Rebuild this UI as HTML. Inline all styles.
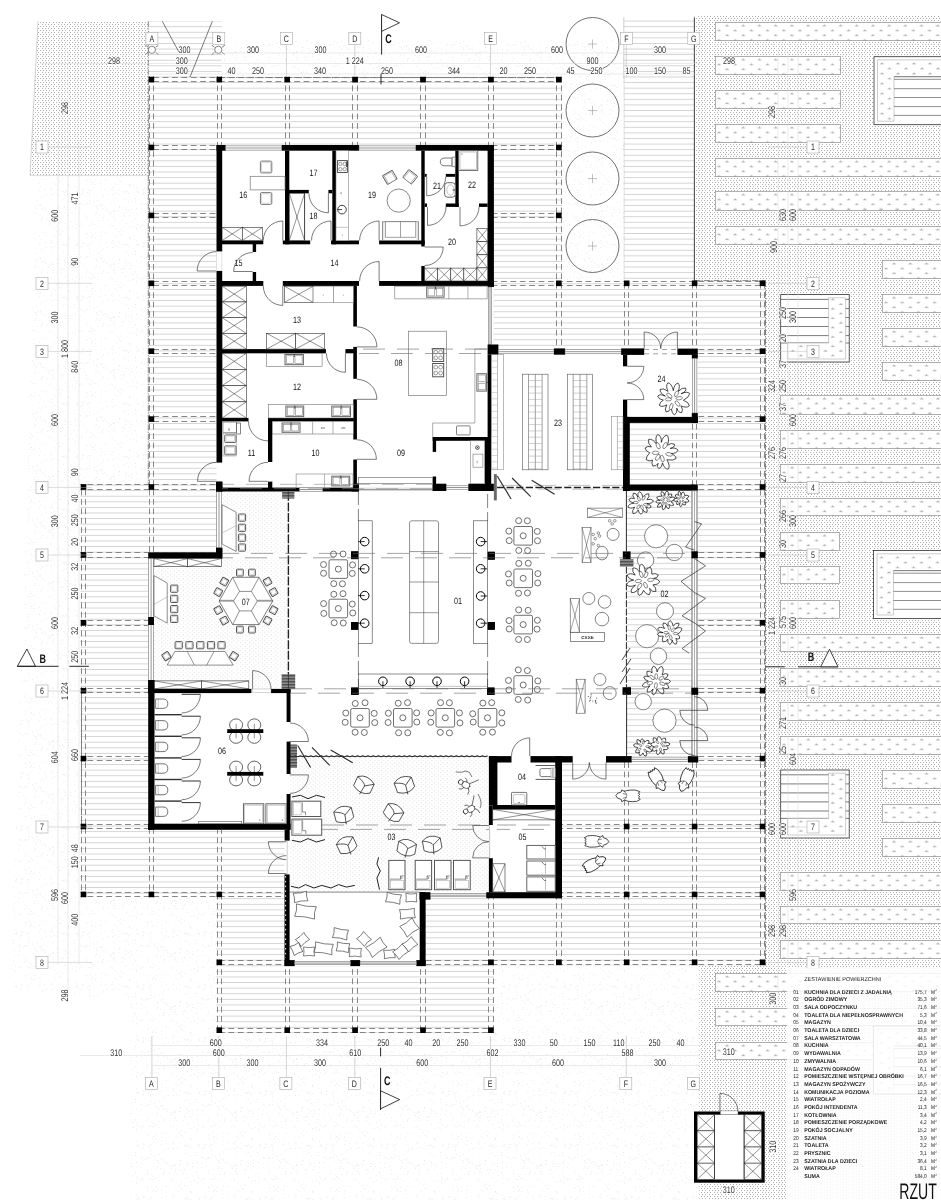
<!DOCTYPE html>
<html lang="pl"><head><meta charset="utf-8"><title>RZUT</title>
<style>
html,body{margin:0;padding:0;background:#fff;}
svg{display:block;font-family:"Liberation Sans",sans-serif;text-rendering:geometricPrecision;filter:grayscale(1);}
</style></head><body>
<svg width="941" height="1200" viewBox="0 0 941 1200">
<defs>
<pattern id="deck" x="0" y="82.1" width="20" height="5.59" patternUnits="userSpaceOnUse">
  <rect x="0" y="0" width="20" height="0.72" fill="#c6c6c6"/>
</pattern>
<pattern id="dense" x="0" y="0" width="16" height="4" patternUnits="userSpaceOnUse">
  <g fill="#adadad"><rect x="0" y="0" width="1" height="1"/><rect x="3" y="0" width="1" height="1"/><rect x="6" y="0" width="1" height="1"/><rect x="10" y="0" width="1" height="1"/><rect x="13" y="0" width="1" height="1"/><rect x="1" y="2" width="1" height="1"/><rect x="5" y="2" width="1" height="1"/><rect x="8" y="2" width="1" height="1"/><rect x="11" y="2" width="1" height="1"/><rect x="14" y="2" width="1" height="1"/></g>
</pattern>
<pattern id="sparse" x="0" y="0" width="61" height="53" patternUnits="userSpaceOnUse"><g fill="#d2d2d2"><circle cx="14.5" cy="28.8" r="0.4"/><circle cx="55.9" cy="25.1" r="0.45"/><circle cx="4.0" cy="0.7" r="0.4"/><circle cx="15.8" cy="12.4" r="0.45"/><circle cx="28.7" cy="44.3" r="0.4"/><circle cx="24.2" cy="45.6" r="0.35"/><circle cx="38.7" cy="46.0" r="0.45"/><circle cx="23.8" cy="0.8" r="0.35"/><circle cx="9.7" cy="50.7" r="0.35"/><circle cx="18.4" cy="1.6" r="0.4"/><circle cx="28.8" cy="38.1" r="0.4"/><circle cx="43.6" cy="48.8" r="0.4"/><circle cx="44.4" cy="30.6" r="0.35"/><circle cx="53.6" cy="5.2" r="0.35"/><circle cx="30.2" cy="13.7" r="0.45"/><circle cx="26.6" cy="33.2" r="0.4"/><circle cx="25.7" cy="44.2" r="0.45"/><circle cx="21.4" cy="31.0" r="0.45"/><circle cx="14.2" cy="17.8" r="0.35"/><circle cx="52.2" cy="52.5" r="0.45"/><circle cx="42.4" cy="37.0" r="0.4"/><circle cx="58.8" cy="47.9" r="0.45"/><circle cx="6.3" cy="34.7" r="0.45"/><circle cx="50.7" cy="30.4" r="0.4"/><circle cx="7.6" cy="25.5" r="0.45"/><circle cx="60.4" cy="4.7" r="0.35"/><circle cx="25.0" cy="8.0" r="0.4"/><circle cx="26.1" cy="22.0" r="0.35"/><circle cx="2.7" cy="32.6" r="0.35"/><circle cx="23.0" cy="31.1" r="0.45"/><circle cx="53.7" cy="52.0" r="0.45"/><circle cx="14.4" cy="1.9" r="0.35"/><circle cx="4.7" cy="31.8" r="0.35"/><circle cx="57.9" cy="51.5" r="0.4"/><circle cx="37.2" cy="8.3" r="0.35"/><circle cx="59.8" cy="18.0" r="0.4"/><circle cx="58.5" cy="47.5" r="0.4"/><circle cx="23.0" cy="46.1" r="0.4"/><circle cx="39.3" cy="31.6" r="0.45"/><circle cx="6.3" cy="51.6" r="0.45"/><circle cx="16.5" cy="33.6" r="0.45"/><circle cx="14.5" cy="16.0" r="0.4"/><circle cx="31.8" cy="29.1" r="0.35"/><circle cx="48.1" cy="52.3" r="0.4"/><circle cx="1.2" cy="32.6" r="0.45"/><circle cx="8.1" cy="33.6" r="0.4"/><circle cx="28.4" cy="36.0" r="0.4"/><circle cx="37.1" cy="14.8" r="0.4"/><circle cx="1.4" cy="3.2" r="0.45"/><circle cx="1.3" cy="19.6" r="0.45"/><circle cx="27.8" cy="31.4" r="0.4"/><circle cx="10.8" cy="9.8" r="0.4"/><circle cx="51.5" cy="14.0" r="0.4"/><circle cx="6.4" cy="43.1" r="0.45"/><circle cx="41.7" cy="7.0" r="0.45"/><circle cx="13.6" cy="42.6" r="0.35"/><circle cx="20.0" cy="35.9" r="0.45"/><circle cx="42.6" cy="5.4" r="0.4"/><circle cx="57.9" cy="35.8" r="0.35"/><circle cx="26.7" cy="45.3" r="0.35"/><circle cx="4.9" cy="39.3" r="0.35"/><circle cx="54.0" cy="23.9" r="0.35"/><circle cx="48.0" cy="1.8" r="0.35"/><circle cx="19.2" cy="44.3" r="0.45"/><circle cx="11.2" cy="14.8" r="0.45"/><circle cx="5.2" cy="32.8" r="0.45"/><circle cx="7.9" cy="15.5" r="0.4"/><circle cx="28.3" cy="33.6" r="0.4"/><circle cx="25.6" cy="21.7" r="0.4"/><circle cx="9.5" cy="0.2" r="0.45"/><circle cx="60.2" cy="23.0" r="0.45"/><circle cx="13.5" cy="39.5" r="0.45"/><circle cx="45.6" cy="51.1" r="0.45"/><circle cx="20.8" cy="12.1" r="0.35"/><circle cx="52.3" cy="51.5" r="0.35"/><circle cx="49.4" cy="2.4" r="0.45"/><circle cx="31.3" cy="10.5" r="0.4"/><circle cx="35.2" cy="0.7" r="0.45"/><circle cx="7.4" cy="26.7" r="0.35"/><circle cx="40.4" cy="27.8" r="0.4"/><circle cx="3.2" cy="48.4" r="0.35"/><circle cx="20.8" cy="13.4" r="0.45"/><circle cx="29.1" cy="41.5" r="0.4"/><circle cx="13.5" cy="6.5" r="0.35"/><circle cx="10.4" cy="42.0" r="0.35"/><circle cx="50.2" cy="0.4" r="0.45"/><circle cx="34.8" cy="21.2" r="0.4"/><circle cx="15.1" cy="32.8" r="0.45"/><circle cx="25.8" cy="25.1" r="0.35"/><circle cx="52.3" cy="41.1" r="0.35"/><circle cx="7.6" cy="3.6" r="0.35"/><circle cx="52.1" cy="4.6" r="0.45"/><circle cx="29.9" cy="8.3" r="0.35"/><circle cx="21.4" cy="34.3" r="0.45"/><circle cx="18.6" cy="14.0" r="0.4"/><circle cx="26.2" cy="6.8" r="0.35"/><circle cx="43.7" cy="20.2" r="0.35"/><circle cx="34.6" cy="2.3" r="0.4"/><circle cx="36.9" cy="41.5" r="0.4"/><circle cx="38.8" cy="2.3" r="0.4"/><circle cx="3.2" cy="33.3" r="0.45"/><circle cx="19.2" cy="50.4" r="0.4"/><circle cx="28.1" cy="13.0" r="0.45"/><circle cx="16.5" cy="31.3" r="0.4"/><circle cx="13.7" cy="6.9" r="0.35"/><circle cx="57.1" cy="19.8" r="0.45"/><circle cx="48.2" cy="13.9" r="0.4"/><circle cx="42.1" cy="49.8" r="0.45"/><circle cx="40.4" cy="47.0" r="0.4"/><circle cx="40.7" cy="38.9" r="0.45"/><circle cx="32.5" cy="43.0" r="0.45"/><circle cx="0.3" cy="7.6" r="0.4"/><circle cx="2.7" cy="4.9" r="0.35"/><circle cx="40.2" cy="19.9" r="0.35"/><circle cx="20.8" cy="45.2" r="0.35"/><circle cx="51.5" cy="35.7" r="0.45"/><circle cx="58.1" cy="30.7" r="0.35"/><circle cx="2.2" cy="40.7" r="0.45"/><circle cx="32.3" cy="12.6" r="0.45"/><circle cx="45.7" cy="49.5" r="0.35"/><circle cx="33.6" cy="46.1" r="0.35"/><circle cx="50.5" cy="12.8" r="0.35"/><circle cx="39.4" cy="24.1" r="0.45"/><circle cx="46.0" cy="20.9" r="0.4"/><circle cx="36.6" cy="49.8" r="0.45"/><circle cx="25.5" cy="4.4" r="0.45"/><circle cx="14.4" cy="49.3" r="0.45"/><circle cx="59.0" cy="22.0" r="0.45"/><circle cx="46.1" cy="35.7" r="0.45"/><circle cx="41.8" cy="8.3" r="0.4"/><circle cx="54.7" cy="7.9" r="0.35"/><circle cx="30.4" cy="25.6" r="0.45"/><circle cx="31.6" cy="23.5" r="0.45"/><circle cx="52.3" cy="7.2" r="0.35"/><circle cx="8.9" cy="27.3" r="0.35"/><circle cx="51.9" cy="28.5" r="0.4"/><circle cx="41.0" cy="45.3" r="0.45"/><circle cx="52.1" cy="31.0" r="0.4"/><circle cx="54.3" cy="16.3" r="0.4"/><circle cx="29.2" cy="20.3" r="0.35"/><circle cx="34.8" cy="12.7" r="0.4"/><circle cx="47.2" cy="7.6" r="0.45"/><circle cx="29.3" cy="31.7" r="0.4"/><circle cx="35.4" cy="47.8" r="0.45"/><circle cx="34.0" cy="25.5" r="0.45"/><circle cx="4.4" cy="50.2" r="0.45"/><circle cx="53.8" cy="2.4" r="0.35"/><circle cx="54.4" cy="34.4" r="0.45"/><circle cx="4.2" cy="11.5" r="0.4"/><circle cx="14.8" cy="10.1" r="0.4"/></g></pattern>
<pattern id="floor" x="0" y="0" width="4.4" height="4.0" patternUnits="userSpaceOnUse">
  <circle cx="0.8" cy="0.8" r="0.4" fill="#a9a9a9"/>
  <circle cx="3.0" cy="2.8" r="0.4" fill="#a9a9a9"/>
</pattern>
<pattern id="hatch" x="0" y="0" width="1.5" height="1.5" patternUnits="userSpaceOnUse">
  <rect x="0" y="0" width="1.5" height="1.5" fill="#9a9a9a"/>
  <rect x="0" y="0" width="1.5" height="0.7" fill="#3c3c3c"/>
</pattern>
<g id="pl" fill="none" stroke="#9a9a9a" stroke-width="0.5">
  <path d="M-2,0.3 H2 M0,-1.4 V0.3 M-1,-0.7 L0,0.3 L1,-0.7"/>
</g>
</defs>
<rect x="0" y="0" width="941" height="1200" fill="#fff"/>

<polygon points="36,176 150,176 150,484 80,484 80,898 216,898 216,1034 494,1034 494,967 699,967 699,1200 130,1200 130,1000 10,990 20,700 30,400" fill="url(#sparse)" stroke="none" stroke-width="0.6" />
<rect x="562" y="80" width="62" height="201" fill="url(#sparse)" stroke="none" stroke-width="0.6" />
<rect x="222" y="40" width="402" height="37" fill="url(#sparse)" stroke="none" stroke-width="0.6" />
<polygon points="38,21 148.3,21 148.3,175.6 30,175.6" fill="url(#dense)" stroke="none" stroke-width="0.6" />
<line x1="38" y1="21" x2="30" y2="175.6" stroke="#aaa" stroke-width="0.5" />
<line x1="30" y1="175.6" x2="148.3" y2="175.6" stroke="#aaa" stroke-width="0.4" />
<polygon points="694.5,16 941,16 941,1200 699.3,1200 699.3,965.5 765.5,965.5 765.5,280.5 694.5,280.5" fill="url(#dense)" stroke="none" stroke-width="0.6" />
<rect x="715.5" y="22.5" width="235" height="18" fill="#fff" stroke="#909090" stroke-width="0.7" />
<clipPath id="c715_22"><rect x="715.5" y="22.2" width="235" height="18.6"/></clipPath><g clip-path="url(#c715_22)">
<use href="#pl" x="719" y="21"/>
<use href="#pl" x="735.2" y="21"/>
<use href="#pl" x="751.4" y="21"/>
<use href="#pl" x="767.6" y="21"/>
<use href="#pl" x="783.8" y="21"/>
<use href="#pl" x="800" y="21"/>
<use href="#pl" x="816.2" y="21"/>
<use href="#pl" x="832.4" y="21"/>
<use href="#pl" x="848.6" y="21"/>
<use href="#pl" x="864.8" y="21"/>
<use href="#pl" x="881" y="21"/>
<use href="#pl" x="897.2" y="21"/>
<use href="#pl" x="913.4" y="21"/>
<use href="#pl" x="929.6" y="21"/>
<use href="#pl" x="945.8" y="21"/>
<use href="#pl" x="727.1" y="25.8"/>
<use href="#pl" x="743.3" y="25.8"/>
<use href="#pl" x="759.5" y="25.8"/>
<use href="#pl" x="775.7" y="25.8"/>
<use href="#pl" x="791.9" y="25.8"/>
<use href="#pl" x="808.1" y="25.8"/>
<use href="#pl" x="824.3" y="25.8"/>
<use href="#pl" x="840.5" y="25.8"/>
<use href="#pl" x="856.7" y="25.8"/>
<use href="#pl" x="872.9" y="25.8"/>
<use href="#pl" x="889.1" y="25.8"/>
<use href="#pl" x="905.3" y="25.8"/>
<use href="#pl" x="921.5" y="25.8"/>
<use href="#pl" x="937.7" y="25.8"/>
<use href="#pl" x="719" y="30.6"/>
<use href="#pl" x="735.2" y="30.6"/>
<use href="#pl" x="751.4" y="30.6"/>
<use href="#pl" x="767.6" y="30.6"/>
<use href="#pl" x="783.8" y="30.6"/>
<use href="#pl" x="800" y="30.6"/>
<use href="#pl" x="816.2" y="30.6"/>
<use href="#pl" x="832.4" y="30.6"/>
<use href="#pl" x="848.6" y="30.6"/>
<use href="#pl" x="864.8" y="30.6"/>
<use href="#pl" x="881" y="30.6"/>
<use href="#pl" x="897.2" y="30.6"/>
<use href="#pl" x="913.4" y="30.6"/>
<use href="#pl" x="929.6" y="30.6"/>
<use href="#pl" x="945.8" y="30.6"/>
<use href="#pl" x="727.1" y="35.4"/>
<use href="#pl" x="743.3" y="35.4"/>
<use href="#pl" x="759.5" y="35.4"/>
<use href="#pl" x="775.7" y="35.4"/>
<use href="#pl" x="791.9" y="35.4"/>
<use href="#pl" x="808.1" y="35.4"/>
<use href="#pl" x="824.3" y="35.4"/>
<use href="#pl" x="840.5" y="35.4"/>
<use href="#pl" x="856.7" y="35.4"/>
<use href="#pl" x="872.9" y="35.4"/>
<use href="#pl" x="889.1" y="35.4"/>
<use href="#pl" x="905.3" y="35.4"/>
<use href="#pl" x="921.5" y="35.4"/>
<use href="#pl" x="937.7" y="35.4"/>
<use href="#pl" x="719" y="40.2"/>
<use href="#pl" x="735.2" y="40.2"/>
<use href="#pl" x="751.4" y="40.2"/>
<use href="#pl" x="767.6" y="40.2"/>
<use href="#pl" x="783.8" y="40.2"/>
<use href="#pl" x="800" y="40.2"/>
<use href="#pl" x="816.2" y="40.2"/>
<use href="#pl" x="832.4" y="40.2"/>
<use href="#pl" x="848.6" y="40.2"/>
<use href="#pl" x="864.8" y="40.2"/>
<use href="#pl" x="881" y="40.2"/>
<use href="#pl" x="897.2" y="40.2"/>
<use href="#pl" x="913.4" y="40.2"/>
<use href="#pl" x="929.6" y="40.2"/>
<use href="#pl" x="945.8" y="40.2"/>
</g>
<rect x="715.5" y="56.5" width="125" height="18" fill="#fff" stroke="#909090" stroke-width="0.7" />
<clipPath id="c715_56"><rect x="715.5" y="56.2" width="125" height="18.6"/></clipPath><g clip-path="url(#c715_56)">
<use href="#pl" x="719" y="55"/>
<use href="#pl" x="735.2" y="55"/>
<use href="#pl" x="751.4" y="55"/>
<use href="#pl" x="767.6" y="55"/>
<use href="#pl" x="783.8" y="55"/>
<use href="#pl" x="800" y="55"/>
<use href="#pl" x="816.2" y="55"/>
<use href="#pl" x="832.4" y="55"/>
<use href="#pl" x="727.1" y="59.8"/>
<use href="#pl" x="743.3" y="59.8"/>
<use href="#pl" x="759.5" y="59.8"/>
<use href="#pl" x="775.7" y="59.8"/>
<use href="#pl" x="791.9" y="59.8"/>
<use href="#pl" x="808.1" y="59.8"/>
<use href="#pl" x="824.3" y="59.8"/>
<use href="#pl" x="840.5" y="59.8"/>
<use href="#pl" x="719" y="64.6"/>
<use href="#pl" x="735.2" y="64.6"/>
<use href="#pl" x="751.4" y="64.6"/>
<use href="#pl" x="767.6" y="64.6"/>
<use href="#pl" x="783.8" y="64.6"/>
<use href="#pl" x="800" y="64.6"/>
<use href="#pl" x="816.2" y="64.6"/>
<use href="#pl" x="832.4" y="64.6"/>
<use href="#pl" x="727.1" y="69.4"/>
<use href="#pl" x="743.3" y="69.4"/>
<use href="#pl" x="759.5" y="69.4"/>
<use href="#pl" x="775.7" y="69.4"/>
<use href="#pl" x="791.9" y="69.4"/>
<use href="#pl" x="808.1" y="69.4"/>
<use href="#pl" x="824.3" y="69.4"/>
<use href="#pl" x="840.5" y="69.4"/>
<use href="#pl" x="719" y="74.2"/>
<use href="#pl" x="735.2" y="74.2"/>
<use href="#pl" x="751.4" y="74.2"/>
<use href="#pl" x="767.6" y="74.2"/>
<use href="#pl" x="783.8" y="74.2"/>
<use href="#pl" x="800" y="74.2"/>
<use href="#pl" x="816.2" y="74.2"/>
<use href="#pl" x="832.4" y="74.2"/>
</g>
<rect x="715.5" y="90.5" width="125" height="18" fill="#fff" stroke="#909090" stroke-width="0.7" />
<clipPath id="c715_90"><rect x="715.5" y="90.2" width="125" height="18.6"/></clipPath><g clip-path="url(#c715_90)">
<use href="#pl" x="719" y="89"/>
<use href="#pl" x="735.2" y="89"/>
<use href="#pl" x="751.4" y="89"/>
<use href="#pl" x="767.6" y="89"/>
<use href="#pl" x="783.8" y="89"/>
<use href="#pl" x="800" y="89"/>
<use href="#pl" x="816.2" y="89"/>
<use href="#pl" x="832.4" y="89"/>
<use href="#pl" x="727.1" y="93.8"/>
<use href="#pl" x="743.3" y="93.8"/>
<use href="#pl" x="759.5" y="93.8"/>
<use href="#pl" x="775.7" y="93.8"/>
<use href="#pl" x="791.9" y="93.8"/>
<use href="#pl" x="808.1" y="93.8"/>
<use href="#pl" x="824.3" y="93.8"/>
<use href="#pl" x="840.5" y="93.8"/>
<use href="#pl" x="719" y="98.6"/>
<use href="#pl" x="735.2" y="98.6"/>
<use href="#pl" x="751.4" y="98.6"/>
<use href="#pl" x="767.6" y="98.6"/>
<use href="#pl" x="783.8" y="98.6"/>
<use href="#pl" x="800" y="98.6"/>
<use href="#pl" x="816.2" y="98.6"/>
<use href="#pl" x="832.4" y="98.6"/>
<use href="#pl" x="727.1" y="103.4"/>
<use href="#pl" x="743.3" y="103.4"/>
<use href="#pl" x="759.5" y="103.4"/>
<use href="#pl" x="775.7" y="103.4"/>
<use href="#pl" x="791.9" y="103.4"/>
<use href="#pl" x="808.1" y="103.4"/>
<use href="#pl" x="824.3" y="103.4"/>
<use href="#pl" x="840.5" y="103.4"/>
<use href="#pl" x="719" y="108.2"/>
<use href="#pl" x="735.2" y="108.2"/>
<use href="#pl" x="751.4" y="108.2"/>
<use href="#pl" x="767.6" y="108.2"/>
<use href="#pl" x="783.8" y="108.2"/>
<use href="#pl" x="800" y="108.2"/>
<use href="#pl" x="816.2" y="108.2"/>
<use href="#pl" x="832.4" y="108.2"/>
</g>
<rect x="715.5" y="124.5" width="125" height="18" fill="#fff" stroke="#909090" stroke-width="0.7" />
<clipPath id="c715_124"><rect x="715.5" y="124.2" width="125" height="18.6"/></clipPath><g clip-path="url(#c715_124)">
<use href="#pl" x="719" y="123"/>
<use href="#pl" x="735.2" y="123"/>
<use href="#pl" x="751.4" y="123"/>
<use href="#pl" x="767.6" y="123"/>
<use href="#pl" x="783.8" y="123"/>
<use href="#pl" x="800" y="123"/>
<use href="#pl" x="816.2" y="123"/>
<use href="#pl" x="832.4" y="123"/>
<use href="#pl" x="727.1" y="127.8"/>
<use href="#pl" x="743.3" y="127.8"/>
<use href="#pl" x="759.5" y="127.8"/>
<use href="#pl" x="775.7" y="127.8"/>
<use href="#pl" x="791.9" y="127.8"/>
<use href="#pl" x="808.1" y="127.8"/>
<use href="#pl" x="824.3" y="127.8"/>
<use href="#pl" x="840.5" y="127.8"/>
<use href="#pl" x="719" y="132.6"/>
<use href="#pl" x="735.2" y="132.6"/>
<use href="#pl" x="751.4" y="132.6"/>
<use href="#pl" x="767.6" y="132.6"/>
<use href="#pl" x="783.8" y="132.6"/>
<use href="#pl" x="800" y="132.6"/>
<use href="#pl" x="816.2" y="132.6"/>
<use href="#pl" x="832.4" y="132.6"/>
<use href="#pl" x="727.1" y="137.4"/>
<use href="#pl" x="743.3" y="137.4"/>
<use href="#pl" x="759.5" y="137.4"/>
<use href="#pl" x="775.7" y="137.4"/>
<use href="#pl" x="791.9" y="137.4"/>
<use href="#pl" x="808.1" y="137.4"/>
<use href="#pl" x="824.3" y="137.4"/>
<use href="#pl" x="840.5" y="137.4"/>
<use href="#pl" x="719" y="142.2"/>
<use href="#pl" x="735.2" y="142.2"/>
<use href="#pl" x="751.4" y="142.2"/>
<use href="#pl" x="767.6" y="142.2"/>
<use href="#pl" x="783.8" y="142.2"/>
<use href="#pl" x="800" y="142.2"/>
<use href="#pl" x="816.2" y="142.2"/>
<use href="#pl" x="832.4" y="142.2"/>
</g>
<rect x="715.5" y="158.5" width="235" height="18" fill="#fff" stroke="#909090" stroke-width="0.7" />
<clipPath id="c715_158"><rect x="715.5" y="158.2" width="235" height="18.6"/></clipPath><g clip-path="url(#c715_158)">
<use href="#pl" x="719" y="157"/>
<use href="#pl" x="735.2" y="157"/>
<use href="#pl" x="751.4" y="157"/>
<use href="#pl" x="767.6" y="157"/>
<use href="#pl" x="783.8" y="157"/>
<use href="#pl" x="800" y="157"/>
<use href="#pl" x="816.2" y="157"/>
<use href="#pl" x="832.4" y="157"/>
<use href="#pl" x="848.6" y="157"/>
<use href="#pl" x="864.8" y="157"/>
<use href="#pl" x="881" y="157"/>
<use href="#pl" x="897.2" y="157"/>
<use href="#pl" x="913.4" y="157"/>
<use href="#pl" x="929.6" y="157"/>
<use href="#pl" x="945.8" y="157"/>
<use href="#pl" x="727.1" y="161.8"/>
<use href="#pl" x="743.3" y="161.8"/>
<use href="#pl" x="759.5" y="161.8"/>
<use href="#pl" x="775.7" y="161.8"/>
<use href="#pl" x="791.9" y="161.8"/>
<use href="#pl" x="808.1" y="161.8"/>
<use href="#pl" x="824.3" y="161.8"/>
<use href="#pl" x="840.5" y="161.8"/>
<use href="#pl" x="856.7" y="161.8"/>
<use href="#pl" x="872.9" y="161.8"/>
<use href="#pl" x="889.1" y="161.8"/>
<use href="#pl" x="905.3" y="161.8"/>
<use href="#pl" x="921.5" y="161.8"/>
<use href="#pl" x="937.7" y="161.8"/>
<use href="#pl" x="719" y="166.6"/>
<use href="#pl" x="735.2" y="166.6"/>
<use href="#pl" x="751.4" y="166.6"/>
<use href="#pl" x="767.6" y="166.6"/>
<use href="#pl" x="783.8" y="166.6"/>
<use href="#pl" x="800" y="166.6"/>
<use href="#pl" x="816.2" y="166.6"/>
<use href="#pl" x="832.4" y="166.6"/>
<use href="#pl" x="848.6" y="166.6"/>
<use href="#pl" x="864.8" y="166.6"/>
<use href="#pl" x="881" y="166.6"/>
<use href="#pl" x="897.2" y="166.6"/>
<use href="#pl" x="913.4" y="166.6"/>
<use href="#pl" x="929.6" y="166.6"/>
<use href="#pl" x="945.8" y="166.6"/>
<use href="#pl" x="727.1" y="171.4"/>
<use href="#pl" x="743.3" y="171.4"/>
<use href="#pl" x="759.5" y="171.4"/>
<use href="#pl" x="775.7" y="171.4"/>
<use href="#pl" x="791.9" y="171.4"/>
<use href="#pl" x="808.1" y="171.4"/>
<use href="#pl" x="824.3" y="171.4"/>
<use href="#pl" x="840.5" y="171.4"/>
<use href="#pl" x="856.7" y="171.4"/>
<use href="#pl" x="872.9" y="171.4"/>
<use href="#pl" x="889.1" y="171.4"/>
<use href="#pl" x="905.3" y="171.4"/>
<use href="#pl" x="921.5" y="171.4"/>
<use href="#pl" x="937.7" y="171.4"/>
<use href="#pl" x="719" y="176.2"/>
<use href="#pl" x="735.2" y="176.2"/>
<use href="#pl" x="751.4" y="176.2"/>
<use href="#pl" x="767.6" y="176.2"/>
<use href="#pl" x="783.8" y="176.2"/>
<use href="#pl" x="800" y="176.2"/>
<use href="#pl" x="816.2" y="176.2"/>
<use href="#pl" x="832.4" y="176.2"/>
<use href="#pl" x="848.6" y="176.2"/>
<use href="#pl" x="864.8" y="176.2"/>
<use href="#pl" x="881" y="176.2"/>
<use href="#pl" x="897.2" y="176.2"/>
<use href="#pl" x="913.4" y="176.2"/>
<use href="#pl" x="929.6" y="176.2"/>
<use href="#pl" x="945.8" y="176.2"/>
</g>
<rect x="715.5" y="191.5" width="235" height="19" fill="#fff" stroke="#909090" stroke-width="0.7" />
<clipPath id="c715_191"><rect x="715.5" y="191.2" width="235" height="19.6"/></clipPath><g clip-path="url(#c715_191)">
<use href="#pl" x="719" y="190"/>
<use href="#pl" x="735.2" y="190"/>
<use href="#pl" x="751.4" y="190"/>
<use href="#pl" x="767.6" y="190"/>
<use href="#pl" x="783.8" y="190"/>
<use href="#pl" x="800" y="190"/>
<use href="#pl" x="816.2" y="190"/>
<use href="#pl" x="832.4" y="190"/>
<use href="#pl" x="848.6" y="190"/>
<use href="#pl" x="864.8" y="190"/>
<use href="#pl" x="881" y="190"/>
<use href="#pl" x="897.2" y="190"/>
<use href="#pl" x="913.4" y="190"/>
<use href="#pl" x="929.6" y="190"/>
<use href="#pl" x="945.8" y="190"/>
<use href="#pl" x="727.1" y="194.8"/>
<use href="#pl" x="743.3" y="194.8"/>
<use href="#pl" x="759.5" y="194.8"/>
<use href="#pl" x="775.7" y="194.8"/>
<use href="#pl" x="791.9" y="194.8"/>
<use href="#pl" x="808.1" y="194.8"/>
<use href="#pl" x="824.3" y="194.8"/>
<use href="#pl" x="840.5" y="194.8"/>
<use href="#pl" x="856.7" y="194.8"/>
<use href="#pl" x="872.9" y="194.8"/>
<use href="#pl" x="889.1" y="194.8"/>
<use href="#pl" x="905.3" y="194.8"/>
<use href="#pl" x="921.5" y="194.8"/>
<use href="#pl" x="937.7" y="194.8"/>
<use href="#pl" x="719" y="199.6"/>
<use href="#pl" x="735.2" y="199.6"/>
<use href="#pl" x="751.4" y="199.6"/>
<use href="#pl" x="767.6" y="199.6"/>
<use href="#pl" x="783.8" y="199.6"/>
<use href="#pl" x="800" y="199.6"/>
<use href="#pl" x="816.2" y="199.6"/>
<use href="#pl" x="832.4" y="199.6"/>
<use href="#pl" x="848.6" y="199.6"/>
<use href="#pl" x="864.8" y="199.6"/>
<use href="#pl" x="881" y="199.6"/>
<use href="#pl" x="897.2" y="199.6"/>
<use href="#pl" x="913.4" y="199.6"/>
<use href="#pl" x="929.6" y="199.6"/>
<use href="#pl" x="945.8" y="199.6"/>
<use href="#pl" x="727.1" y="204.4"/>
<use href="#pl" x="743.3" y="204.4"/>
<use href="#pl" x="759.5" y="204.4"/>
<use href="#pl" x="775.7" y="204.4"/>
<use href="#pl" x="791.9" y="204.4"/>
<use href="#pl" x="808.1" y="204.4"/>
<use href="#pl" x="824.3" y="204.4"/>
<use href="#pl" x="840.5" y="204.4"/>
<use href="#pl" x="856.7" y="204.4"/>
<use href="#pl" x="872.9" y="204.4"/>
<use href="#pl" x="889.1" y="204.4"/>
<use href="#pl" x="905.3" y="204.4"/>
<use href="#pl" x="921.5" y="204.4"/>
<use href="#pl" x="937.7" y="204.4"/>
<use href="#pl" x="719" y="209.2"/>
<use href="#pl" x="735.2" y="209.2"/>
<use href="#pl" x="751.4" y="209.2"/>
<use href="#pl" x="767.6" y="209.2"/>
<use href="#pl" x="783.8" y="209.2"/>
<use href="#pl" x="800" y="209.2"/>
<use href="#pl" x="816.2" y="209.2"/>
<use href="#pl" x="832.4" y="209.2"/>
<use href="#pl" x="848.6" y="209.2"/>
<use href="#pl" x="864.8" y="209.2"/>
<use href="#pl" x="881" y="209.2"/>
<use href="#pl" x="897.2" y="209.2"/>
<use href="#pl" x="913.4" y="209.2"/>
<use href="#pl" x="929.6" y="209.2"/>
<use href="#pl" x="945.8" y="209.2"/>
</g>
<rect x="715.5" y="226.5" width="235" height="18" fill="#fff" stroke="#909090" stroke-width="0.7" />
<clipPath id="c715_226"><rect x="715.5" y="226.2" width="235" height="18.6"/></clipPath><g clip-path="url(#c715_226)">
<use href="#pl" x="719" y="225"/>
<use href="#pl" x="735.2" y="225"/>
<use href="#pl" x="751.4" y="225"/>
<use href="#pl" x="767.6" y="225"/>
<use href="#pl" x="783.8" y="225"/>
<use href="#pl" x="800" y="225"/>
<use href="#pl" x="816.2" y="225"/>
<use href="#pl" x="832.4" y="225"/>
<use href="#pl" x="848.6" y="225"/>
<use href="#pl" x="864.8" y="225"/>
<use href="#pl" x="881" y="225"/>
<use href="#pl" x="897.2" y="225"/>
<use href="#pl" x="913.4" y="225"/>
<use href="#pl" x="929.6" y="225"/>
<use href="#pl" x="945.8" y="225"/>
<use href="#pl" x="727.1" y="229.8"/>
<use href="#pl" x="743.3" y="229.8"/>
<use href="#pl" x="759.5" y="229.8"/>
<use href="#pl" x="775.7" y="229.8"/>
<use href="#pl" x="791.9" y="229.8"/>
<use href="#pl" x="808.1" y="229.8"/>
<use href="#pl" x="824.3" y="229.8"/>
<use href="#pl" x="840.5" y="229.8"/>
<use href="#pl" x="856.7" y="229.8"/>
<use href="#pl" x="872.9" y="229.8"/>
<use href="#pl" x="889.1" y="229.8"/>
<use href="#pl" x="905.3" y="229.8"/>
<use href="#pl" x="921.5" y="229.8"/>
<use href="#pl" x="937.7" y="229.8"/>
<use href="#pl" x="719" y="234.6"/>
<use href="#pl" x="735.2" y="234.6"/>
<use href="#pl" x="751.4" y="234.6"/>
<use href="#pl" x="767.6" y="234.6"/>
<use href="#pl" x="783.8" y="234.6"/>
<use href="#pl" x="800" y="234.6"/>
<use href="#pl" x="816.2" y="234.6"/>
<use href="#pl" x="832.4" y="234.6"/>
<use href="#pl" x="848.6" y="234.6"/>
<use href="#pl" x="864.8" y="234.6"/>
<use href="#pl" x="881" y="234.6"/>
<use href="#pl" x="897.2" y="234.6"/>
<use href="#pl" x="913.4" y="234.6"/>
<use href="#pl" x="929.6" y="234.6"/>
<use href="#pl" x="945.8" y="234.6"/>
<use href="#pl" x="727.1" y="239.4"/>
<use href="#pl" x="743.3" y="239.4"/>
<use href="#pl" x="759.5" y="239.4"/>
<use href="#pl" x="775.7" y="239.4"/>
<use href="#pl" x="791.9" y="239.4"/>
<use href="#pl" x="808.1" y="239.4"/>
<use href="#pl" x="824.3" y="239.4"/>
<use href="#pl" x="840.5" y="239.4"/>
<use href="#pl" x="856.7" y="239.4"/>
<use href="#pl" x="872.9" y="239.4"/>
<use href="#pl" x="889.1" y="239.4"/>
<use href="#pl" x="905.3" y="239.4"/>
<use href="#pl" x="921.5" y="239.4"/>
<use href="#pl" x="937.7" y="239.4"/>
<use href="#pl" x="719" y="244.2"/>
<use href="#pl" x="735.2" y="244.2"/>
<use href="#pl" x="751.4" y="244.2"/>
<use href="#pl" x="767.6" y="244.2"/>
<use href="#pl" x="783.8" y="244.2"/>
<use href="#pl" x="800" y="244.2"/>
<use href="#pl" x="816.2" y="244.2"/>
<use href="#pl" x="832.4" y="244.2"/>
<use href="#pl" x="848.6" y="244.2"/>
<use href="#pl" x="864.8" y="244.2"/>
<use href="#pl" x="881" y="244.2"/>
<use href="#pl" x="897.2" y="244.2"/>
<use href="#pl" x="913.4" y="244.2"/>
<use href="#pl" x="929.6" y="244.2"/>
<use href="#pl" x="945.8" y="244.2"/>
</g>
<rect x="882.5" y="260.5" width="68" height="18" fill="#fff" stroke="#909090" stroke-width="0.7" />
<clipPath id="c882_260"><rect x="882.5" y="260.2" width="68" height="18.6"/></clipPath><g clip-path="url(#c882_260)">
<use href="#pl" x="886" y="259"/>
<use href="#pl" x="902.2" y="259"/>
<use href="#pl" x="918.4" y="259"/>
<use href="#pl" x="934.6" y="259"/>
<use href="#pl" x="950.8" y="259"/>
<use href="#pl" x="894.1" y="263.8"/>
<use href="#pl" x="910.3" y="263.8"/>
<use href="#pl" x="926.5" y="263.8"/>
<use href="#pl" x="942.7" y="263.8"/>
<use href="#pl" x="886" y="268.6"/>
<use href="#pl" x="902.2" y="268.6"/>
<use href="#pl" x="918.4" y="268.6"/>
<use href="#pl" x="934.6" y="268.6"/>
<use href="#pl" x="950.8" y="268.6"/>
<use href="#pl" x="894.1" y="273.4"/>
<use href="#pl" x="910.3" y="273.4"/>
<use href="#pl" x="926.5" y="273.4"/>
<use href="#pl" x="942.7" y="273.4"/>
<use href="#pl" x="886" y="278.2"/>
<use href="#pl" x="902.2" y="278.2"/>
<use href="#pl" x="918.4" y="278.2"/>
<use href="#pl" x="934.6" y="278.2"/>
<use href="#pl" x="950.8" y="278.2"/>
</g>
<rect x="882.5" y="294.5" width="68" height="18" fill="#fff" stroke="#909090" stroke-width="0.7" />
<clipPath id="c882_294"><rect x="882.5" y="294.2" width="68" height="18.6"/></clipPath><g clip-path="url(#c882_294)">
<use href="#pl" x="886" y="293"/>
<use href="#pl" x="902.2" y="293"/>
<use href="#pl" x="918.4" y="293"/>
<use href="#pl" x="934.6" y="293"/>
<use href="#pl" x="950.8" y="293"/>
<use href="#pl" x="894.1" y="297.8"/>
<use href="#pl" x="910.3" y="297.8"/>
<use href="#pl" x="926.5" y="297.8"/>
<use href="#pl" x="942.7" y="297.8"/>
<use href="#pl" x="886" y="302.6"/>
<use href="#pl" x="902.2" y="302.6"/>
<use href="#pl" x="918.4" y="302.6"/>
<use href="#pl" x="934.6" y="302.6"/>
<use href="#pl" x="950.8" y="302.6"/>
<use href="#pl" x="894.1" y="307.4"/>
<use href="#pl" x="910.3" y="307.4"/>
<use href="#pl" x="926.5" y="307.4"/>
<use href="#pl" x="942.7" y="307.4"/>
<use href="#pl" x="886" y="312.2"/>
<use href="#pl" x="902.2" y="312.2"/>
<use href="#pl" x="918.4" y="312.2"/>
<use href="#pl" x="934.6" y="312.2"/>
<use href="#pl" x="950.8" y="312.2"/>
</g>
<rect x="882.5" y="328.5" width="68" height="18" fill="#fff" stroke="#909090" stroke-width="0.7" />
<clipPath id="c882_328"><rect x="882.5" y="328.2" width="68" height="18.6"/></clipPath><g clip-path="url(#c882_328)">
<use href="#pl" x="886" y="327"/>
<use href="#pl" x="902.2" y="327"/>
<use href="#pl" x="918.4" y="327"/>
<use href="#pl" x="934.6" y="327"/>
<use href="#pl" x="950.8" y="327"/>
<use href="#pl" x="894.1" y="331.8"/>
<use href="#pl" x="910.3" y="331.8"/>
<use href="#pl" x="926.5" y="331.8"/>
<use href="#pl" x="942.7" y="331.8"/>
<use href="#pl" x="886" y="336.6"/>
<use href="#pl" x="902.2" y="336.6"/>
<use href="#pl" x="918.4" y="336.6"/>
<use href="#pl" x="934.6" y="336.6"/>
<use href="#pl" x="950.8" y="336.6"/>
<use href="#pl" x="894.1" y="341.4"/>
<use href="#pl" x="910.3" y="341.4"/>
<use href="#pl" x="926.5" y="341.4"/>
<use href="#pl" x="942.7" y="341.4"/>
<use href="#pl" x="886" y="346.2"/>
<use href="#pl" x="902.2" y="346.2"/>
<use href="#pl" x="918.4" y="346.2"/>
<use href="#pl" x="934.6" y="346.2"/>
<use href="#pl" x="950.8" y="346.2"/>
</g>
<rect x="882.5" y="362.5" width="68" height="18" fill="#fff" stroke="#909090" stroke-width="0.7" />
<clipPath id="c882_362"><rect x="882.5" y="362.2" width="68" height="18.6"/></clipPath><g clip-path="url(#c882_362)">
<use href="#pl" x="886" y="361"/>
<use href="#pl" x="902.2" y="361"/>
<use href="#pl" x="918.4" y="361"/>
<use href="#pl" x="934.6" y="361"/>
<use href="#pl" x="950.8" y="361"/>
<use href="#pl" x="894.1" y="365.8"/>
<use href="#pl" x="910.3" y="365.8"/>
<use href="#pl" x="926.5" y="365.8"/>
<use href="#pl" x="942.7" y="365.8"/>
<use href="#pl" x="886" y="370.6"/>
<use href="#pl" x="902.2" y="370.6"/>
<use href="#pl" x="918.4" y="370.6"/>
<use href="#pl" x="934.6" y="370.6"/>
<use href="#pl" x="950.8" y="370.6"/>
<use href="#pl" x="894.1" y="375.4"/>
<use href="#pl" x="910.3" y="375.4"/>
<use href="#pl" x="926.5" y="375.4"/>
<use href="#pl" x="942.7" y="375.4"/>
<use href="#pl" x="886" y="380.2"/>
<use href="#pl" x="902.2" y="380.2"/>
<use href="#pl" x="918.4" y="380.2"/>
<use href="#pl" x="934.6" y="380.2"/>
<use href="#pl" x="950.8" y="380.2"/>
</g>
<rect x="780.5" y="395.5" width="170" height="19" fill="#fff" stroke="#909090" stroke-width="0.7" />
<clipPath id="c780_395"><rect x="780.5" y="395.2" width="170" height="19.6"/></clipPath><g clip-path="url(#c780_395)">
<use href="#pl" x="784" y="394"/>
<use href="#pl" x="800.2" y="394"/>
<use href="#pl" x="816.4" y="394"/>
<use href="#pl" x="832.6" y="394"/>
<use href="#pl" x="848.8" y="394"/>
<use href="#pl" x="865" y="394"/>
<use href="#pl" x="881.2" y="394"/>
<use href="#pl" x="897.4" y="394"/>
<use href="#pl" x="913.6" y="394"/>
<use href="#pl" x="929.8" y="394"/>
<use href="#pl" x="946" y="394"/>
<use href="#pl" x="792.1" y="398.8"/>
<use href="#pl" x="808.3" y="398.8"/>
<use href="#pl" x="824.5" y="398.8"/>
<use href="#pl" x="840.7" y="398.8"/>
<use href="#pl" x="856.9" y="398.8"/>
<use href="#pl" x="873.1" y="398.8"/>
<use href="#pl" x="889.3" y="398.8"/>
<use href="#pl" x="905.5" y="398.8"/>
<use href="#pl" x="921.7" y="398.8"/>
<use href="#pl" x="937.9" y="398.8"/>
<use href="#pl" x="784" y="403.6"/>
<use href="#pl" x="800.2" y="403.6"/>
<use href="#pl" x="816.4" y="403.6"/>
<use href="#pl" x="832.6" y="403.6"/>
<use href="#pl" x="848.8" y="403.6"/>
<use href="#pl" x="865" y="403.6"/>
<use href="#pl" x="881.2" y="403.6"/>
<use href="#pl" x="897.4" y="403.6"/>
<use href="#pl" x="913.6" y="403.6"/>
<use href="#pl" x="929.8" y="403.6"/>
<use href="#pl" x="946" y="403.6"/>
<use href="#pl" x="792.1" y="408.4"/>
<use href="#pl" x="808.3" y="408.4"/>
<use href="#pl" x="824.5" y="408.4"/>
<use href="#pl" x="840.7" y="408.4"/>
<use href="#pl" x="856.9" y="408.4"/>
<use href="#pl" x="873.1" y="408.4"/>
<use href="#pl" x="889.3" y="408.4"/>
<use href="#pl" x="905.5" y="408.4"/>
<use href="#pl" x="921.7" y="408.4"/>
<use href="#pl" x="937.9" y="408.4"/>
<use href="#pl" x="784" y="413.2"/>
<use href="#pl" x="800.2" y="413.2"/>
<use href="#pl" x="816.4" y="413.2"/>
<use href="#pl" x="832.6" y="413.2"/>
<use href="#pl" x="848.8" y="413.2"/>
<use href="#pl" x="865" y="413.2"/>
<use href="#pl" x="881.2" y="413.2"/>
<use href="#pl" x="897.4" y="413.2"/>
<use href="#pl" x="913.6" y="413.2"/>
<use href="#pl" x="929.8" y="413.2"/>
<use href="#pl" x="946" y="413.2"/>
</g>
<rect x="780.5" y="430.5" width="170" height="18" fill="#fff" stroke="#909090" stroke-width="0.7" />
<clipPath id="c780_430"><rect x="780.5" y="430.2" width="170" height="18.6"/></clipPath><g clip-path="url(#c780_430)">
<use href="#pl" x="784" y="429"/>
<use href="#pl" x="800.2" y="429"/>
<use href="#pl" x="816.4" y="429"/>
<use href="#pl" x="832.6" y="429"/>
<use href="#pl" x="848.8" y="429"/>
<use href="#pl" x="865" y="429"/>
<use href="#pl" x="881.2" y="429"/>
<use href="#pl" x="897.4" y="429"/>
<use href="#pl" x="913.6" y="429"/>
<use href="#pl" x="929.8" y="429"/>
<use href="#pl" x="946" y="429"/>
<use href="#pl" x="792.1" y="433.8"/>
<use href="#pl" x="808.3" y="433.8"/>
<use href="#pl" x="824.5" y="433.8"/>
<use href="#pl" x="840.7" y="433.8"/>
<use href="#pl" x="856.9" y="433.8"/>
<use href="#pl" x="873.1" y="433.8"/>
<use href="#pl" x="889.3" y="433.8"/>
<use href="#pl" x="905.5" y="433.8"/>
<use href="#pl" x="921.7" y="433.8"/>
<use href="#pl" x="937.9" y="433.8"/>
<use href="#pl" x="784" y="438.6"/>
<use href="#pl" x="800.2" y="438.6"/>
<use href="#pl" x="816.4" y="438.6"/>
<use href="#pl" x="832.6" y="438.6"/>
<use href="#pl" x="848.8" y="438.6"/>
<use href="#pl" x="865" y="438.6"/>
<use href="#pl" x="881.2" y="438.6"/>
<use href="#pl" x="897.4" y="438.6"/>
<use href="#pl" x="913.6" y="438.6"/>
<use href="#pl" x="929.8" y="438.6"/>
<use href="#pl" x="946" y="438.6"/>
<use href="#pl" x="792.1" y="443.4"/>
<use href="#pl" x="808.3" y="443.4"/>
<use href="#pl" x="824.5" y="443.4"/>
<use href="#pl" x="840.7" y="443.4"/>
<use href="#pl" x="856.9" y="443.4"/>
<use href="#pl" x="873.1" y="443.4"/>
<use href="#pl" x="889.3" y="443.4"/>
<use href="#pl" x="905.5" y="443.4"/>
<use href="#pl" x="921.7" y="443.4"/>
<use href="#pl" x="937.9" y="443.4"/>
<use href="#pl" x="784" y="448.2"/>
<use href="#pl" x="800.2" y="448.2"/>
<use href="#pl" x="816.4" y="448.2"/>
<use href="#pl" x="832.6" y="448.2"/>
<use href="#pl" x="848.8" y="448.2"/>
<use href="#pl" x="865" y="448.2"/>
<use href="#pl" x="881.2" y="448.2"/>
<use href="#pl" x="897.4" y="448.2"/>
<use href="#pl" x="913.6" y="448.2"/>
<use href="#pl" x="929.8" y="448.2"/>
<use href="#pl" x="946" y="448.2"/>
</g>
<rect x="780.5" y="464.5" width="170" height="18" fill="#fff" stroke="#909090" stroke-width="0.7" />
<clipPath id="c780_464"><rect x="780.5" y="464.2" width="170" height="18.6"/></clipPath><g clip-path="url(#c780_464)">
<use href="#pl" x="784" y="463"/>
<use href="#pl" x="800.2" y="463"/>
<use href="#pl" x="816.4" y="463"/>
<use href="#pl" x="832.6" y="463"/>
<use href="#pl" x="848.8" y="463"/>
<use href="#pl" x="865" y="463"/>
<use href="#pl" x="881.2" y="463"/>
<use href="#pl" x="897.4" y="463"/>
<use href="#pl" x="913.6" y="463"/>
<use href="#pl" x="929.8" y="463"/>
<use href="#pl" x="946" y="463"/>
<use href="#pl" x="792.1" y="467.8"/>
<use href="#pl" x="808.3" y="467.8"/>
<use href="#pl" x="824.5" y="467.8"/>
<use href="#pl" x="840.7" y="467.8"/>
<use href="#pl" x="856.9" y="467.8"/>
<use href="#pl" x="873.1" y="467.8"/>
<use href="#pl" x="889.3" y="467.8"/>
<use href="#pl" x="905.5" y="467.8"/>
<use href="#pl" x="921.7" y="467.8"/>
<use href="#pl" x="937.9" y="467.8"/>
<use href="#pl" x="784" y="472.6"/>
<use href="#pl" x="800.2" y="472.6"/>
<use href="#pl" x="816.4" y="472.6"/>
<use href="#pl" x="832.6" y="472.6"/>
<use href="#pl" x="848.8" y="472.6"/>
<use href="#pl" x="865" y="472.6"/>
<use href="#pl" x="881.2" y="472.6"/>
<use href="#pl" x="897.4" y="472.6"/>
<use href="#pl" x="913.6" y="472.6"/>
<use href="#pl" x="929.8" y="472.6"/>
<use href="#pl" x="946" y="472.6"/>
<use href="#pl" x="792.1" y="477.4"/>
<use href="#pl" x="808.3" y="477.4"/>
<use href="#pl" x="824.5" y="477.4"/>
<use href="#pl" x="840.7" y="477.4"/>
<use href="#pl" x="856.9" y="477.4"/>
<use href="#pl" x="873.1" y="477.4"/>
<use href="#pl" x="889.3" y="477.4"/>
<use href="#pl" x="905.5" y="477.4"/>
<use href="#pl" x="921.7" y="477.4"/>
<use href="#pl" x="937.9" y="477.4"/>
<use href="#pl" x="784" y="482.2"/>
<use href="#pl" x="800.2" y="482.2"/>
<use href="#pl" x="816.4" y="482.2"/>
<use href="#pl" x="832.6" y="482.2"/>
<use href="#pl" x="848.8" y="482.2"/>
<use href="#pl" x="865" y="482.2"/>
<use href="#pl" x="881.2" y="482.2"/>
<use href="#pl" x="897.4" y="482.2"/>
<use href="#pl" x="913.6" y="482.2"/>
<use href="#pl" x="929.8" y="482.2"/>
<use href="#pl" x="946" y="482.2"/>
</g>
<rect x="780.5" y="498.5" width="170" height="17" fill="#fff" stroke="#909090" stroke-width="0.7" />
<clipPath id="c780_498"><rect x="780.5" y="498.2" width="170" height="17.6"/></clipPath><g clip-path="url(#c780_498)">
<use href="#pl" x="784" y="497"/>
<use href="#pl" x="800.2" y="497"/>
<use href="#pl" x="816.4" y="497"/>
<use href="#pl" x="832.6" y="497"/>
<use href="#pl" x="848.8" y="497"/>
<use href="#pl" x="865" y="497"/>
<use href="#pl" x="881.2" y="497"/>
<use href="#pl" x="897.4" y="497"/>
<use href="#pl" x="913.6" y="497"/>
<use href="#pl" x="929.8" y="497"/>
<use href="#pl" x="946" y="497"/>
<use href="#pl" x="792.1" y="501.8"/>
<use href="#pl" x="808.3" y="501.8"/>
<use href="#pl" x="824.5" y="501.8"/>
<use href="#pl" x="840.7" y="501.8"/>
<use href="#pl" x="856.9" y="501.8"/>
<use href="#pl" x="873.1" y="501.8"/>
<use href="#pl" x="889.3" y="501.8"/>
<use href="#pl" x="905.5" y="501.8"/>
<use href="#pl" x="921.7" y="501.8"/>
<use href="#pl" x="937.9" y="501.8"/>
<use href="#pl" x="784" y="506.6"/>
<use href="#pl" x="800.2" y="506.6"/>
<use href="#pl" x="816.4" y="506.6"/>
<use href="#pl" x="832.6" y="506.6"/>
<use href="#pl" x="848.8" y="506.6"/>
<use href="#pl" x="865" y="506.6"/>
<use href="#pl" x="881.2" y="506.6"/>
<use href="#pl" x="897.4" y="506.6"/>
<use href="#pl" x="913.6" y="506.6"/>
<use href="#pl" x="929.8" y="506.6"/>
<use href="#pl" x="946" y="506.6"/>
<use href="#pl" x="792.1" y="511.4"/>
<use href="#pl" x="808.3" y="511.4"/>
<use href="#pl" x="824.5" y="511.4"/>
<use href="#pl" x="840.7" y="511.4"/>
<use href="#pl" x="856.9" y="511.4"/>
<use href="#pl" x="873.1" y="511.4"/>
<use href="#pl" x="889.3" y="511.4"/>
<use href="#pl" x="905.5" y="511.4"/>
<use href="#pl" x="921.7" y="511.4"/>
<use href="#pl" x="937.9" y="511.4"/>
<use href="#pl" x="784" y="516.2"/>
<use href="#pl" x="800.2" y="516.2"/>
<use href="#pl" x="816.4" y="516.2"/>
<use href="#pl" x="832.6" y="516.2"/>
<use href="#pl" x="848.8" y="516.2"/>
<use href="#pl" x="865" y="516.2"/>
<use href="#pl" x="881.2" y="516.2"/>
<use href="#pl" x="897.4" y="516.2"/>
<use href="#pl" x="913.6" y="516.2"/>
<use href="#pl" x="929.8" y="516.2"/>
<use href="#pl" x="946" y="516.2"/>
</g>
<rect x="780.5" y="532.5" width="59" height="18" fill="#fff" stroke="#909090" stroke-width="0.7" />
<clipPath id="c780_532"><rect x="780.5" y="532.2" width="59" height="18.6"/></clipPath><g clip-path="url(#c780_532)">
<use href="#pl" x="784" y="531"/>
<use href="#pl" x="800.2" y="531"/>
<use href="#pl" x="816.4" y="531"/>
<use href="#pl" x="832.6" y="531"/>
<use href="#pl" x="792.1" y="535.8"/>
<use href="#pl" x="808.3" y="535.8"/>
<use href="#pl" x="824.5" y="535.8"/>
<use href="#pl" x="840.7" y="535.8"/>
<use href="#pl" x="784" y="540.6"/>
<use href="#pl" x="800.2" y="540.6"/>
<use href="#pl" x="816.4" y="540.6"/>
<use href="#pl" x="832.6" y="540.6"/>
<use href="#pl" x="792.1" y="545.4"/>
<use href="#pl" x="808.3" y="545.4"/>
<use href="#pl" x="824.5" y="545.4"/>
<use href="#pl" x="840.7" y="545.4"/>
<use href="#pl" x="784" y="550.2"/>
<use href="#pl" x="800.2" y="550.2"/>
<use href="#pl" x="816.4" y="550.2"/>
<use href="#pl" x="832.6" y="550.2"/>
</g>
<rect x="780.5" y="566.5" width="59" height="17" fill="#fff" stroke="#909090" stroke-width="0.7" />
<clipPath id="c780_566"><rect x="780.5" y="566.2" width="59" height="17.6"/></clipPath><g clip-path="url(#c780_566)">
<use href="#pl" x="784" y="565"/>
<use href="#pl" x="800.2" y="565"/>
<use href="#pl" x="816.4" y="565"/>
<use href="#pl" x="832.6" y="565"/>
<use href="#pl" x="792.1" y="569.8"/>
<use href="#pl" x="808.3" y="569.8"/>
<use href="#pl" x="824.5" y="569.8"/>
<use href="#pl" x="840.7" y="569.8"/>
<use href="#pl" x="784" y="574.6"/>
<use href="#pl" x="800.2" y="574.6"/>
<use href="#pl" x="816.4" y="574.6"/>
<use href="#pl" x="832.6" y="574.6"/>
<use href="#pl" x="792.1" y="579.4"/>
<use href="#pl" x="808.3" y="579.4"/>
<use href="#pl" x="824.5" y="579.4"/>
<use href="#pl" x="840.7" y="579.4"/>
<use href="#pl" x="784" y="584.2"/>
<use href="#pl" x="800.2" y="584.2"/>
<use href="#pl" x="816.4" y="584.2"/>
<use href="#pl" x="832.6" y="584.2"/>
</g>
<rect x="780.5" y="600.5" width="59" height="18" fill="#fff" stroke="#909090" stroke-width="0.7" />
<clipPath id="c780_600"><rect x="780.5" y="600.2" width="59" height="18.6"/></clipPath><g clip-path="url(#c780_600)">
<use href="#pl" x="784" y="599"/>
<use href="#pl" x="800.2" y="599"/>
<use href="#pl" x="816.4" y="599"/>
<use href="#pl" x="832.6" y="599"/>
<use href="#pl" x="792.1" y="603.8"/>
<use href="#pl" x="808.3" y="603.8"/>
<use href="#pl" x="824.5" y="603.8"/>
<use href="#pl" x="840.7" y="603.8"/>
<use href="#pl" x="784" y="608.6"/>
<use href="#pl" x="800.2" y="608.6"/>
<use href="#pl" x="816.4" y="608.6"/>
<use href="#pl" x="832.6" y="608.6"/>
<use href="#pl" x="792.1" y="613.4"/>
<use href="#pl" x="808.3" y="613.4"/>
<use href="#pl" x="824.5" y="613.4"/>
<use href="#pl" x="840.7" y="613.4"/>
<use href="#pl" x="784" y="618.2"/>
<use href="#pl" x="800.2" y="618.2"/>
<use href="#pl" x="816.4" y="618.2"/>
<use href="#pl" x="832.6" y="618.2"/>
</g>
<rect x="780.5" y="634.5" width="170" height="17" fill="#fff" stroke="#909090" stroke-width="0.7" />
<clipPath id="c780_634"><rect x="780.5" y="634.2" width="170" height="17.6"/></clipPath><g clip-path="url(#c780_634)">
<use href="#pl" x="784" y="633"/>
<use href="#pl" x="800.2" y="633"/>
<use href="#pl" x="816.4" y="633"/>
<use href="#pl" x="832.6" y="633"/>
<use href="#pl" x="848.8" y="633"/>
<use href="#pl" x="865" y="633"/>
<use href="#pl" x="881.2" y="633"/>
<use href="#pl" x="897.4" y="633"/>
<use href="#pl" x="913.6" y="633"/>
<use href="#pl" x="929.8" y="633"/>
<use href="#pl" x="946" y="633"/>
<use href="#pl" x="792.1" y="637.8"/>
<use href="#pl" x="808.3" y="637.8"/>
<use href="#pl" x="824.5" y="637.8"/>
<use href="#pl" x="840.7" y="637.8"/>
<use href="#pl" x="856.9" y="637.8"/>
<use href="#pl" x="873.1" y="637.8"/>
<use href="#pl" x="889.3" y="637.8"/>
<use href="#pl" x="905.5" y="637.8"/>
<use href="#pl" x="921.7" y="637.8"/>
<use href="#pl" x="937.9" y="637.8"/>
<use href="#pl" x="784" y="642.6"/>
<use href="#pl" x="800.2" y="642.6"/>
<use href="#pl" x="816.4" y="642.6"/>
<use href="#pl" x="832.6" y="642.6"/>
<use href="#pl" x="848.8" y="642.6"/>
<use href="#pl" x="865" y="642.6"/>
<use href="#pl" x="881.2" y="642.6"/>
<use href="#pl" x="897.4" y="642.6"/>
<use href="#pl" x="913.6" y="642.6"/>
<use href="#pl" x="929.8" y="642.6"/>
<use href="#pl" x="946" y="642.6"/>
<use href="#pl" x="792.1" y="647.4"/>
<use href="#pl" x="808.3" y="647.4"/>
<use href="#pl" x="824.5" y="647.4"/>
<use href="#pl" x="840.7" y="647.4"/>
<use href="#pl" x="856.9" y="647.4"/>
<use href="#pl" x="873.1" y="647.4"/>
<use href="#pl" x="889.3" y="647.4"/>
<use href="#pl" x="905.5" y="647.4"/>
<use href="#pl" x="921.7" y="647.4"/>
<use href="#pl" x="937.9" y="647.4"/>
<use href="#pl" x="784" y="652.2"/>
<use href="#pl" x="800.2" y="652.2"/>
<use href="#pl" x="816.4" y="652.2"/>
<use href="#pl" x="832.6" y="652.2"/>
<use href="#pl" x="848.8" y="652.2"/>
<use href="#pl" x="865" y="652.2"/>
<use href="#pl" x="881.2" y="652.2"/>
<use href="#pl" x="897.4" y="652.2"/>
<use href="#pl" x="913.6" y="652.2"/>
<use href="#pl" x="929.8" y="652.2"/>
<use href="#pl" x="946" y="652.2"/>
</g>
<rect x="780.5" y="668.5" width="170" height="18" fill="#fff" stroke="#909090" stroke-width="0.7" />
<clipPath id="c780_668"><rect x="780.5" y="668.2" width="170" height="18.6"/></clipPath><g clip-path="url(#c780_668)">
<use href="#pl" x="784" y="667"/>
<use href="#pl" x="800.2" y="667"/>
<use href="#pl" x="816.4" y="667"/>
<use href="#pl" x="832.6" y="667"/>
<use href="#pl" x="848.8" y="667"/>
<use href="#pl" x="865" y="667"/>
<use href="#pl" x="881.2" y="667"/>
<use href="#pl" x="897.4" y="667"/>
<use href="#pl" x="913.6" y="667"/>
<use href="#pl" x="929.8" y="667"/>
<use href="#pl" x="946" y="667"/>
<use href="#pl" x="792.1" y="671.8"/>
<use href="#pl" x="808.3" y="671.8"/>
<use href="#pl" x="824.5" y="671.8"/>
<use href="#pl" x="840.7" y="671.8"/>
<use href="#pl" x="856.9" y="671.8"/>
<use href="#pl" x="873.1" y="671.8"/>
<use href="#pl" x="889.3" y="671.8"/>
<use href="#pl" x="905.5" y="671.8"/>
<use href="#pl" x="921.7" y="671.8"/>
<use href="#pl" x="937.9" y="671.8"/>
<use href="#pl" x="784" y="676.6"/>
<use href="#pl" x="800.2" y="676.6"/>
<use href="#pl" x="816.4" y="676.6"/>
<use href="#pl" x="832.6" y="676.6"/>
<use href="#pl" x="848.8" y="676.6"/>
<use href="#pl" x="865" y="676.6"/>
<use href="#pl" x="881.2" y="676.6"/>
<use href="#pl" x="897.4" y="676.6"/>
<use href="#pl" x="913.6" y="676.6"/>
<use href="#pl" x="929.8" y="676.6"/>
<use href="#pl" x="946" y="676.6"/>
<use href="#pl" x="792.1" y="681.4"/>
<use href="#pl" x="808.3" y="681.4"/>
<use href="#pl" x="824.5" y="681.4"/>
<use href="#pl" x="840.7" y="681.4"/>
<use href="#pl" x="856.9" y="681.4"/>
<use href="#pl" x="873.1" y="681.4"/>
<use href="#pl" x="889.3" y="681.4"/>
<use href="#pl" x="905.5" y="681.4"/>
<use href="#pl" x="921.7" y="681.4"/>
<use href="#pl" x="937.9" y="681.4"/>
<use href="#pl" x="784" y="686.2"/>
<use href="#pl" x="800.2" y="686.2"/>
<use href="#pl" x="816.4" y="686.2"/>
<use href="#pl" x="832.6" y="686.2"/>
<use href="#pl" x="848.8" y="686.2"/>
<use href="#pl" x="865" y="686.2"/>
<use href="#pl" x="881.2" y="686.2"/>
<use href="#pl" x="897.4" y="686.2"/>
<use href="#pl" x="913.6" y="686.2"/>
<use href="#pl" x="929.8" y="686.2"/>
<use href="#pl" x="946" y="686.2"/>
</g>
<rect x="780.5" y="702.5" width="170" height="18" fill="#fff" stroke="#909090" stroke-width="0.7" />
<clipPath id="c780_702"><rect x="780.5" y="702.2" width="170" height="18.6"/></clipPath><g clip-path="url(#c780_702)">
<use href="#pl" x="784" y="701"/>
<use href="#pl" x="800.2" y="701"/>
<use href="#pl" x="816.4" y="701"/>
<use href="#pl" x="832.6" y="701"/>
<use href="#pl" x="848.8" y="701"/>
<use href="#pl" x="865" y="701"/>
<use href="#pl" x="881.2" y="701"/>
<use href="#pl" x="897.4" y="701"/>
<use href="#pl" x="913.6" y="701"/>
<use href="#pl" x="929.8" y="701"/>
<use href="#pl" x="946" y="701"/>
<use href="#pl" x="792.1" y="705.8"/>
<use href="#pl" x="808.3" y="705.8"/>
<use href="#pl" x="824.5" y="705.8"/>
<use href="#pl" x="840.7" y="705.8"/>
<use href="#pl" x="856.9" y="705.8"/>
<use href="#pl" x="873.1" y="705.8"/>
<use href="#pl" x="889.3" y="705.8"/>
<use href="#pl" x="905.5" y="705.8"/>
<use href="#pl" x="921.7" y="705.8"/>
<use href="#pl" x="937.9" y="705.8"/>
<use href="#pl" x="784" y="710.6"/>
<use href="#pl" x="800.2" y="710.6"/>
<use href="#pl" x="816.4" y="710.6"/>
<use href="#pl" x="832.6" y="710.6"/>
<use href="#pl" x="848.8" y="710.6"/>
<use href="#pl" x="865" y="710.6"/>
<use href="#pl" x="881.2" y="710.6"/>
<use href="#pl" x="897.4" y="710.6"/>
<use href="#pl" x="913.6" y="710.6"/>
<use href="#pl" x="929.8" y="710.6"/>
<use href="#pl" x="946" y="710.6"/>
<use href="#pl" x="792.1" y="715.4"/>
<use href="#pl" x="808.3" y="715.4"/>
<use href="#pl" x="824.5" y="715.4"/>
<use href="#pl" x="840.7" y="715.4"/>
<use href="#pl" x="856.9" y="715.4"/>
<use href="#pl" x="873.1" y="715.4"/>
<use href="#pl" x="889.3" y="715.4"/>
<use href="#pl" x="905.5" y="715.4"/>
<use href="#pl" x="921.7" y="715.4"/>
<use href="#pl" x="937.9" y="715.4"/>
<use href="#pl" x="784" y="720.2"/>
<use href="#pl" x="800.2" y="720.2"/>
<use href="#pl" x="816.4" y="720.2"/>
<use href="#pl" x="832.6" y="720.2"/>
<use href="#pl" x="848.8" y="720.2"/>
<use href="#pl" x="865" y="720.2"/>
<use href="#pl" x="881.2" y="720.2"/>
<use href="#pl" x="897.4" y="720.2"/>
<use href="#pl" x="913.6" y="720.2"/>
<use href="#pl" x="929.8" y="720.2"/>
<use href="#pl" x="946" y="720.2"/>
</g>
<rect x="780.5" y="736.5" width="170" height="18" fill="#fff" stroke="#909090" stroke-width="0.7" />
<clipPath id="c780_736"><rect x="780.5" y="736.2" width="170" height="18.6"/></clipPath><g clip-path="url(#c780_736)">
<use href="#pl" x="784" y="735"/>
<use href="#pl" x="800.2" y="735"/>
<use href="#pl" x="816.4" y="735"/>
<use href="#pl" x="832.6" y="735"/>
<use href="#pl" x="848.8" y="735"/>
<use href="#pl" x="865" y="735"/>
<use href="#pl" x="881.2" y="735"/>
<use href="#pl" x="897.4" y="735"/>
<use href="#pl" x="913.6" y="735"/>
<use href="#pl" x="929.8" y="735"/>
<use href="#pl" x="946" y="735"/>
<use href="#pl" x="792.1" y="739.8"/>
<use href="#pl" x="808.3" y="739.8"/>
<use href="#pl" x="824.5" y="739.8"/>
<use href="#pl" x="840.7" y="739.8"/>
<use href="#pl" x="856.9" y="739.8"/>
<use href="#pl" x="873.1" y="739.8"/>
<use href="#pl" x="889.3" y="739.8"/>
<use href="#pl" x="905.5" y="739.8"/>
<use href="#pl" x="921.7" y="739.8"/>
<use href="#pl" x="937.9" y="739.8"/>
<use href="#pl" x="784" y="744.6"/>
<use href="#pl" x="800.2" y="744.6"/>
<use href="#pl" x="816.4" y="744.6"/>
<use href="#pl" x="832.6" y="744.6"/>
<use href="#pl" x="848.8" y="744.6"/>
<use href="#pl" x="865" y="744.6"/>
<use href="#pl" x="881.2" y="744.6"/>
<use href="#pl" x="897.4" y="744.6"/>
<use href="#pl" x="913.6" y="744.6"/>
<use href="#pl" x="929.8" y="744.6"/>
<use href="#pl" x="946" y="744.6"/>
<use href="#pl" x="792.1" y="749.4"/>
<use href="#pl" x="808.3" y="749.4"/>
<use href="#pl" x="824.5" y="749.4"/>
<use href="#pl" x="840.7" y="749.4"/>
<use href="#pl" x="856.9" y="749.4"/>
<use href="#pl" x="873.1" y="749.4"/>
<use href="#pl" x="889.3" y="749.4"/>
<use href="#pl" x="905.5" y="749.4"/>
<use href="#pl" x="921.7" y="749.4"/>
<use href="#pl" x="937.9" y="749.4"/>
<use href="#pl" x="784" y="754.2"/>
<use href="#pl" x="800.2" y="754.2"/>
<use href="#pl" x="816.4" y="754.2"/>
<use href="#pl" x="832.6" y="754.2"/>
<use href="#pl" x="848.8" y="754.2"/>
<use href="#pl" x="865" y="754.2"/>
<use href="#pl" x="881.2" y="754.2"/>
<use href="#pl" x="897.4" y="754.2"/>
<use href="#pl" x="913.6" y="754.2"/>
<use href="#pl" x="929.8" y="754.2"/>
<use href="#pl" x="946" y="754.2"/>
</g>
<rect x="882.5" y="770.5" width="68" height="18" fill="#fff" stroke="#909090" stroke-width="0.7" />
<clipPath id="c882_770"><rect x="882.5" y="770.2" width="68" height="18.6"/></clipPath><g clip-path="url(#c882_770)">
<use href="#pl" x="886" y="769"/>
<use href="#pl" x="902.2" y="769"/>
<use href="#pl" x="918.4" y="769"/>
<use href="#pl" x="934.6" y="769"/>
<use href="#pl" x="950.8" y="769"/>
<use href="#pl" x="894.1" y="773.8"/>
<use href="#pl" x="910.3" y="773.8"/>
<use href="#pl" x="926.5" y="773.8"/>
<use href="#pl" x="942.7" y="773.8"/>
<use href="#pl" x="886" y="778.6"/>
<use href="#pl" x="902.2" y="778.6"/>
<use href="#pl" x="918.4" y="778.6"/>
<use href="#pl" x="934.6" y="778.6"/>
<use href="#pl" x="950.8" y="778.6"/>
<use href="#pl" x="894.1" y="783.4"/>
<use href="#pl" x="910.3" y="783.4"/>
<use href="#pl" x="926.5" y="783.4"/>
<use href="#pl" x="942.7" y="783.4"/>
<use href="#pl" x="886" y="788.2"/>
<use href="#pl" x="902.2" y="788.2"/>
<use href="#pl" x="918.4" y="788.2"/>
<use href="#pl" x="934.6" y="788.2"/>
<use href="#pl" x="950.8" y="788.2"/>
</g>
<rect x="882.5" y="804.5" width="68" height="18" fill="#fff" stroke="#909090" stroke-width="0.7" />
<clipPath id="c882_804"><rect x="882.5" y="804.2" width="68" height="18.6"/></clipPath><g clip-path="url(#c882_804)">
<use href="#pl" x="886" y="803"/>
<use href="#pl" x="902.2" y="803"/>
<use href="#pl" x="918.4" y="803"/>
<use href="#pl" x="934.6" y="803"/>
<use href="#pl" x="950.8" y="803"/>
<use href="#pl" x="894.1" y="807.8"/>
<use href="#pl" x="910.3" y="807.8"/>
<use href="#pl" x="926.5" y="807.8"/>
<use href="#pl" x="942.7" y="807.8"/>
<use href="#pl" x="886" y="812.6"/>
<use href="#pl" x="902.2" y="812.6"/>
<use href="#pl" x="918.4" y="812.6"/>
<use href="#pl" x="934.6" y="812.6"/>
<use href="#pl" x="950.8" y="812.6"/>
<use href="#pl" x="894.1" y="817.4"/>
<use href="#pl" x="910.3" y="817.4"/>
<use href="#pl" x="926.5" y="817.4"/>
<use href="#pl" x="942.7" y="817.4"/>
<use href="#pl" x="886" y="822.2"/>
<use href="#pl" x="902.2" y="822.2"/>
<use href="#pl" x="918.4" y="822.2"/>
<use href="#pl" x="934.6" y="822.2"/>
<use href="#pl" x="950.8" y="822.2"/>
</g>
<rect x="882.5" y="838.5" width="68" height="18" fill="#fff" stroke="#909090" stroke-width="0.7" />
<clipPath id="c882_838"><rect x="882.5" y="838.2" width="68" height="18.6"/></clipPath><g clip-path="url(#c882_838)">
<use href="#pl" x="886" y="837"/>
<use href="#pl" x="902.2" y="837"/>
<use href="#pl" x="918.4" y="837"/>
<use href="#pl" x="934.6" y="837"/>
<use href="#pl" x="950.8" y="837"/>
<use href="#pl" x="894.1" y="841.8"/>
<use href="#pl" x="910.3" y="841.8"/>
<use href="#pl" x="926.5" y="841.8"/>
<use href="#pl" x="942.7" y="841.8"/>
<use href="#pl" x="886" y="846.6"/>
<use href="#pl" x="902.2" y="846.6"/>
<use href="#pl" x="918.4" y="846.6"/>
<use href="#pl" x="934.6" y="846.6"/>
<use href="#pl" x="950.8" y="846.6"/>
<use href="#pl" x="894.1" y="851.4"/>
<use href="#pl" x="910.3" y="851.4"/>
<use href="#pl" x="926.5" y="851.4"/>
<use href="#pl" x="942.7" y="851.4"/>
<use href="#pl" x="886" y="856.2"/>
<use href="#pl" x="902.2" y="856.2"/>
<use href="#pl" x="918.4" y="856.2"/>
<use href="#pl" x="934.6" y="856.2"/>
<use href="#pl" x="950.8" y="856.2"/>
</g>
<rect x="780.5" y="872.5" width="170" height="18" fill="#fff" stroke="#909090" stroke-width="0.7" />
<clipPath id="c780_872"><rect x="780.5" y="872.2" width="170" height="18.6"/></clipPath><g clip-path="url(#c780_872)">
<use href="#pl" x="784" y="871"/>
<use href="#pl" x="800.2" y="871"/>
<use href="#pl" x="816.4" y="871"/>
<use href="#pl" x="832.6" y="871"/>
<use href="#pl" x="848.8" y="871"/>
<use href="#pl" x="865" y="871"/>
<use href="#pl" x="881.2" y="871"/>
<use href="#pl" x="897.4" y="871"/>
<use href="#pl" x="913.6" y="871"/>
<use href="#pl" x="929.8" y="871"/>
<use href="#pl" x="946" y="871"/>
<use href="#pl" x="792.1" y="875.8"/>
<use href="#pl" x="808.3" y="875.8"/>
<use href="#pl" x="824.5" y="875.8"/>
<use href="#pl" x="840.7" y="875.8"/>
<use href="#pl" x="856.9" y="875.8"/>
<use href="#pl" x="873.1" y="875.8"/>
<use href="#pl" x="889.3" y="875.8"/>
<use href="#pl" x="905.5" y="875.8"/>
<use href="#pl" x="921.7" y="875.8"/>
<use href="#pl" x="937.9" y="875.8"/>
<use href="#pl" x="784" y="880.6"/>
<use href="#pl" x="800.2" y="880.6"/>
<use href="#pl" x="816.4" y="880.6"/>
<use href="#pl" x="832.6" y="880.6"/>
<use href="#pl" x="848.8" y="880.6"/>
<use href="#pl" x="865" y="880.6"/>
<use href="#pl" x="881.2" y="880.6"/>
<use href="#pl" x="897.4" y="880.6"/>
<use href="#pl" x="913.6" y="880.6"/>
<use href="#pl" x="929.8" y="880.6"/>
<use href="#pl" x="946" y="880.6"/>
<use href="#pl" x="792.1" y="885.4"/>
<use href="#pl" x="808.3" y="885.4"/>
<use href="#pl" x="824.5" y="885.4"/>
<use href="#pl" x="840.7" y="885.4"/>
<use href="#pl" x="856.9" y="885.4"/>
<use href="#pl" x="873.1" y="885.4"/>
<use href="#pl" x="889.3" y="885.4"/>
<use href="#pl" x="905.5" y="885.4"/>
<use href="#pl" x="921.7" y="885.4"/>
<use href="#pl" x="937.9" y="885.4"/>
<use href="#pl" x="784" y="890.2"/>
<use href="#pl" x="800.2" y="890.2"/>
<use href="#pl" x="816.4" y="890.2"/>
<use href="#pl" x="832.6" y="890.2"/>
<use href="#pl" x="848.8" y="890.2"/>
<use href="#pl" x="865" y="890.2"/>
<use href="#pl" x="881.2" y="890.2"/>
<use href="#pl" x="897.4" y="890.2"/>
<use href="#pl" x="913.6" y="890.2"/>
<use href="#pl" x="929.8" y="890.2"/>
<use href="#pl" x="946" y="890.2"/>
</g>
<rect x="780.5" y="906.5" width="170" height="17" fill="#fff" stroke="#909090" stroke-width="0.7" />
<clipPath id="c780_906"><rect x="780.5" y="906.2" width="170" height="17.6"/></clipPath><g clip-path="url(#c780_906)">
<use href="#pl" x="784" y="905"/>
<use href="#pl" x="800.2" y="905"/>
<use href="#pl" x="816.4" y="905"/>
<use href="#pl" x="832.6" y="905"/>
<use href="#pl" x="848.8" y="905"/>
<use href="#pl" x="865" y="905"/>
<use href="#pl" x="881.2" y="905"/>
<use href="#pl" x="897.4" y="905"/>
<use href="#pl" x="913.6" y="905"/>
<use href="#pl" x="929.8" y="905"/>
<use href="#pl" x="946" y="905"/>
<use href="#pl" x="792.1" y="909.8"/>
<use href="#pl" x="808.3" y="909.8"/>
<use href="#pl" x="824.5" y="909.8"/>
<use href="#pl" x="840.7" y="909.8"/>
<use href="#pl" x="856.9" y="909.8"/>
<use href="#pl" x="873.1" y="909.8"/>
<use href="#pl" x="889.3" y="909.8"/>
<use href="#pl" x="905.5" y="909.8"/>
<use href="#pl" x="921.7" y="909.8"/>
<use href="#pl" x="937.9" y="909.8"/>
<use href="#pl" x="784" y="914.6"/>
<use href="#pl" x="800.2" y="914.6"/>
<use href="#pl" x="816.4" y="914.6"/>
<use href="#pl" x="832.6" y="914.6"/>
<use href="#pl" x="848.8" y="914.6"/>
<use href="#pl" x="865" y="914.6"/>
<use href="#pl" x="881.2" y="914.6"/>
<use href="#pl" x="897.4" y="914.6"/>
<use href="#pl" x="913.6" y="914.6"/>
<use href="#pl" x="929.8" y="914.6"/>
<use href="#pl" x="946" y="914.6"/>
<use href="#pl" x="792.1" y="919.4"/>
<use href="#pl" x="808.3" y="919.4"/>
<use href="#pl" x="824.5" y="919.4"/>
<use href="#pl" x="840.7" y="919.4"/>
<use href="#pl" x="856.9" y="919.4"/>
<use href="#pl" x="873.1" y="919.4"/>
<use href="#pl" x="889.3" y="919.4"/>
<use href="#pl" x="905.5" y="919.4"/>
<use href="#pl" x="921.7" y="919.4"/>
<use href="#pl" x="937.9" y="919.4"/>
<use href="#pl" x="784" y="924.2"/>
<use href="#pl" x="800.2" y="924.2"/>
<use href="#pl" x="816.4" y="924.2"/>
<use href="#pl" x="832.6" y="924.2"/>
<use href="#pl" x="848.8" y="924.2"/>
<use href="#pl" x="865" y="924.2"/>
<use href="#pl" x="881.2" y="924.2"/>
<use href="#pl" x="897.4" y="924.2"/>
<use href="#pl" x="913.6" y="924.2"/>
<use href="#pl" x="929.8" y="924.2"/>
<use href="#pl" x="946" y="924.2"/>
</g>
<rect x="780.5" y="940.5" width="170" height="18" fill="#fff" stroke="#909090" stroke-width="0.7" />
<clipPath id="c780_940"><rect x="780.5" y="940.2" width="170" height="18.6"/></clipPath><g clip-path="url(#c780_940)">
<use href="#pl" x="784" y="939"/>
<use href="#pl" x="800.2" y="939"/>
<use href="#pl" x="816.4" y="939"/>
<use href="#pl" x="832.6" y="939"/>
<use href="#pl" x="848.8" y="939"/>
<use href="#pl" x="865" y="939"/>
<use href="#pl" x="881.2" y="939"/>
<use href="#pl" x="897.4" y="939"/>
<use href="#pl" x="913.6" y="939"/>
<use href="#pl" x="929.8" y="939"/>
<use href="#pl" x="946" y="939"/>
<use href="#pl" x="792.1" y="943.8"/>
<use href="#pl" x="808.3" y="943.8"/>
<use href="#pl" x="824.5" y="943.8"/>
<use href="#pl" x="840.7" y="943.8"/>
<use href="#pl" x="856.9" y="943.8"/>
<use href="#pl" x="873.1" y="943.8"/>
<use href="#pl" x="889.3" y="943.8"/>
<use href="#pl" x="905.5" y="943.8"/>
<use href="#pl" x="921.7" y="943.8"/>
<use href="#pl" x="937.9" y="943.8"/>
<use href="#pl" x="784" y="948.6"/>
<use href="#pl" x="800.2" y="948.6"/>
<use href="#pl" x="816.4" y="948.6"/>
<use href="#pl" x="832.6" y="948.6"/>
<use href="#pl" x="848.8" y="948.6"/>
<use href="#pl" x="865" y="948.6"/>
<use href="#pl" x="881.2" y="948.6"/>
<use href="#pl" x="897.4" y="948.6"/>
<use href="#pl" x="913.6" y="948.6"/>
<use href="#pl" x="929.8" y="948.6"/>
<use href="#pl" x="946" y="948.6"/>
<use href="#pl" x="792.1" y="953.4"/>
<use href="#pl" x="808.3" y="953.4"/>
<use href="#pl" x="824.5" y="953.4"/>
<use href="#pl" x="840.7" y="953.4"/>
<use href="#pl" x="856.9" y="953.4"/>
<use href="#pl" x="873.1" y="953.4"/>
<use href="#pl" x="889.3" y="953.4"/>
<use href="#pl" x="905.5" y="953.4"/>
<use href="#pl" x="921.7" y="953.4"/>
<use href="#pl" x="937.9" y="953.4"/>
<use href="#pl" x="784" y="958.2"/>
<use href="#pl" x="800.2" y="958.2"/>
<use href="#pl" x="816.4" y="958.2"/>
<use href="#pl" x="832.6" y="958.2"/>
<use href="#pl" x="848.8" y="958.2"/>
<use href="#pl" x="865" y="958.2"/>
<use href="#pl" x="881.2" y="958.2"/>
<use href="#pl" x="897.4" y="958.2"/>
<use href="#pl" x="913.6" y="958.2"/>
<use href="#pl" x="929.8" y="958.2"/>
<use href="#pl" x="946" y="958.2"/>
</g>
<rect x="715.5" y="973.5" width="235" height="18" fill="#fff" stroke="#909090" stroke-width="0.7" />
<clipPath id="c715_973"><rect x="715.5" y="973.2" width="235" height="18.6"/></clipPath><g clip-path="url(#c715_973)">
<use href="#pl" x="719" y="972"/>
<use href="#pl" x="735.2" y="972"/>
<use href="#pl" x="751.4" y="972"/>
<use href="#pl" x="767.6" y="972"/>
<use href="#pl" x="783.8" y="972"/>
<use href="#pl" x="800" y="972"/>
<use href="#pl" x="816.2" y="972"/>
<use href="#pl" x="832.4" y="972"/>
<use href="#pl" x="848.6" y="972"/>
<use href="#pl" x="864.8" y="972"/>
<use href="#pl" x="881" y="972"/>
<use href="#pl" x="897.2" y="972"/>
<use href="#pl" x="913.4" y="972"/>
<use href="#pl" x="929.6" y="972"/>
<use href="#pl" x="945.8" y="972"/>
<use href="#pl" x="727.1" y="976.8"/>
<use href="#pl" x="743.3" y="976.8"/>
<use href="#pl" x="759.5" y="976.8"/>
<use href="#pl" x="775.7" y="976.8"/>
<use href="#pl" x="791.9" y="976.8"/>
<use href="#pl" x="808.1" y="976.8"/>
<use href="#pl" x="824.3" y="976.8"/>
<use href="#pl" x="840.5" y="976.8"/>
<use href="#pl" x="856.7" y="976.8"/>
<use href="#pl" x="872.9" y="976.8"/>
<use href="#pl" x="889.1" y="976.8"/>
<use href="#pl" x="905.3" y="976.8"/>
<use href="#pl" x="921.5" y="976.8"/>
<use href="#pl" x="937.7" y="976.8"/>
<use href="#pl" x="719" y="981.6"/>
<use href="#pl" x="735.2" y="981.6"/>
<use href="#pl" x="751.4" y="981.6"/>
<use href="#pl" x="767.6" y="981.6"/>
<use href="#pl" x="783.8" y="981.6"/>
<use href="#pl" x="800" y="981.6"/>
<use href="#pl" x="816.2" y="981.6"/>
<use href="#pl" x="832.4" y="981.6"/>
<use href="#pl" x="848.6" y="981.6"/>
<use href="#pl" x="864.8" y="981.6"/>
<use href="#pl" x="881" y="981.6"/>
<use href="#pl" x="897.2" y="981.6"/>
<use href="#pl" x="913.4" y="981.6"/>
<use href="#pl" x="929.6" y="981.6"/>
<use href="#pl" x="945.8" y="981.6"/>
<use href="#pl" x="727.1" y="986.4"/>
<use href="#pl" x="743.3" y="986.4"/>
<use href="#pl" x="759.5" y="986.4"/>
<use href="#pl" x="775.7" y="986.4"/>
<use href="#pl" x="791.9" y="986.4"/>
<use href="#pl" x="808.1" y="986.4"/>
<use href="#pl" x="824.3" y="986.4"/>
<use href="#pl" x="840.5" y="986.4"/>
<use href="#pl" x="856.7" y="986.4"/>
<use href="#pl" x="872.9" y="986.4"/>
<use href="#pl" x="889.1" y="986.4"/>
<use href="#pl" x="905.3" y="986.4"/>
<use href="#pl" x="921.5" y="986.4"/>
<use href="#pl" x="937.7" y="986.4"/>
<use href="#pl" x="719" y="991.2"/>
<use href="#pl" x="735.2" y="991.2"/>
<use href="#pl" x="751.4" y="991.2"/>
<use href="#pl" x="767.6" y="991.2"/>
<use href="#pl" x="783.8" y="991.2"/>
<use href="#pl" x="800" y="991.2"/>
<use href="#pl" x="816.2" y="991.2"/>
<use href="#pl" x="832.4" y="991.2"/>
<use href="#pl" x="848.6" y="991.2"/>
<use href="#pl" x="864.8" y="991.2"/>
<use href="#pl" x="881" y="991.2"/>
<use href="#pl" x="897.2" y="991.2"/>
<use href="#pl" x="913.4" y="991.2"/>
<use href="#pl" x="929.6" y="991.2"/>
<use href="#pl" x="945.8" y="991.2"/>
</g>
<rect x="715.5" y="1008.5" width="235" height="17" fill="#fff" stroke="#909090" stroke-width="0.7" />
<clipPath id="c715_1008"><rect x="715.5" y="1008.2" width="235" height="17.6"/></clipPath><g clip-path="url(#c715_1008)">
<use href="#pl" x="719" y="1007"/>
<use href="#pl" x="735.2" y="1007"/>
<use href="#pl" x="751.4" y="1007"/>
<use href="#pl" x="767.6" y="1007"/>
<use href="#pl" x="783.8" y="1007"/>
<use href="#pl" x="800" y="1007"/>
<use href="#pl" x="816.2" y="1007"/>
<use href="#pl" x="832.4" y="1007"/>
<use href="#pl" x="848.6" y="1007"/>
<use href="#pl" x="864.8" y="1007"/>
<use href="#pl" x="881" y="1007"/>
<use href="#pl" x="897.2" y="1007"/>
<use href="#pl" x="913.4" y="1007"/>
<use href="#pl" x="929.6" y="1007"/>
<use href="#pl" x="945.8" y="1007"/>
<use href="#pl" x="727.1" y="1011.8"/>
<use href="#pl" x="743.3" y="1011.8"/>
<use href="#pl" x="759.5" y="1011.8"/>
<use href="#pl" x="775.7" y="1011.8"/>
<use href="#pl" x="791.9" y="1011.8"/>
<use href="#pl" x="808.1" y="1011.8"/>
<use href="#pl" x="824.3" y="1011.8"/>
<use href="#pl" x="840.5" y="1011.8"/>
<use href="#pl" x="856.7" y="1011.8"/>
<use href="#pl" x="872.9" y="1011.8"/>
<use href="#pl" x="889.1" y="1011.8"/>
<use href="#pl" x="905.3" y="1011.8"/>
<use href="#pl" x="921.5" y="1011.8"/>
<use href="#pl" x="937.7" y="1011.8"/>
<use href="#pl" x="719" y="1016.6"/>
<use href="#pl" x="735.2" y="1016.6"/>
<use href="#pl" x="751.4" y="1016.6"/>
<use href="#pl" x="767.6" y="1016.6"/>
<use href="#pl" x="783.8" y="1016.6"/>
<use href="#pl" x="800" y="1016.6"/>
<use href="#pl" x="816.2" y="1016.6"/>
<use href="#pl" x="832.4" y="1016.6"/>
<use href="#pl" x="848.6" y="1016.6"/>
<use href="#pl" x="864.8" y="1016.6"/>
<use href="#pl" x="881" y="1016.6"/>
<use href="#pl" x="897.2" y="1016.6"/>
<use href="#pl" x="913.4" y="1016.6"/>
<use href="#pl" x="929.6" y="1016.6"/>
<use href="#pl" x="945.8" y="1016.6"/>
<use href="#pl" x="727.1" y="1021.4"/>
<use href="#pl" x="743.3" y="1021.4"/>
<use href="#pl" x="759.5" y="1021.4"/>
<use href="#pl" x="775.7" y="1021.4"/>
<use href="#pl" x="791.9" y="1021.4"/>
<use href="#pl" x="808.1" y="1021.4"/>
<use href="#pl" x="824.3" y="1021.4"/>
<use href="#pl" x="840.5" y="1021.4"/>
<use href="#pl" x="856.7" y="1021.4"/>
<use href="#pl" x="872.9" y="1021.4"/>
<use href="#pl" x="889.1" y="1021.4"/>
<use href="#pl" x="905.3" y="1021.4"/>
<use href="#pl" x="921.5" y="1021.4"/>
<use href="#pl" x="937.7" y="1021.4"/>
<use href="#pl" x="719" y="1026.2"/>
<use href="#pl" x="735.2" y="1026.2"/>
<use href="#pl" x="751.4" y="1026.2"/>
<use href="#pl" x="767.6" y="1026.2"/>
<use href="#pl" x="783.8" y="1026.2"/>
<use href="#pl" x="800" y="1026.2"/>
<use href="#pl" x="816.2" y="1026.2"/>
<use href="#pl" x="832.4" y="1026.2"/>
<use href="#pl" x="848.6" y="1026.2"/>
<use href="#pl" x="864.8" y="1026.2"/>
<use href="#pl" x="881" y="1026.2"/>
<use href="#pl" x="897.2" y="1026.2"/>
<use href="#pl" x="913.4" y="1026.2"/>
<use href="#pl" x="929.6" y="1026.2"/>
<use href="#pl" x="945.8" y="1026.2"/>
</g>
<rect x="715.5" y="1042.5" width="235" height="17" fill="#fff" stroke="#909090" stroke-width="0.7" />
<clipPath id="c715_1042"><rect x="715.5" y="1042.2" width="235" height="17.6"/></clipPath><g clip-path="url(#c715_1042)">
<use href="#pl" x="719" y="1041"/>
<use href="#pl" x="735.2" y="1041"/>
<use href="#pl" x="751.4" y="1041"/>
<use href="#pl" x="767.6" y="1041"/>
<use href="#pl" x="783.8" y="1041"/>
<use href="#pl" x="800" y="1041"/>
<use href="#pl" x="816.2" y="1041"/>
<use href="#pl" x="832.4" y="1041"/>
<use href="#pl" x="848.6" y="1041"/>
<use href="#pl" x="864.8" y="1041"/>
<use href="#pl" x="881" y="1041"/>
<use href="#pl" x="897.2" y="1041"/>
<use href="#pl" x="913.4" y="1041"/>
<use href="#pl" x="929.6" y="1041"/>
<use href="#pl" x="945.8" y="1041"/>
<use href="#pl" x="727.1" y="1045.8"/>
<use href="#pl" x="743.3" y="1045.8"/>
<use href="#pl" x="759.5" y="1045.8"/>
<use href="#pl" x="775.7" y="1045.8"/>
<use href="#pl" x="791.9" y="1045.8"/>
<use href="#pl" x="808.1" y="1045.8"/>
<use href="#pl" x="824.3" y="1045.8"/>
<use href="#pl" x="840.5" y="1045.8"/>
<use href="#pl" x="856.7" y="1045.8"/>
<use href="#pl" x="872.9" y="1045.8"/>
<use href="#pl" x="889.1" y="1045.8"/>
<use href="#pl" x="905.3" y="1045.8"/>
<use href="#pl" x="921.5" y="1045.8"/>
<use href="#pl" x="937.7" y="1045.8"/>
<use href="#pl" x="719" y="1050.6"/>
<use href="#pl" x="735.2" y="1050.6"/>
<use href="#pl" x="751.4" y="1050.6"/>
<use href="#pl" x="767.6" y="1050.6"/>
<use href="#pl" x="783.8" y="1050.6"/>
<use href="#pl" x="800" y="1050.6"/>
<use href="#pl" x="816.2" y="1050.6"/>
<use href="#pl" x="832.4" y="1050.6"/>
<use href="#pl" x="848.6" y="1050.6"/>
<use href="#pl" x="864.8" y="1050.6"/>
<use href="#pl" x="881" y="1050.6"/>
<use href="#pl" x="897.2" y="1050.6"/>
<use href="#pl" x="913.4" y="1050.6"/>
<use href="#pl" x="929.6" y="1050.6"/>
<use href="#pl" x="945.8" y="1050.6"/>
<use href="#pl" x="727.1" y="1055.4"/>
<use href="#pl" x="743.3" y="1055.4"/>
<use href="#pl" x="759.5" y="1055.4"/>
<use href="#pl" x="775.7" y="1055.4"/>
<use href="#pl" x="791.9" y="1055.4"/>
<use href="#pl" x="808.1" y="1055.4"/>
<use href="#pl" x="824.3" y="1055.4"/>
<use href="#pl" x="840.5" y="1055.4"/>
<use href="#pl" x="856.7" y="1055.4"/>
<use href="#pl" x="872.9" y="1055.4"/>
<use href="#pl" x="889.1" y="1055.4"/>
<use href="#pl" x="905.3" y="1055.4"/>
<use href="#pl" x="921.5" y="1055.4"/>
<use href="#pl" x="937.7" y="1055.4"/>
<use href="#pl" x="719" y="1060.2"/>
<use href="#pl" x="735.2" y="1060.2"/>
<use href="#pl" x="751.4" y="1060.2"/>
<use href="#pl" x="767.6" y="1060.2"/>
<use href="#pl" x="783.8" y="1060.2"/>
<use href="#pl" x="800" y="1060.2"/>
<use href="#pl" x="816.2" y="1060.2"/>
<use href="#pl" x="832.4" y="1060.2"/>
<use href="#pl" x="848.6" y="1060.2"/>
<use href="#pl" x="864.8" y="1060.2"/>
<use href="#pl" x="881" y="1060.2"/>
<use href="#pl" x="897.2" y="1060.2"/>
<use href="#pl" x="913.4" y="1060.2"/>
<use href="#pl" x="929.6" y="1060.2"/>
<use href="#pl" x="945.8" y="1060.2"/>
</g>
<rect x="874" y="56.7" width="76" height="68" fill="#fff" stroke="#333" stroke-width="0.8" />
<polygon points="877.5,59.9 947,59.9 947,76.7 894,76.7 894,121.2 877.5,121.2" fill="#fff" stroke="#9a9a9a" stroke-width="0.5" />
<line x1="894" y1="76.7" x2="950" y2="76.7" stroke="#444" stroke-width="0.6" />
<line x1="894" y1="79.3" x2="950" y2="79.3" stroke="#444" stroke-width="0.6" />
<line x1="894" y1="88.7" x2="950" y2="88.7" stroke="#444" stroke-width="0.6" />
<line x1="894" y1="97.5" x2="950" y2="97.5" stroke="#444" stroke-width="0.6" />
<line x1="894" y1="106.6" x2="950" y2="106.6" stroke="#444" stroke-width="0.6" />
<line x1="894" y1="115.4" x2="950" y2="115.4" stroke="#444" stroke-width="0.6" />
<use href="#pl" x="882" y="63.7"/>
<use href="#pl" x="889.5" y="68.7"/>
<use href="#pl" x="882" y="73.7"/>
<use href="#pl" x="889.5" y="78.7"/>
<use href="#pl" x="882" y="83.7"/>
<use href="#pl" x="889.5" y="88.7"/>
<use href="#pl" x="882" y="93.7"/>
<use href="#pl" x="889.5" y="98.7"/>
<use href="#pl" x="882" y="103.7"/>
<use href="#pl" x="889.5" y="108.7"/>
<use href="#pl" x="882" y="113.7"/>
<use href="#pl" x="889.5" y="118.7"/>
<use href="#pl" x="898" y="63.7"/>
<use href="#pl" x="898" y="73.7"/>
<use href="#pl" x="906" y="68.7"/>
<use href="#pl" x="914" y="63.7"/>
<use href="#pl" x="914" y="73.7"/>
<use href="#pl" x="922" y="68.7"/>
<use href="#pl" x="930" y="63.7"/>
<use href="#pl" x="930" y="73.7"/>
<use href="#pl" x="938" y="68.7"/>
<use href="#pl" x="946" y="63.7"/>
<use href="#pl" x="946" y="73.7"/>
<rect x="780.7" y="294.6" width="68.5" height="67.4" fill="#fff" stroke="#333" stroke-width="0.8" />
<line x1="780.7" y1="299.4" x2="849.2" y2="299.4" stroke="#444" stroke-width="0.7" />
<line x1="780.7" y1="308.5" x2="849.2" y2="308.5" stroke="#444" stroke-width="0.7" />
<line x1="780.7" y1="317.5" x2="849.2" y2="317.5" stroke="#444" stroke-width="0.7" />
<line x1="780.7" y1="326.5" x2="849.2" y2="326.5" stroke="#444" stroke-width="0.7" />
<line x1="780.7" y1="335.6" x2="849.2" y2="335.6" stroke="#444" stroke-width="0.7" />
<line x1="780.7" y1="343" x2="849.2" y2="343" stroke="#444" stroke-width="0.7" />
<polygon points="845.6,297.8 845.6,359 787.6,359 787.6,343 828.6,343 828.6,297.8" fill="#fff" stroke="#9a9a9a" stroke-width="0.5" />
<use href="#pl" x="832.7" y="299.6"/>
<use href="#pl" x="840.9" y="304.2"/>
<use href="#pl" x="832.7" y="308.9"/>
<use href="#pl" x="840.9" y="313.6"/>
<use href="#pl" x="832.7" y="318.3"/>
<use href="#pl" x="840.9" y="323"/>
<use href="#pl" x="832.7" y="327.6"/>
<use href="#pl" x="840.9" y="332.3"/>
<use href="#pl" x="832.7" y="337"/>
<use href="#pl" x="840.9" y="341.6"/>
<use href="#pl" x="832.7" y="346.3"/>
<use href="#pl" x="840.9" y="351"/>
<use href="#pl" x="832.7" y="355.6"/>
<use href="#pl" x="792.7" y="351"/>
<use href="#pl" x="800.9" y="346.3"/>
<use href="#pl" x="800.9" y="355.6"/>
<use href="#pl" x="809.1" y="351"/>
<use href="#pl" x="817.3" y="346.3"/>
<use href="#pl" x="817.3" y="355.6"/>
<use href="#pl" x="825.5" y="351"/>
<rect x="873.5" y="550.6" width="76.5" height="67.9" fill="#fff" stroke="#333" stroke-width="0.8" />
<polygon points="877,553.8 947,553.8 947,570.6 893.5,570.6 893.5,615 877,615" fill="#fff" stroke="#9a9a9a" stroke-width="0.5" />
<line x1="893.5" y1="570.6" x2="950" y2="570.6" stroke="#444" stroke-width="0.6" />
<line x1="893.5" y1="573.2" x2="950" y2="573.2" stroke="#444" stroke-width="0.6" />
<line x1="893.5" y1="582.6" x2="950" y2="582.6" stroke="#444" stroke-width="0.6" />
<line x1="893.5" y1="591.4" x2="950" y2="591.4" stroke="#444" stroke-width="0.6" />
<line x1="893.5" y1="600.5" x2="950" y2="600.5" stroke="#444" stroke-width="0.6" />
<line x1="893.5" y1="609.3" x2="950" y2="609.3" stroke="#444" stroke-width="0.6" />
<use href="#pl" x="881.5" y="557.6"/>
<use href="#pl" x="889" y="562.6"/>
<use href="#pl" x="881.5" y="567.6"/>
<use href="#pl" x="889" y="572.6"/>
<use href="#pl" x="881.5" y="577.6"/>
<use href="#pl" x="889" y="582.6"/>
<use href="#pl" x="881.5" y="587.6"/>
<use href="#pl" x="889" y="592.6"/>
<use href="#pl" x="881.5" y="597.6"/>
<use href="#pl" x="889" y="602.6"/>
<use href="#pl" x="881.5" y="607.6"/>
<use href="#pl" x="889" y="612.6"/>
<use href="#pl" x="897.5" y="557.6"/>
<use href="#pl" x="897.5" y="567.6"/>
<use href="#pl" x="905.5" y="562.6"/>
<use href="#pl" x="913.5" y="557.6"/>
<use href="#pl" x="913.5" y="567.6"/>
<use href="#pl" x="921.5" y="562.6"/>
<use href="#pl" x="929.5" y="557.6"/>
<use href="#pl" x="929.5" y="567.6"/>
<use href="#pl" x="937.5" y="562.6"/>
<use href="#pl" x="945.5" y="557.6"/>
<use href="#pl" x="945.5" y="567.6"/>
<rect x="780.7" y="770" width="68.5" height="68" fill="#fff" stroke="#333" stroke-width="0.8" />
<line x1="780.7" y1="774.8" x2="849.2" y2="774.8" stroke="#444" stroke-width="0.7" />
<line x1="780.7" y1="783.9" x2="849.2" y2="783.9" stroke="#444" stroke-width="0.7" />
<line x1="780.7" y1="792.9" x2="849.2" y2="792.9" stroke="#444" stroke-width="0.7" />
<line x1="780.7" y1="801.9" x2="849.2" y2="801.9" stroke="#444" stroke-width="0.7" />
<line x1="780.7" y1="811" x2="849.2" y2="811" stroke="#444" stroke-width="0.7" />
<line x1="780.7" y1="818.4" x2="849.2" y2="818.4" stroke="#444" stroke-width="0.7" />
<polygon points="845.6,773.2 845.6,835 787.6,835 787.6,818.4 828.6,818.4 828.6,773.2" fill="#fff" stroke="#9a9a9a" stroke-width="0.5" />
<use href="#pl" x="832.7" y="775"/>
<use href="#pl" x="840.9" y="779.6"/>
<use href="#pl" x="832.7" y="784.3"/>
<use href="#pl" x="840.9" y="789"/>
<use href="#pl" x="832.7" y="793.7"/>
<use href="#pl" x="840.9" y="798.4"/>
<use href="#pl" x="832.7" y="803"/>
<use href="#pl" x="840.9" y="807.7"/>
<use href="#pl" x="832.7" y="812.4"/>
<use href="#pl" x="840.9" y="817"/>
<use href="#pl" x="832.7" y="821.7"/>
<use href="#pl" x="840.9" y="826.4"/>
<use href="#pl" x="832.7" y="831"/>
<use href="#pl" x="792.7" y="826.4"/>
<use href="#pl" x="800.9" y="821.7"/>
<use href="#pl" x="800.9" y="831"/>
<use href="#pl" x="809.1" y="826.4"/>
<use href="#pl" x="817.3" y="821.7"/>
<use href="#pl" x="817.3" y="831"/>
<use href="#pl" x="825.5" y="826.4"/>
<rect x="873.5" y="1026" width="76.5" height="68" fill="#fff" stroke="#333" stroke-width="0.8" />
<polygon points="877,1029.2 947,1029.2 947,1046 893.5,1046 893.5,1090.5 877,1090.5" fill="#fff" stroke="#9a9a9a" stroke-width="0.5" />
<line x1="893.5" y1="1046" x2="950" y2="1046" stroke="#444" stroke-width="0.6" />
<line x1="893.5" y1="1048.6" x2="950" y2="1048.6" stroke="#444" stroke-width="0.6" />
<line x1="893.5" y1="1058" x2="950" y2="1058" stroke="#444" stroke-width="0.6" />
<line x1="893.5" y1="1066.8" x2="950" y2="1066.8" stroke="#444" stroke-width="0.6" />
<line x1="893.5" y1="1075.9" x2="950" y2="1075.9" stroke="#444" stroke-width="0.6" />
<line x1="893.5" y1="1084.7" x2="950" y2="1084.7" stroke="#444" stroke-width="0.6" />
<use href="#pl" x="881.5" y="1033"/>
<use href="#pl" x="889" y="1038"/>
<use href="#pl" x="881.5" y="1043"/>
<use href="#pl" x="889" y="1048"/>
<use href="#pl" x="881.5" y="1053"/>
<use href="#pl" x="889" y="1058"/>
<use href="#pl" x="881.5" y="1063"/>
<use href="#pl" x="889" y="1068"/>
<use href="#pl" x="881.5" y="1073"/>
<use href="#pl" x="889" y="1078"/>
<use href="#pl" x="881.5" y="1083"/>
<use href="#pl" x="889" y="1088"/>
<use href="#pl" x="897.5" y="1033"/>
<use href="#pl" x="897.5" y="1043"/>
<use href="#pl" x="905.5" y="1038"/>
<use href="#pl" x="913.5" y="1033"/>
<use href="#pl" x="913.5" y="1043"/>
<use href="#pl" x="921.5" y="1038"/>
<use href="#pl" x="929.5" y="1033"/>
<use href="#pl" x="929.5" y="1043"/>
<use href="#pl" x="937.5" y="1038"/>
<use href="#pl" x="945.5" y="1033"/>
<use href="#pl" x="945.5" y="1043"/>
<clipPath id="deckclip"><polygon points="148.3,21.3 221.8,21.3 221.8,76.8 562,76.8 562,280.5 623.7,280.5 623.7,17.5 694.5,17.5 694.5,280.5 765.5,280.5 765.5,965.5 494,965.5 494,1033.2 216.3,1033.2 216.3,897.4 80.5,897.4 80.5,484 148.3,484"/></clipPath>
<polygon points="148.3,21.3 221.8,21.3 221.8,76.8 562,76.8 562,280.5 623.7,280.5 623.7,17.5 694.5,17.5 694.5,280.5 765.5,280.5 765.5,965.5 494,965.5 494,1033.2 216.3,1033.2 216.3,897.4 80.5,897.4 80.5,484 148.3,484" fill="#fff" stroke="none" stroke-width="0.6" />
<polygon points="148.3,21.3 221.8,21.3 221.8,76.8 562,76.8 562,280.5 623.7,280.5 623.7,17.5 694.5,17.5 694.5,280.5 765.5,280.5 765.5,965.5 494,965.5 494,1033.2 216.3,1033.2 216.3,897.4 80.5,897.4 80.5,484 148.3,484" fill="url(#deck)" stroke="none" stroke-width="0.6" />
<line x1="148.3" y1="21.3" x2="148.3" y2="484" stroke="#333" stroke-width="0.6" stroke-dasharray="6 1.2 1.2 1.2"/>
<line x1="694.3" y1="17.5" x2="694.3" y2="281" stroke="#333" stroke-width="0.7" />
<line x1="765.5" y1="281" x2="765.5" y2="965.5" stroke="#333" stroke-width="0.6" stroke-dasharray="6 1.2 1.2 1.2"/>
<line x1="219.3" y1="77.6" x2="562" y2="77.6" stroke="#333" stroke-width="0.6" stroke-dasharray="6 1.2 1.2 1.2"/>
<line x1="623.7" y1="17.5" x2="623.7" y2="78" stroke="#bbb" stroke-width="0.5" />
<line x1="694.5" y1="280.6" x2="765.5" y2="280.6" stroke="#333" stroke-width="0.6" stroke-dasharray="6 1.2 1.2 1.2"/>
<line x1="81.5" y1="691" x2="81.5" y2="827" stroke="#333" stroke-width="0.6" stroke-dasharray="6 1.2 1.2 1.2"/>
<g clip-path="url(#deckclip)" stroke="#7a7a7a" stroke-width="0.9" stroke-dasharray="5.8 3.6" fill="none">
<line x1="81.5" y1="76" x2="81.5" y2="1036"/>
<line x1="85.5" y1="76" x2="85.5" y2="1036"/>
<line x1="149.5" y1="76" x2="149.5" y2="1036"/>
<line x1="153.5" y1="76" x2="153.5" y2="1036"/>
<line x1="217.5" y1="76" x2="217.5" y2="1036"/>
<line x1="221.5" y1="76" x2="221.5" y2="1036"/>
<line x1="285.5" y1="76" x2="285.5" y2="1036"/>
<line x1="289.5" y1="76" x2="289.5" y2="1036"/>
<line x1="352.5" y1="76" x2="352.5" y2="1036"/>
<line x1="357.5" y1="76" x2="357.5" y2="1036"/>
<line x1="420.5" y1="76" x2="420.5" y2="1036"/>
<line x1="425.5" y1="76" x2="425.5" y2="1036"/>
<line x1="488.5" y1="76" x2="488.5" y2="1036"/>
<line x1="493.5" y1="76" x2="493.5" y2="1036"/>
<line x1="556.5" y1="76" x2="556.5" y2="1036"/>
<line x1="561.5" y1="76" x2="561.5" y2="1036"/>
<line x1="624.5" y1="76" x2="624.5" y2="1036"/>
<line x1="628.5" y1="76" x2="628.5" y2="1036"/>
<line x1="692.5" y1="76" x2="692.5" y2="1036"/>
<line x1="696.5" y1="76" x2="696.5" y2="1036"/>
<line x1="760.5" y1="76" x2="760.5" y2="1036"/>
<line x1="764.5" y1="76" x2="764.5" y2="1036"/>
<line x1="78" y1="77.5" x2="768" y2="77.5"/>
<line x1="78" y1="81.5" x2="768" y2="81.5"/>
<line x1="78" y1="145.5" x2="768" y2="145.5"/>
<line x1="78" y1="149.5" x2="768" y2="149.5"/>
<line x1="78" y1="213.5" x2="768" y2="213.5"/>
<line x1="78" y1="217.5" x2="768" y2="217.5"/>
<line x1="78" y1="281.5" x2="768" y2="281.5"/>
<line x1="78" y1="285.5" x2="768" y2="285.5"/>
<line x1="78" y1="349.5" x2="768" y2="349.5"/>
<line x1="78" y1="353.5" x2="768" y2="353.5"/>
<line x1="78" y1="416.5" x2="768" y2="416.5"/>
<line x1="78" y1="421.5" x2="768" y2="421.5"/>
<line x1="78" y1="484.5" x2="768" y2="484.5"/>
<line x1="78" y1="489.5" x2="768" y2="489.5"/>
<line x1="78" y1="552.5" x2="768" y2="552.5"/>
<line x1="78" y1="557.5" x2="768" y2="557.5"/>
<line x1="78" y1="620.5" x2="768" y2="620.5"/>
<line x1="78" y1="625.5" x2="768" y2="625.5"/>
<line x1="78" y1="688.5" x2="768" y2="688.5"/>
<line x1="78" y1="692.5" x2="768" y2="692.5"/>
<line x1="78" y1="756.5" x2="768" y2="756.5"/>
<line x1="78" y1="760.5" x2="768" y2="760.5"/>
<line x1="78" y1="824.5" x2="768" y2="824.5"/>
<line x1="78" y1="828.5" x2="768" y2="828.5"/>
<line x1="78" y1="892.5" x2="768" y2="892.5"/>
<line x1="78" y1="896.5" x2="768" y2="896.5"/>
<line x1="78" y1="960.5" x2="768" y2="960.5"/>
<line x1="78" y1="964.5" x2="768" y2="964.5"/>
<line x1="78" y1="1028.5" x2="768" y2="1028.5"/>
<line x1="78" y1="1032.5" x2="768" y2="1032.5"/>
</g>
<rect x="624.1" y="17.5" width="69.9" height="262.9" fill="#fff" stroke="none" stroke-width="0.6" />
<rect x="624.1" y="17.5" width="69.9" height="262.9" fill="url(#deck)" stroke="none" stroke-width="0.6" />
<line x1="624.1" y1="17.5" x2="624.1" y2="280.4" stroke="#ccc" stroke-width="0.5" />
<line x1="694.3" y1="17.5" x2="694.3" y2="281" stroke="#333" stroke-width="0.7" />
<rect x="148.6" y="76.8" width="5.6" height="5.6" fill="#000" stroke="none" stroke-width="0.6" />
<rect x="216.5" y="76.8" width="5.6" height="5.6" fill="#000" stroke="none" stroke-width="0.6" />
<rect x="284.4" y="76.8" width="5.6" height="5.6" fill="#000" stroke="none" stroke-width="0.6" />
<rect x="352.3" y="76.8" width="5.6" height="5.6" fill="#000" stroke="none" stroke-width="0.6" />
<rect x="420.2" y="76.8" width="5.6" height="5.6" fill="#000" stroke="none" stroke-width="0.6" />
<rect x="488.1" y="76.8" width="5.6" height="5.6" fill="#000" stroke="none" stroke-width="0.6" />
<rect x="556" y="76.8" width="5.6" height="5.6" fill="#000" stroke="none" stroke-width="0.6" />
<rect x="148.6" y="144.7" width="5.6" height="5.6" fill="#000" stroke="none" stroke-width="0.6" />
<rect x="148.6" y="212.6" width="5.6" height="5.6" fill="#000" stroke="none" stroke-width="0.6" />
<rect x="148.6" y="280.5" width="5.6" height="5.6" fill="#000" stroke="none" stroke-width="0.6" />
<rect x="148.6" y="348.4" width="5.6" height="5.6" fill="#000" stroke="none" stroke-width="0.6" />
<rect x="148.6" y="416.3" width="5.6" height="5.6" fill="#000" stroke="none" stroke-width="0.6" />
<rect x="556" y="144.7" width="5.6" height="5.6" fill="#000" stroke="none" stroke-width="0.6" />
<rect x="556" y="212.6" width="5.6" height="5.6" fill="#000" stroke="none" stroke-width="0.6" />
<rect x="556" y="280.5" width="5.6" height="5.6" fill="#000" stroke="none" stroke-width="0.6" />
<rect x="623.9" y="280.5" width="5.6" height="5.6" fill="#000" stroke="none" stroke-width="0.6" />
<rect x="691.8" y="280.5" width="5.6" height="5.6" fill="#000" stroke="none" stroke-width="0.6" />
<rect x="759.7" y="280.5" width="5.6" height="5.6" fill="#000" stroke="none" stroke-width="0.6" />
<rect x="759.7" y="348.4" width="5.6" height="5.6" fill="#000" stroke="none" stroke-width="0.6" />
<rect x="759.7" y="416.3" width="5.6" height="5.6" fill="#000" stroke="none" stroke-width="0.6" />
<rect x="759.7" y="484.2" width="5.6" height="5.6" fill="#000" stroke="none" stroke-width="0.6" />
<rect x="759.7" y="552.1" width="5.6" height="5.6" fill="#000" stroke="none" stroke-width="0.6" />
<rect x="759.7" y="620" width="5.6" height="5.6" fill="#000" stroke="none" stroke-width="0.6" />
<rect x="759.7" y="687.9" width="5.6" height="5.6" fill="#000" stroke="none" stroke-width="0.6" />
<rect x="759.7" y="755.8" width="5.6" height="5.6" fill="#000" stroke="none" stroke-width="0.6" />
<rect x="759.7" y="823.7" width="5.6" height="5.6" fill="#000" stroke="none" stroke-width="0.6" />
<rect x="759.7" y="891.6" width="5.6" height="5.6" fill="#000" stroke="none" stroke-width="0.6" />
<rect x="759.7" y="959.5" width="5.6" height="5.6" fill="#000" stroke="none" stroke-width="0.6" />
<rect x="80.7" y="484.2" width="5.6" height="5.6" fill="#000" stroke="none" stroke-width="0.6" />
<rect x="80.7" y="552.1" width="5.6" height="5.6" fill="#000" stroke="none" stroke-width="0.6" />
<rect x="80.7" y="620" width="5.6" height="5.6" fill="#000" stroke="none" stroke-width="0.6" />
<rect x="80.7" y="687.9" width="5.6" height="5.6" fill="#000" stroke="none" stroke-width="0.6" />
<rect x="80.7" y="755.8" width="5.6" height="5.6" fill="#000" stroke="none" stroke-width="0.6" />
<rect x="80.7" y="823.7" width="5.6" height="5.6" fill="#000" stroke="none" stroke-width="0.6" />
<rect x="80.7" y="891.6" width="5.6" height="5.6" fill="#000" stroke="none" stroke-width="0.6" />
<rect x="148.6" y="484.2" width="5.6" height="5.6" fill="#000" stroke="none" stroke-width="0.6" />
<rect x="148.6" y="891.6" width="5.6" height="5.6" fill="#000" stroke="none" stroke-width="0.6" />
<rect x="216.5" y="891.6" width="5.6" height="5.6" fill="#000" stroke="none" stroke-width="0.6" />
<rect x="216.5" y="959.5" width="5.6" height="5.6" fill="#000" stroke="none" stroke-width="0.6" />
<rect x="216.5" y="1027.4" width="5.6" height="5.6" fill="#000" stroke="none" stroke-width="0.6" />
<rect x="284.4" y="1027.4" width="5.6" height="5.6" fill="#000" stroke="none" stroke-width="0.6" />
<rect x="352.3" y="1027.4" width="5.6" height="5.6" fill="#000" stroke="none" stroke-width="0.6" />
<rect x="420.2" y="1027.4" width="5.6" height="5.6" fill="#000" stroke="none" stroke-width="0.6" />
<rect x="488.1" y="1027.4" width="5.6" height="5.6" fill="#000" stroke="none" stroke-width="0.6" />
<rect x="488.1" y="959.5" width="5.6" height="5.6" fill="#000" stroke="none" stroke-width="0.6" />
<rect x="556" y="959.5" width="5.6" height="5.6" fill="#000" stroke="none" stroke-width="0.6" />
<rect x="623.9" y="823.7" width="5.6" height="5.6" fill="#000" stroke="none" stroke-width="0.6" />
<rect x="623.9" y="891.6" width="5.6" height="5.6" fill="#000" stroke="none" stroke-width="0.6" />
<rect x="623.9" y="959.5" width="5.6" height="5.6" fill="#000" stroke="none" stroke-width="0.6" />
<rect x="691.8" y="823.7" width="5.6" height="5.6" fill="#000" stroke="none" stroke-width="0.6" />
<rect x="691.8" y="891.6" width="5.6" height="5.6" fill="#000" stroke="none" stroke-width="0.6" />
<rect x="691.8" y="959.5" width="5.6" height="5.6" fill="#000" stroke="none" stroke-width="0.6" />
<rect x="216.5" y="145" width="277.4" height="346.5" fill="#fff" stroke="none" stroke-width="0.6" />
<rect x="487.6" y="348.4" width="142.4" height="142.6" fill="#fff" stroke="none" stroke-width="0.6" />
<rect x="487.6" y="348.4" width="210.2" height="74.6" fill="#fff" stroke="none" stroke-width="0.6" />
<rect x="287" y="491" width="343" height="269" fill="#fff" stroke="none" stroke-width="0.6" />
<rect x="572.7" y="756" width="33.3" height="6.5" fill="#fff" stroke="none" stroke-width="0.6" />
<rect x="219" y="491" width="71" height="65" fill="#fff" stroke="none" stroke-width="0.6" />
<rect x="148.2" y="552.3" width="142.3" height="277.7" fill="#fff" stroke="none" stroke-width="0.6" />
<rect x="284.5" y="756" width="212.5" height="142" fill="#fff" stroke="none" stroke-width="0.6" />
<rect x="284.5" y="892" width="141.1" height="74" fill="#fff" stroke="none" stroke-width="0.6" />
<rect x="488.9" y="756" width="73.1" height="142.2" fill="#fff" stroke="none" stroke-width="0.6" />
<rect x="626.4" y="490" width="71.1" height="270" fill="#fff" stroke="none" stroke-width="0.6" />
<rect x="629.8" y="422.9" width="61.2" height="62.1" fill="#fff" stroke="none" stroke-width="0.6" />
<rect x="626.9" y="490.7" width="64.9" height="265.4" fill="url(#deck)" stroke="none" stroke-width="0.6" />
<rect x="629.8" y="422.9" width="61.2" height="61.6" fill="url(#deck)" stroke="none" stroke-width="0.6" />
<rect x="222" y="491.8" width="66" height="61.2" fill="url(#floor)" stroke="none" stroke-width="0.6" />
<rect x="154" y="558.6" width="134" height="130.4" fill="url(#floor)" stroke="none" stroke-width="0.6" />
<rect x="290" y="757" width="199" height="135" fill="url(#floor)" stroke="none" stroke-width="0.6" />
<rect x="216.5" y="145" width="5.7" height="106.6" fill="#000" stroke="none" stroke-width="0.6" />
<rect x="216.5" y="271" width="5.7" height="191.6" fill="#000" stroke="none" stroke-width="0.6" />
<rect x="216.5" y="481.6" width="5.7" height="10.2" fill="#000" stroke="none" stroke-width="0.6" />
<rect x="216.5" y="145" width="9.2" height="5.7" fill="#000" stroke="none" stroke-width="0.6" />
<rect x="281.6" y="145" width="77.4" height="5.7" fill="#000" stroke="none" stroke-width="0.6" />
<rect x="415.7" y="145" width="78.2" height="5.7" fill="#000" stroke="none" stroke-width="0.6" />
<rect x="225.7" y="145.9" width="55.9" height="4.2" fill="#fff" stroke="#555" stroke-width="0.5" />
<line x1="225.7" y1="148" x2="281.6" y2="148" stroke="#888" stroke-width="0.9" />
<rect x="359" y="145.9" width="56.7" height="4.2" fill="#fff" stroke="#555" stroke-width="0.5" />
<line x1="359" y1="148" x2="415.7" y2="148" stroke="#888" stroke-width="0.9" />
<rect x="487.6" y="145" width="6.3" height="142" fill="#000" stroke="none" stroke-width="0.6" />
<rect x="488.4" y="287" width="3.2" height="57.5" fill="#fff" stroke="#555" stroke-width="0.5" />
<line x1="490" y1="287" x2="490" y2="344.5" stroke="#888" stroke-width="0.9" />
<rect x="487.6" y="344.5" width="10.8" height="10.2" fill="#000" stroke="none" stroke-width="0.6" />
<rect x="487.6" y="354.7" width="3.8" height="82.3" fill="#000" stroke="none" stroke-width="0.6" />
<rect x="484.6" y="437" width="6.6" height="54" fill="#000" stroke="none" stroke-width="0.6" />
<rect x="285" y="150.7" width="4.3" height="93.6" fill="#000" stroke="none" stroke-width="0.6" />
<rect x="222" y="240.5" width="41.3" height="3.8" fill="#000" stroke="none" stroke-width="0.6" />
<rect x="282.8" y="240.5" width="27.4" height="3.8" fill="#000" stroke="none" stroke-width="0.6" />
<rect x="331" y="240.5" width="28" height="3.8" fill="#000" stroke="none" stroke-width="0.6" />
<rect x="379.1" y="240.5" width="45.6" height="3.8" fill="#000" stroke="none" stroke-width="0.6" />
<rect x="289" y="189.9" width="19.8" height="3.4" fill="#000" stroke="none" stroke-width="0.6" />
<rect x="328.4" y="189.9" width="3.9" height="3.4" fill="#000" stroke="none" stroke-width="0.6" />
<rect x="332.3" y="150.7" width="3.7" height="93.6" fill="#000" stroke="none" stroke-width="0.6" />
<rect x="252.7" y="244" width="3.4" height="8" fill="#000" stroke="none" stroke-width="0.6" />
<rect x="252.7" y="272" width="3.4" height="9.4" fill="#000" stroke="none" stroke-width="0.6" />
<rect x="222" y="281" width="41.3" height="4.9" fill="#000" stroke="none" stroke-width="0.6" />
<rect x="282.8" y="281" width="76.2" height="4.9" fill="#000" stroke="none" stroke-width="0.6" />
<rect x="379.1" y="281" width="114.8" height="4.9" fill="#000" stroke="none" stroke-width="0.6" />
<rect x="421.3" y="150.7" width="3.4" height="95.8" fill="#000" stroke="none" stroke-width="0.6" />
<rect x="421.3" y="266" width="3.4" height="15.4" fill="#000" stroke="none" stroke-width="0.6" />
<rect x="455.3" y="150.7" width="3.4" height="56.2" fill="#000" stroke="none" stroke-width="0.6" />
<rect x="424.7" y="203.5" width="2.3" height="3.4" fill="#000" stroke="none" stroke-width="0.6" />
<rect x="445.8" y="203.5" width="12.9" height="3.4" fill="#000" stroke="none" stroke-width="0.6" />
<rect x="479" y="203.5" width="8.6" height="3.4" fill="#000" stroke="none" stroke-width="0.6" />
<rect x="424.7" y="173.9" width="2" height="2.9" fill="#000" stroke="none" stroke-width="0.6" />
<rect x="445.8" y="173.9" width="9.5" height="2.9" fill="#000" stroke="none" stroke-width="0.6" />
<rect x="353.3" y="286" width="3.6" height="40.5" fill="#000" stroke="none" stroke-width="0.6" />
<rect x="353.3" y="346.9" width="3.6" height="31.9" fill="#000" stroke="none" stroke-width="0.6" />
<rect x="353.3" y="399.3" width="3.6" height="40.2" fill="#000" stroke="none" stroke-width="0.6" />
<rect x="353.3" y="459.5" width="3.6" height="31.5" fill="#000" stroke="none" stroke-width="0.6" />
<rect x="222" y="349.1" width="103.9" height="4.2" fill="#000" stroke="none" stroke-width="0.6" />
<rect x="345.4" y="349.1" width="8.5" height="4.2" fill="#000" stroke="none" stroke-width="0.6" />
<rect x="222" y="418" width="26.5" height="3.4" fill="#000" stroke="none" stroke-width="0.6" />
<rect x="268" y="418" width="85.9" height="3.4" fill="#000" stroke="none" stroke-width="0.6" />
<rect x="268" y="418" width="4.3" height="44" fill="#000" stroke="none" stroke-width="0.6" />
<rect x="268" y="481.6" width="4.3" height="6.4" fill="#000" stroke="none" stroke-width="0.6" />
<rect x="216.5" y="487.6" width="83" height="3.9" fill="#000" stroke="none" stroke-width="0.6" />
<rect x="299.5" y="487.8" width="23.3" height="3.4" fill="#fff" stroke="#555" stroke-width="0.5" />
<line x1="299.5" y1="489.5" x2="322.8" y2="489.5" stroke="#888" stroke-width="0.9" />
<rect x="322.8" y="487.6" width="36.2" height="3.9" fill="#000" stroke="none" stroke-width="0.6" />
<rect x="351.4" y="483.3" width="7.6" height="8.2" fill="#000" stroke="none" stroke-width="0.6" />
<line x1="359" y1="489.8" x2="432.7" y2="489.8" stroke="#333" stroke-width="0.7" />
<line x1="359" y1="488.2" x2="432.7" y2="488.2" stroke="#aaa" stroke-width="0.5" />
<rect x="432.7" y="483.7" width="13.6" height="7.3" fill="#000" stroke="none" stroke-width="0.6" />
<rect x="446.3" y="485.8" width="22.1" height="3.4" fill="#fff" stroke="#555" stroke-width="0.5" />
<line x1="446.3" y1="487.5" x2="468.4" y2="487.5" stroke="#888" stroke-width="0.9" />
<rect x="468.4" y="483.7" width="25.5" height="7.3" fill="#000" stroke="none" stroke-width="0.6" />
<rect x="432.7" y="437" width="58.3" height="3.8" fill="#000" stroke="none" stroke-width="0.6" />
<rect x="432.7" y="437" width="3.4" height="14.9" fill="#000" stroke="none" stroke-width="0.6" />
<rect x="432.7" y="476.5" width="3.4" height="14.5" fill="#000" stroke="none" stroke-width="0.6" />
<rect x="498.4" y="349.6" width="55.6" height="4.2" fill="#fff" stroke="#555" stroke-width="0.5" />
<line x1="498.4" y1="351.7" x2="554" y2="351.7" stroke="#888" stroke-width="0.9" />
<rect x="554" y="348.4" width="11" height="6.3" fill="#000" stroke="none" stroke-width="0.6" />
<rect x="565" y="349.6" width="56.2" height="4.2" fill="#fff" stroke="#555" stroke-width="0.5" />
<line x1="565" y1="351.7" x2="621.2" y2="351.7" stroke="#888" stroke-width="0.9" />
<rect x="621.2" y="348.4" width="23" height="6.5" fill="#000" stroke="none" stroke-width="0.6" />
<rect x="677.4" y="348.6" width="20.4" height="6.3" fill="#000" stroke="none" stroke-width="0.6" />
<rect x="623" y="354.9" width="4.2" height="11.4" fill="#000" stroke="none" stroke-width="0.6" />
<rect x="623" y="399.6" width="4.2" height="17.4" fill="#000" stroke="none" stroke-width="0.6" />
<rect x="623" y="416.9" width="6.8" height="74.1" fill="#000" stroke="none" stroke-width="0.6" />
<rect x="623" y="416.9" width="74.8" height="6" fill="#000" stroke="none" stroke-width="0.6" />
<rect x="691.8" y="354.9" width="6" height="3.6" fill="#000" stroke="none" stroke-width="0.6" />
<rect x="691.8" y="413" width="6" height="10" fill="#000" stroke="none" stroke-width="0.6" />
<rect x="692.3" y="358.5" width="4.6" height="54.5" fill="#fff" stroke="#555" stroke-width="0.5" />
<line x1="694.6" y1="358.5" x2="694.6" y2="413" stroke="#888" stroke-width="0.9" />
<rect x="623" y="484.5" width="74.8" height="6.2" fill="#000" stroke="none" stroke-width="0.6" />
<line x1="497" y1="485.4" x2="623" y2="485.4" stroke="#999" stroke-width="0.6" stroke-dasharray="22 12" stroke-dashoffset="-3"/>
<line x1="497" y1="489.2" x2="623" y2="489.2" stroke="#999" stroke-width="0.6" stroke-dasharray="22 12" stroke-dashoffset="-7"/>
<line x1="497" y1="487.5" x2="623" y2="487.5" stroke="#222" stroke-width="1.3" stroke-dasharray="7.2 2.4"/>
<rect x="493.9" y="474.1" width="2.9" height="26.3" fill="#6a6a6a" stroke="none" stroke-width="0.6" />
<line x1="497.2" y1="476" x2="511.1" y2="499" stroke="#2a2a2a" stroke-width="1.1" />
<line x1="512.1" y1="478" x2="530.7" y2="496.6" stroke="#2a2a2a" stroke-width="1.1" />
<line x1="531.7" y1="480.3" x2="554.6" y2="494.2" stroke="#2a2a2a" stroke-width="1.1" />
<rect x="351.1" y="551.4" width="7.1" height="7.7" fill="#000" stroke="none" stroke-width="0.6" />
<rect x="351.1" y="622" width="7.1" height="7.7" fill="#000" stroke="none" stroke-width="0.6" />
<rect x="351.1" y="687.6" width="7.5" height="7.3" fill="#000" stroke="none" stroke-width="0.6" />
<rect x="487.7" y="551.8" width="7.1" height="7.8" fill="#000" stroke="none" stroke-width="0.6" />
<rect x="487.7" y="622" width="7.1" height="7.7" fill="#000" stroke="none" stroke-width="0.6" />
<rect x="487.2" y="687.6" width="7.3" height="7.3" fill="#000" stroke="none" stroke-width="0.6" />
<rect x="622.8" y="551.4" width="7.8" height="7.7" fill="#000" stroke="none" stroke-width="0.6" />
<rect x="622.5" y="687.2" width="8.5" height="7.6" fill="#000" stroke="none" stroke-width="0.6" />
<line x1="288.4" y1="491.8" x2="288.4" y2="674" stroke="#222" stroke-width="1.4" stroke-dasharray="9 1.6"/>
<rect x="282.1" y="491.8" width="12.3" height="6.8" fill="url(#hatch)" stroke="none" stroke-width="0.6" />
<line x1="288.3" y1="491.8" x2="288.3" y2="498.6" stroke="#222" stroke-width="0.7" />
<rect x="281.6" y="674.1" width="13.6" height="14.8" fill="url(#hatch)" stroke="none" stroke-width="0.6" />
<line x1="288.4" y1="674.1" x2="288.4" y2="688.9" stroke="#222" stroke-width="0.7" />
<rect x="290.2" y="744.5" width="6.8" height="23.5" fill="url(#hatch)" stroke="none" stroke-width="0.6" />
<line x1="626.4" y1="491" x2="626.4" y2="551.4" stroke="#111" stroke-width="0.9" />
<line x1="626.4" y1="566.6" x2="626.4" y2="687" stroke="#222" stroke-width="1.0" stroke-dasharray="7 1.4"/>
<line x1="626.6" y1="694.8" x2="626.6" y2="756" stroke="#111" stroke-width="0.9" />
<rect x="619.9" y="559.1" width="13.6" height="7.6" fill="url(#hatch)" stroke="none" stroke-width="0.6" />
<line x1="620" y1="684" x2="630" y2="668" stroke="#333" stroke-width="0.9" />
<line x1="622" y1="672" x2="631" y2="659" stroke="#333" stroke-width="0.9" />
<line x1="622" y1="660" x2="630" y2="648" stroke="#333" stroke-width="0.9" />
<polyline points="290,755.92 292.6,756.68 295.2,755.92 297.8,756.68 300.4,755.92 303,756.68 305.6,755.92 308.2,756.68 310.8,755.92 313.4,756.68 316,755.92 318.6,756.68 321.2,755.92 323.8,756.68 326.4,755.92 329,756.68 331.6,755.92 334.2,756.68 336.8,755.92 339.4,756.68 342,755.92 344.6,756.68 347.2,755.92 349.8,756.68 352.4,755.92 355,756.68 357.6,755.92 360.2,756.68 362.8,755.92 365.4,756.68 368,755.92 370.6,756.68 373.2,755.92 375.8,756.68 378.4,755.92 381,756.68 383.6,755.92 386.2,756.68 388.8,755.92 391.4,756.68 394,755.92 396.6,756.68 399.2,755.92 401.8,756.68 404.4,755.92 407,756.68 409.6,755.92 412.2,756.68 414.8,755.92 417.4,756.68 420,755.92 422.6,756.68 425.2,755.92 427.8,756.68 430.4,755.92 433,756.68 435.6,755.92 438.2,756.68 440.8,755.92 443.4,756.68 446,755.92 448.6,756.68 451.2,755.92 453.8,756.68 456.4,755.92 459,756.68 461.6,755.92 464.2,756.68 466.8,755.92 469.4,756.68 472,755.92 474.6,756.68 477.2,755.92 479.8,756.68 482.4,755.92 485,756.68 487.6,755.92" fill="none" stroke="#2a2a2a" stroke-width="1.15" stroke-linejoin="round"/>
<line x1="297.7" y1="745.5" x2="310.6" y2="767.5" stroke="#2a2a2a" stroke-width="1.1" />
<line x1="312" y1="747.4" x2="329.7" y2="765.4" stroke="#2a2a2a" stroke-width="1.1" />
<line x1="330.7" y1="750.1" x2="352.7" y2="762.7" stroke="#2a2a2a" stroke-width="1.1" />
<rect x="488.9" y="756.1" width="22.6" height="6.4" fill="#000" stroke="none" stroke-width="0.6" />
<rect x="530.5" y="756.1" width="42.2" height="6.4" fill="#000" stroke="none" stroke-width="0.6" />
<rect x="606" y="756.1" width="25.8" height="6.4" fill="#000" stroke="none" stroke-width="0.6" />
<rect x="631.8" y="757.1" width="56.2" height="4.4" fill="#fff" stroke="#555" stroke-width="0.5" />
<line x1="631.8" y1="759.3" x2="688" y2="759.3" stroke="#888" stroke-width="0.9" />
<rect x="688" y="756.1" width="10.2" height="6.4" fill="#000" stroke="none" stroke-width="0.6" />
<rect x="692" y="490.7" width="5" height="265.4" fill="#fff" stroke="#4a4a4a" stroke-width="0.8" />
<line x1="694.5" y1="490.7" x2="694.5" y2="756.1" stroke="#999" stroke-width="0.8" />
<rect x="691.5" y="551.3" width="6.3" height="7" fill="#000" stroke="none" stroke-width="0.6" />
<rect x="691.4" y="687.7" width="6.8" height="7.1" fill="#000" stroke="none" stroke-width="0.6" />
<rect x="148.2" y="552.3" width="73.8" height="6.3" fill="#000" stroke="none" stroke-width="0.6" />
<rect x="216.7" y="491.6" width="4.6" height="56.4" fill="#fff" stroke="#555" stroke-width="0.5" />
<line x1="219" y1="491.6" x2="219" y2="548" stroke="#888" stroke-width="0.9" />
<rect x="216" y="547.7" width="6.5" height="10.9" fill="#000" stroke="none" stroke-width="0.6" />
<rect x="216" y="481.7" width="6.5" height="9.9" fill="#000" stroke="none" stroke-width="0.6" />
<rect x="148.7" y="558.6" width="4.8" height="122.4" fill="#fff" stroke="#555" stroke-width="0.5" />
<line x1="151.1" y1="558.6" x2="151.1" y2="681" stroke="#888" stroke-width="0.9" />
<rect x="148.2" y="617" width="5.8" height="8" fill="#000" stroke="none" stroke-width="0.6" />
<rect x="148.2" y="688.9" width="103.2" height="4.2" fill="#000" stroke="none" stroke-width="0.6" />
<rect x="271" y="688.9" width="19.5" height="4.2" fill="#000" stroke="none" stroke-width="0.6" />
<rect x="148.2" y="680.4" width="6.3" height="12.7" fill="#000" stroke="none" stroke-width="0.6" />
<rect x="148.2" y="680" width="6.3" height="149.8" fill="#000" stroke="none" stroke-width="0.6" />
<rect x="148.2" y="823.7" width="142.3" height="6.1" fill="#000" stroke="none" stroke-width="0.6" />
<rect x="286.6" y="689" width="3.9" height="33" fill="#000" stroke="none" stroke-width="0.6" />
<rect x="286.6" y="741.6" width="3.9" height="32.4" fill="#000" stroke="none" stroke-width="0.6" />
<rect x="286.6" y="794" width="3.9" height="35.8" fill="#000" stroke="none" stroke-width="0.6" />
<rect x="284.6" y="829.8" width="5.1" height="10.8" fill="#000" stroke="none" stroke-width="0.6" />
<rect x="284.5" y="874.4" width="5.1" height="91.6" fill="#000" stroke="none" stroke-width="0.6" />
<line x1="285.6" y1="876" x2="285.6" y2="958" stroke="#fff" stroke-width="0.9" stroke-dasharray="1.6 3.2"/>
<rect x="284.5" y="960.1" width="10.2" height="6" fill="#000" stroke="none" stroke-width="0.6" />
<rect x="350.3" y="960.1" width="9.8" height="6" fill="#000" stroke="none" stroke-width="0.6" />
<rect x="416.3" y="960.1" width="9.3" height="6" fill="#000" stroke="none" stroke-width="0.6" />
<rect x="294.7" y="961.5" width="55.6" height="3.2" fill="#fff" stroke="#555" stroke-width="0.5" />
<line x1="294.7" y1="963.1" x2="350.3" y2="963.1" stroke="#888" stroke-width="0.9" />
<rect x="360.1" y="961.5" width="56.2" height="3.2" fill="#fff" stroke="#555" stroke-width="0.5" />
<line x1="360.1" y1="963.1" x2="416.3" y2="963.1" stroke="#888" stroke-width="0.9" />
<rect x="419.7" y="892.1" width="5.9" height="73.9" fill="#000" stroke="none" stroke-width="0.6" />
<rect x="419.5" y="892.2" width="11" height="7.4" fill="#000" stroke="none" stroke-width="0.6" />
<line x1="289.6" y1="892.1" x2="419.7" y2="892.1" stroke="#333" stroke-width="0.6" />
<rect x="430.5" y="893.6" width="55.8" height="3.2" fill="#fff" stroke="#555" stroke-width="0.5" />
<line x1="430.5" y1="895.2" x2="486.3" y2="895.2" stroke="#888" stroke-width="0.9" />
<rect x="488.9" y="756.2" width="8.5" height="49.3" fill="#000" stroke="none" stroke-width="0.6" />
<rect x="488.9" y="805.5" width="3.9" height="19.5" fill="#000" stroke="none" stroke-width="0.6" />
<rect x="488.9" y="858.2" width="3.9" height="34" fill="#000" stroke="none" stroke-width="0.6" />
<rect x="555.2" y="756.2" width="6.8" height="142" fill="#000" stroke="none" stroke-width="0.6" />
<rect x="492.8" y="805" width="62.4" height="4.4" fill="#000" stroke="none" stroke-width="0.6" />
<rect x="486.3" y="892.2" width="75.7" height="6" fill="#000" stroke="none" stroke-width="0.6" />
<rect x="694" y="1111.5" width="70.7" height="71.2" fill="#fff" stroke="none" stroke-width="0.6" />
<rect x="695.6" y="1113.1" width="67.5" height="68" fill="none" stroke="#000" stroke-width="3.2" />
<rect x="250.2" y="176.3" width="34.8" height="13.6" fill="#fff" stroke="#777" stroke-width="0.7" />
<rect x="260.4" y="161.1" width="11.4" height="11.8" fill="#fff" stroke="#666" stroke-width="0.9" rx="1.2" ry="1.2"/>
<rect x="261.6" y="162.3" width="9" height="9.4" fill="#fff" stroke="#999" stroke-width="0.4" rx="0.8" ry="0.8"/>
<rect x="260.4" y="192.6" width="11.4" height="11.8" fill="#fff" stroke="#666" stroke-width="0.9" rx="1.2" ry="1.2"/>
<rect x="261.6" y="193.8" width="9" height="9.4" fill="#fff" stroke="#999" stroke-width="0.4" rx="0.8" ry="0.8"/>
<rect x="222.1" y="227.3" width="20.25" height="13.2" fill="#fff" stroke="#222" stroke-width="0.55" />
<line x1="222.1" y1="227.3" x2="242.35" y2="240.5" stroke="#222" stroke-width="0.49500000000000005" />
<line x1="222.1" y1="240.5" x2="242.35" y2="227.3" stroke="#222" stroke-width="0.49500000000000005" />
<rect x="242.35" y="227.3" width="20.25" height="13.2" fill="#fff" stroke="#222" stroke-width="0.55" />
<line x1="242.35" y1="227.3" x2="262.6" y2="240.5" stroke="#222" stroke-width="0.49500000000000005" />
<line x1="242.35" y1="240.5" x2="262.6" y2="227.3" stroke="#222" stroke-width="0.49500000000000005" />
<line x1="282.8" y1="240.5" x2="282.8" y2="221" stroke="#222" stroke-width="0.6" />
<path d="M282.8,221 A19.5,19.5 0 0 0 263.3,240.5" fill="none" stroke="#222" stroke-width="0.6" />
<line x1="216.5" y1="271" x2="197.1" y2="271" stroke="#222" stroke-width="0.6" />
<path d="M197.1,271 A19.4,19.4 0 0 1 216.5,251.6" fill="none" stroke="#222" stroke-width="0.6" />
<line x1="252.7" y1="271.5" x2="233.7" y2="271.5" stroke="#222" stroke-width="0.6" />
<path d="M233.7,271.5 A19,19 0 0 1 252.7,252.5" fill="none" stroke="#222" stroke-width="0.6" />
<rect x="216.8" y="251.8" width="5.1" height="19" fill="#fff" stroke="#bbb" stroke-width="0.4" />
<line x1="328.4" y1="193.3" x2="328.4" y2="212.8" stroke="#222" stroke-width="0.6" />
<path d="M328.4,212.8 A19.5,19.5 0 0 1 308.9,193.3" fill="none" stroke="#222" stroke-width="0.6" />
<line x1="331" y1="240.5" x2="331" y2="221" stroke="#222" stroke-width="0.6" />
<path d="M331,221 A19.5,19.5 0 0 0 311.5,240.5" fill="none" stroke="#222" stroke-width="0.6" />
<rect x="289.3" y="193.3" width="15.3" height="47.2" fill="#fff" stroke="#222" stroke-width="0.55" />
<line x1="289.3" y1="193.3" x2="304.6" y2="240.5" stroke="#222" stroke-width="0.49500000000000005" />
<line x1="289.3" y1="240.5" x2="304.6" y2="193.3" stroke="#222" stroke-width="0.49500000000000005" />
<line x1="304.6" y1="193.3" x2="304.6" y2="240.5" stroke="#222" stroke-width="0.6" />
<rect x="336" y="150.7" width="12.5" height="89.8" fill="#fff" stroke="#888" stroke-width="0.6" />
<rect x="337.6" y="160.6" width="9.8" height="11.9" fill="#fff" stroke="#444" stroke-width="0.9" />
<circle cx="340.34" cy="163.93" r="1.67" fill="none" stroke="#444" stroke-width="0.5" />
<circle cx="344.66" cy="163.93" r="1.67" fill="none" stroke="#444" stroke-width="0.5" />
<circle cx="340.34" cy="169.17" r="1.67" fill="none" stroke="#444" stroke-width="0.5" />
<circle cx="344.66" cy="169.17" r="1.67" fill="none" stroke="#444" stroke-width="0.5" />
<rect x="346.2" y="161.5" width="1.4" height="5.5" fill="#333" stroke="none" stroke-width="0.6" />
<circle cx="342" cy="209.6" r="4.3" fill="none" stroke="#111" stroke-width="0.8" />
<line x1="337.5" y1="209.6" x2="342" y2="209.6" stroke="#111" stroke-width="0.8" />
<line x1="336" y1="227.3" x2="348.5" y2="227.3" stroke="#888" stroke-width="0.5" />
<text transform="translate(342.4,193) rotate(-90) scale(0.78,1)" font-size="3" text-anchor="middle" font-weight="normal" fill="#666" >ZL</text>
<text transform="translate(342.4,236) scale(0.78,1)" font-size="3" text-anchor="middle" font-weight="normal" fill="#777" >L</text>
<line x1="379.1" y1="240.5" x2="379.1" y2="221" stroke="#222" stroke-width="0.6" />
<path d="M379.1,221 A19.5,19.5 0 0 0 359.6,240.5" fill="none" stroke="#222" stroke-width="0.6" />
<rect x="382.5" y="221.8" width="36.1" height="18.7" fill="#fff" stroke="#666" stroke-width="0.7" />
<rect x="385.3" y="221.8" width="30.5" height="15.4" fill="#fff" stroke="#666" stroke-width="0.6" />
<line x1="400.5" y1="221.8" x2="400.5" y2="237.2" stroke="#666" stroke-width="0.6" />
<line x1="383.9" y1="221.8" x2="383.9" y2="240.5" stroke="#999" stroke-width="0.4" />
<line x1="417.2" y1="221.8" x2="417.2" y2="240.5" stroke="#999" stroke-width="0.4" />
<circle cx="398.7" cy="200.6" r="11.6" fill="#fff" stroke="#555" stroke-width="0.7" />
<g transform="translate(389.8,177.3) rotate(-30)">
<rect x="-5.6" y="-5" width="11.2" height="10" fill="#fff" stroke="#555" stroke-width="0.9" rx="0.8" ry="0.8"/>
<rect x="-4.2" y="-3.8" width="8.4" height="8.8" fill="#fff" stroke="#777" stroke-width="0.5" />
</g>
<g transform="translate(410.2,176.8) rotate(38)">
<rect x="-5.6" y="-5" width="11.2" height="10" fill="#fff" stroke="#555" stroke-width="0.9" rx="0.8" ry="0.8"/>
<rect x="-4.2" y="-3.8" width="8.4" height="8.8" fill="#fff" stroke="#777" stroke-width="0.5" />
</g>
<rect x="451.9" y="157.2" width="3.4" height="9.4" fill="#fff" stroke="#555" stroke-width="0.7" rx="0.5" ry="0.5"/>
<path d="M451.9,158 L445,158 Q440.3,158 440.3,161.9 Q440.3,165.8 445,165.8 L451.9,165.8 Z" fill="#fff" stroke="#555" stroke-width="0.8" />
<rect x="444.6" y="182.7" width="10.7" height="14.5" fill="#fff" stroke="#666" stroke-width="1.0" rx="3" ry="3"/>
<ellipse cx="450.4" cy="190" rx="3.6" ry="5.2" fill="none" stroke="#888" stroke-width="0.5" />
<line x1="452.6" y1="190" x2="455.3" y2="190" stroke="#222" stroke-width="0.8" />
<line x1="426.7" y1="176.8" x2="426.7" y2="195.8" stroke="#222" stroke-width="0.6" />
<path d="M426.7,195.8 A19,19 0 0 0 445.7,176.8" fill="none" stroke="#222" stroke-width="0.6" />
<line x1="427.5" y1="206.9" x2="427.5" y2="225.4" stroke="#222" stroke-width="0.6" />
<path d="M427.5,225.4 A18.5,18.5 0 0 0 446,206.9" fill="none" stroke="#222" stroke-width="0.6" />
<line x1="460" y1="206.9" x2="460" y2="225.9" stroke="#222" stroke-width="0.6" />
<path d="M460,225.9 A19,19 0 0 0 479,206.9" fill="none" stroke="#222" stroke-width="0.6" />
<rect x="458.7" y="150.7" width="19.1" height="19.8" fill="#fff" stroke="#555" stroke-width="0.8" />
<rect x="460" y="152" width="16.5" height="17.2" fill="#fff" stroke="#888" stroke-width="0.5" />
<circle cx="462" cy="154" r="0.6" fill="#333" stroke="none" stroke-width="0.6" />
<rect x="424.7" y="268.1" width="13.05" height="12.9" fill="#fff" stroke="#222" stroke-width="0.55" />
<line x1="424.7" y1="268.1" x2="437.75" y2="281" stroke="#222" stroke-width="0.49500000000000005" />
<line x1="424.7" y1="281" x2="437.75" y2="268.1" stroke="#222" stroke-width="0.49500000000000005" />
<rect x="437.75" y="268.1" width="13.05" height="12.9" fill="#fff" stroke="#222" stroke-width="0.55" />
<line x1="437.75" y1="268.1" x2="450.8" y2="281" stroke="#222" stroke-width="0.49500000000000005" />
<line x1="437.75" y1="281" x2="450.8" y2="268.1" stroke="#222" stroke-width="0.49500000000000005" />
<rect x="450.8" y="268.1" width="13.05" height="12.9" fill="#fff" stroke="#222" stroke-width="0.55" />
<line x1="450.8" y1="268.1" x2="463.85" y2="281" stroke="#222" stroke-width="0.49500000000000005" />
<line x1="450.8" y1="281" x2="463.85" y2="268.1" stroke="#222" stroke-width="0.49500000000000005" />
<rect x="463.85" y="268.1" width="13.05" height="12.9" fill="#fff" stroke="#222" stroke-width="0.55" />
<line x1="463.85" y1="268.1" x2="476.9" y2="281" stroke="#222" stroke-width="0.49500000000000005" />
<line x1="463.85" y1="281" x2="476.9" y2="268.1" stroke="#222" stroke-width="0.49500000000000005" />
<rect x="476.9" y="228.6" width="10.7" height="13.1" fill="#fff" stroke="#222" stroke-width="0.55" />
<line x1="476.9" y1="228.6" x2="487.6" y2="241.7" stroke="#222" stroke-width="0.49500000000000005" />
<line x1="476.9" y1="241.7" x2="487.6" y2="228.6" stroke="#222" stroke-width="0.49500000000000005" />
<rect x="476.9" y="241.7" width="10.7" height="13.1" fill="#fff" stroke="#222" stroke-width="0.55" />
<line x1="476.9" y1="241.7" x2="487.6" y2="254.8" stroke="#222" stroke-width="0.49500000000000005" />
<line x1="476.9" y1="254.8" x2="487.6" y2="241.7" stroke="#222" stroke-width="0.49500000000000005" />
<rect x="476.9" y="254.8" width="10.7" height="13.1" fill="#fff" stroke="#222" stroke-width="0.55" />
<line x1="476.9" y1="254.8" x2="487.6" y2="267.9" stroke="#222" stroke-width="0.49500000000000005" />
<line x1="476.9" y1="267.9" x2="487.6" y2="254.8" stroke="#222" stroke-width="0.49500000000000005" />
<rect x="476.9" y="267.9" width="10.7" height="13.1" fill="#fff" stroke="#222" stroke-width="0.55" />
<line x1="476.9" y1="267.9" x2="487.6" y2="281" stroke="#222" stroke-width="0.49500000000000005" />
<line x1="476.9" y1="281" x2="487.6" y2="267.9" stroke="#222" stroke-width="0.49500000000000005" />
<line x1="424.7" y1="247" x2="443.2" y2="247" stroke="#222" stroke-width="0.6" />
<path d="M443.2,247 A18.5,18.5 0 0 1 424.7,265.5" fill="none" stroke="#222" stroke-width="0.6" />
<line x1="379.1" y1="281" x2="379.1" y2="261.5" stroke="#222" stroke-width="0.6" />
<path d="M379.1,261.5 A19.5,19.5 0 0 0 359.6,281" fill="none" stroke="#222" stroke-width="0.6" />
<line x1="282.8" y1="285.9" x2="282.8" y2="305.4" stroke="#222" stroke-width="0.6" />
<path d="M282.8,305.4 A19.5,19.5 0 0 1 263.3,285.9" fill="none" stroke="#222" stroke-width="0.6" />
<rect x="222.1" y="286.2" width="24.2" height="15.73" fill="#fff" stroke="#222" stroke-width="0.55" />
<line x1="222.1" y1="286.2" x2="246.3" y2="301.93" stroke="#222" stroke-width="0.49500000000000005" />
<line x1="222.1" y1="301.93" x2="246.3" y2="286.2" stroke="#222" stroke-width="0.49500000000000005" />
<rect x="222.1" y="301.93" width="24.2" height="15.72" fill="#fff" stroke="#222" stroke-width="0.55" />
<line x1="222.1" y1="301.93" x2="246.3" y2="317.65" stroke="#222" stroke-width="0.49500000000000005" />
<line x1="222.1" y1="317.65" x2="246.3" y2="301.93" stroke="#222" stroke-width="0.49500000000000005" />
<rect x="222.1" y="317.65" width="24.2" height="15.73" fill="#fff" stroke="#222" stroke-width="0.55" />
<line x1="222.1" y1="317.65" x2="246.3" y2="333.38" stroke="#222" stroke-width="0.49500000000000005" />
<line x1="222.1" y1="333.38" x2="246.3" y2="317.65" stroke="#222" stroke-width="0.49500000000000005" />
<rect x="222.1" y="333.38" width="24.2" height="15.73" fill="#fff" stroke="#222" stroke-width="0.55" />
<line x1="222.1" y1="333.38" x2="246.3" y2="349.1" stroke="#222" stroke-width="0.49500000000000005" />
<line x1="222.1" y1="349.1" x2="246.3" y2="333.38" stroke="#222" stroke-width="0.49500000000000005" />
<rect x="284.5" y="286.2" width="28.6" height="16.1" fill="#fff" stroke="#222" stroke-width="0.55" />
<line x1="284.5" y1="286.2" x2="313.1" y2="302.3" stroke="#222" stroke-width="0.49500000000000005" />
<line x1="284.5" y1="302.3" x2="313.1" y2="286.2" stroke="#222" stroke-width="0.49500000000000005" />
<rect x="313.1" y="286.2" width="20.4" height="16.1" fill="#fff" stroke="#777" stroke-width="0.55" />
<rect x="333.5" y="286.2" width="19.8" height="16.1" fill="#fff" stroke="#777" stroke-width="0.55" />
<text transform="translate(323.3,296) scale(0.78,1)" font-size="3" text-anchor="middle" font-weight="normal" fill="#777" >L</text>
<text transform="translate(343.5,296) scale(0.78,1)" font-size="3" text-anchor="middle" font-weight="normal" fill="#777" >L</text>
<rect x="266.7" y="333.3" width="28.9" height="15.8" fill="#fff" stroke="#222" stroke-width="0.55" />
<line x1="266.7" y1="333.3" x2="295.6" y2="349.1" stroke="#222" stroke-width="0.49500000000000005" />
<line x1="266.7" y1="349.1" x2="295.6" y2="333.3" stroke="#222" stroke-width="0.49500000000000005" />
<rect x="295.6" y="333.3" width="28.9" height="15.8" fill="#fff" stroke="#222" stroke-width="0.55" />
<line x1="295.6" y1="333.3" x2="324.5" y2="349.1" stroke="#222" stroke-width="0.49500000000000005" />
<line x1="295.6" y1="349.1" x2="324.5" y2="333.3" stroke="#222" stroke-width="0.49500000000000005" />
<line x1="356.9" y1="346.9" x2="376.9" y2="346.9" stroke="#222" stroke-width="0.6" />
<path d="M376.9,346.9 A20,20 0 0 0 356.9,326.9" fill="none" stroke="#222" stroke-width="0.6" />
<rect x="222.1" y="353.3" width="24.2" height="16.18" fill="#fff" stroke="#222" stroke-width="0.55" />
<line x1="222.1" y1="353.3" x2="246.3" y2="369.48" stroke="#222" stroke-width="0.49500000000000005" />
<line x1="222.1" y1="369.48" x2="246.3" y2="353.3" stroke="#222" stroke-width="0.49500000000000005" />
<rect x="222.1" y="369.48" width="24.2" height="16.17" fill="#fff" stroke="#222" stroke-width="0.55" />
<line x1="222.1" y1="369.48" x2="246.3" y2="385.65" stroke="#222" stroke-width="0.49500000000000005" />
<line x1="222.1" y1="385.65" x2="246.3" y2="369.48" stroke="#222" stroke-width="0.49500000000000005" />
<rect x="222.1" y="385.65" width="24.2" height="16.18" fill="#fff" stroke="#222" stroke-width="0.55" />
<line x1="222.1" y1="385.65" x2="246.3" y2="401.82" stroke="#222" stroke-width="0.49500000000000005" />
<line x1="222.1" y1="401.82" x2="246.3" y2="385.65" stroke="#222" stroke-width="0.49500000000000005" />
<rect x="222.1" y="401.82" width="24.2" height="16.18" fill="#fff" stroke="#222" stroke-width="0.55" />
<line x1="222.1" y1="401.82" x2="246.3" y2="418" stroke="#222" stroke-width="0.49500000000000005" />
<line x1="222.1" y1="418" x2="246.3" y2="401.82" stroke="#222" stroke-width="0.49500000000000005" />
<rect x="266.7" y="353.3" width="55.4" height="13.3" fill="#fff" stroke="#666" stroke-width="0.55" />
<rect x="285" y="354.5" width="18.4" height="10.2" fill="#fff" stroke="#666" stroke-width="1.0" />
<rect x="286.3" y="355.8" width="7.1" height="7.6" fill="#fff" stroke="#666" stroke-width="0.5" />
<rect x="295" y="355.8" width="7.1" height="7.6" fill="#fff" stroke="#666" stroke-width="0.5" />
<line x1="294.2" y1="354" x2="294.2" y2="357" stroke="#222" stroke-width="0.8" />
<rect x="268.4" y="404.4" width="84.9" height="13.6" fill="#fff" stroke="#666" stroke-width="0.55" />
<rect x="285.9" y="406.1" width="17.8" height="10.5" fill="#fff" stroke="#666" stroke-width="1.0" />
<rect x="287.2" y="407.4" width="6.8" height="7.9" fill="#fff" stroke="#666" stroke-width="0.5" />
<rect x="295.6" y="407.4" width="6.8" height="7.9" fill="#fff" stroke="#666" stroke-width="0.5" />
<line x1="294.8" y1="405.6" x2="294.8" y2="408.6" stroke="#222" stroke-width="0.8" />
<rect x="331.8" y="406.1" width="18.7" height="10.5" fill="#fff" stroke="#666" stroke-width="1.0" />
<rect x="333.1" y="407.4" width="7.25" height="7.9" fill="#fff" stroke="#666" stroke-width="0.5" />
<rect x="341.95" y="407.4" width="7.25" height="7.9" fill="#fff" stroke="#666" stroke-width="0.5" />
<line x1="341.15" y1="405.6" x2="341.15" y2="408.6" stroke="#222" stroke-width="0.8" />
<line x1="345.4" y1="353.3" x2="345.4" y2="372.3" stroke="#222" stroke-width="0.6" />
<path d="M345.4,372.3 A19,19 0 0 1 326.4,353.3" fill="none" stroke="#222" stroke-width="0.6" />
<line x1="356.9" y1="399.3" x2="376.9" y2="399.3" stroke="#222" stroke-width="0.6" />
<path d="M376.9,399.3 A20,20 0 0 0 356.9,379.3" fill="none" stroke="#222" stroke-width="0.6" />
<rect x="223" y="422.1" width="13.6" height="10.2" fill="#fff" stroke="#666" stroke-width="0.6" />
<text transform="translate(229.8,429.5) rotate(-90) scale(0.78,1)" font-size="3" text-anchor="middle" font-weight="normal" fill="#555" >ZO</text>
<rect x="236.6" y="423" width="3.9" height="11" fill="#fff" stroke="#333" stroke-width="0.6" />
<rect x="223" y="433.5" width="13.6" height="22.5" fill="#fff" stroke="#888" stroke-width="0.5" />
<rect x="224.7" y="434.9" width="11.3" height="7.6" fill="#fff" stroke="#555" stroke-width="0.9" rx="0.8" ry="0.8"/>
<rect x="226" y="436.1" width="8.7" height="5.2" fill="#fff" stroke="#888" stroke-width="0.4" rx="0.6" ry="0.6"/>
<rect x="224.7" y="445.9" width="11.3" height="8.9" fill="#fff" stroke="#555" stroke-width="0.9" rx="0.8" ry="0.8"/>
<rect x="226" y="447.1" width="8.7" height="6.5" fill="#fff" stroke="#888" stroke-width="0.4" rx="0.6" ry="0.6"/>
<line x1="216.5" y1="481.3" x2="197.5" y2="481.3" stroke="#222" stroke-width="0.6" />
<path d="M197.5,481.3 A19,19 0 0 1 216.5,462.3" fill="none" stroke="#222" stroke-width="0.6" />
<path d="M268,440.9 A19.5,19.5 0 0 1 248.5,421.4" fill="none" stroke="#222" stroke-width="0.6" />
<line x1="268" y1="481.3" x2="249" y2="481.3" stroke="#222" stroke-width="0.6" />
<path d="M249,481.3 A19,19 0 0 1 268,462.3" fill="none" stroke="#222" stroke-width="0.6" />
<rect x="272.3" y="421.3" width="81" height="12.7" fill="#fff" stroke="#666" stroke-width="0.55" />
<rect x="282.1" y="423" width="17.9" height="9.3" fill="#fff" stroke="#666" stroke-width="1.0" />
<rect x="283.4" y="424.3" width="6.85" height="6.7" fill="#fff" stroke="#666" stroke-width="0.5" />
<rect x="291.85" y="424.3" width="6.85" height="6.7" fill="#fff" stroke="#666" stroke-width="0.5" />
<line x1="291.05" y1="422.5" x2="291.05" y2="425.5" stroke="#222" stroke-width="0.8" />
<line x1="312.6" y1="421.3" x2="312.6" y2="434" stroke="#666" stroke-width="0.5" />
<line x1="333" y1="421.3" x2="333" y2="434" stroke="#666" stroke-width="0.5" />
<text transform="translate(322.8,429) scale(1,1)" font-size="2.8" text-anchor="middle" font-weight="normal" fill="#444" >ZM</text>
<text transform="translate(343.2,429) scale(1,1)" font-size="2.8" text-anchor="middle" font-weight="normal" fill="#444" >ZM</text>
<rect x="296.1" y="474" width="56.9" height="13.6" fill="#fff" stroke="#777" stroke-width="0.55" />
<line x1="324.5" y1="474" x2="324.5" y2="487.6" stroke="#777" stroke-width="0.5" />
<rect x="331.8" y="476.2" width="17.9" height="9.7" fill="#fff" stroke="#666" stroke-width="1.0" />
<rect x="333.1" y="477.5" width="6.85" height="7.1" fill="#fff" stroke="#666" stroke-width="0.5" />
<rect x="341.55" y="477.5" width="6.85" height="7.1" fill="#fff" stroke="#666" stroke-width="0.5" />
<line x1="340.75" y1="475.7" x2="340.75" y2="478.7" stroke="#222" stroke-width="0.8" />
<line x1="356.9" y1="459.3" x2="376.4" y2="459.3" stroke="#222" stroke-width="0.6" />
<path d="M376.4,459.3 A19.5,19.5 0 0 0 356.9,439.8" fill="none" stroke="#222" stroke-width="0.6" />
<rect x="394.8" y="286.2" width="92.3" height="12.7" fill="#fff" stroke="#666" stroke-width="0.55" />
<rect x="426.7" y="287" width="17.4" height="10.2" fill="#fff" stroke="#666" stroke-width="1.0" />
<rect x="428" y="288.3" width="6.6" height="7.6" fill="#fff" stroke="#666" stroke-width="0.5" />
<rect x="436.2" y="288.3" width="6.6" height="7.6" fill="#fff" stroke="#666" stroke-width="0.5" />
<line x1="435.4" y1="286.5" x2="435.4" y2="289.5" stroke="#222" stroke-width="0.8" />
<line x1="448.8" y1="286.2" x2="448.8" y2="298.9" stroke="#666" stroke-width="0.5" />
<line x1="467.9" y1="286.2" x2="467.9" y2="298.9" stroke="#666" stroke-width="0.5" />
<rect x="408.4" y="331.2" width="38.2" height="64.3" fill="#fff" stroke="#666" stroke-width="0.6" />
<rect x="432.7" y="348.6" width="11" height="12.9" fill="#fff" stroke="#444" stroke-width="0.9" />
<circle cx="435.78" cy="352.21" r="1.87" fill="none" stroke="#444" stroke-width="0.5" />
<circle cx="440.62" cy="352.21" r="1.87" fill="none" stroke="#444" stroke-width="0.5" />
<circle cx="435.78" cy="357.89" r="1.87" fill="none" stroke="#444" stroke-width="0.5" />
<circle cx="440.62" cy="357.89" r="1.87" fill="none" stroke="#444" stroke-width="0.5" />
<rect x="432.7" y="363.5" width="11" height="13.3" fill="#fff" stroke="#444" stroke-width="0.9" />
<circle cx="435.78" cy="367.22" r="1.87" fill="none" stroke="#444" stroke-width="0.5" />
<circle cx="440.62" cy="367.22" r="1.87" fill="none" stroke="#444" stroke-width="0.5" />
<circle cx="435.78" cy="373.08" r="1.87" fill="none" stroke="#444" stroke-width="0.5" />
<circle cx="440.62" cy="373.08" r="1.87" fill="none" stroke="#444" stroke-width="0.5" />
<path d="M474.9,349 L474.9,423 L432.7,423 L432.7,437" fill="none" stroke="#666" stroke-width="0.55" />
<line x1="474.9" y1="349" x2="487.6" y2="349" stroke="#666" stroke-width="0.55" />
<rect x="476.9" y="373.7" width="9.7" height="17.4" fill="#fff" stroke="#666" stroke-width="1.0" />
<rect x="478.2" y="375" width="7.1" height="6.6" fill="#fff" stroke="#666" stroke-width="0.5" />
<rect x="478.2" y="383.2" width="7.1" height="6.6" fill="#fff" stroke="#666" stroke-width="0.5" />
<line x1="485.6" y1="382.4" x2="487.6" y2="382.4" stroke="#222" stroke-width="0.7" />
<rect x="456.5" y="425.9" width="13.6" height="9" fill="#fff" stroke="#666" stroke-width="0.8" rx="0.8" ry="0.8"/>
<rect x="358.4" y="477.4" width="74.3" height="5.9" fill="#fff" stroke="#555" stroke-width="0.55" />
<rect x="470.6" y="440.8" width="14" height="42.9" fill="#fff" stroke="#777" stroke-width="0.55" />
<circle cx="477.4" cy="447.6" r="1.8" fill="none" stroke="#222" stroke-width="0.8" />
<circle cx="477.4" cy="447.6" r="0.6" fill="#222" stroke="none" stroke-width="0.6" />
<rect x="473" y="454.1" width="9.9" height="13.1" fill="#fff" stroke="#777" stroke-width="0.6" />
<text transform="translate(478,462) rotate(-90) scale(0.78,1)" font-size="2.6" text-anchor="middle" font-weight="normal" fill="#555" >ZK</text>
<rect x="522.5" y="374.2" width="25.5" height="95.6" fill="#fff" stroke="#555" stroke-width="0.6" />
<line x1="528.5" y1="374.2" x2="528.5" y2="469.8" stroke="#555" stroke-width="0.55" />
<line x1="535.3" y1="374.2" x2="535.3" y2="469.8" stroke="#555" stroke-width="0.55" />
<line x1="542.1" y1="374.2" x2="542.1" y2="469.8" stroke="#555" stroke-width="0.55" />
<line x1="528.5" y1="380.5" x2="542.1" y2="380.5" stroke="#999" stroke-width="0.45" />
<line x1="528.5" y1="386.8" x2="542.1" y2="386.8" stroke="#999" stroke-width="0.45" />
<line x1="528.5" y1="393.1" x2="542.1" y2="393.1" stroke="#999" stroke-width="0.45" />
<line x1="528.5" y1="399.4" x2="542.1" y2="399.4" stroke="#999" stroke-width="0.45" />
<line x1="528.5" y1="405.7" x2="542.1" y2="405.7" stroke="#999" stroke-width="0.45" />
<line x1="528.5" y1="412" x2="542.1" y2="412" stroke="#999" stroke-width="0.45" />
<line x1="528.5" y1="418.3" x2="542.1" y2="418.3" stroke="#999" stroke-width="0.45" />
<line x1="528.5" y1="424.6" x2="542.1" y2="424.6" stroke="#999" stroke-width="0.45" />
<line x1="528.5" y1="430.9" x2="542.1" y2="430.9" stroke="#999" stroke-width="0.45" />
<line x1="528.5" y1="437.2" x2="542.1" y2="437.2" stroke="#999" stroke-width="0.45" />
<line x1="528.5" y1="443.5" x2="542.1" y2="443.5" stroke="#999" stroke-width="0.45" />
<line x1="528.5" y1="449.8" x2="542.1" y2="449.8" stroke="#999" stroke-width="0.45" />
<line x1="528.5" y1="456.1" x2="542.1" y2="456.1" stroke="#999" stroke-width="0.45" />
<line x1="528.5" y1="462.4" x2="542.1" y2="462.4" stroke="#999" stroke-width="0.45" />
<line x1="528.5" y1="468.7" x2="542.1" y2="468.7" stroke="#999" stroke-width="0.45" />
<rect x="567.6" y="374.2" width="25" height="95.6" fill="#fff" stroke="#555" stroke-width="0.6" />
<line x1="573.2" y1="374.2" x2="573.2" y2="469.8" stroke="#555" stroke-width="0.55" />
<line x1="580" y1="374.2" x2="580" y2="469.8" stroke="#555" stroke-width="0.55" />
<line x1="586.8" y1="374.2" x2="586.8" y2="469.8" stroke="#555" stroke-width="0.55" />
<line x1="573.2" y1="380.5" x2="586.8" y2="380.5" stroke="#999" stroke-width="0.45" />
<line x1="573.2" y1="386.8" x2="586.8" y2="386.8" stroke="#999" stroke-width="0.45" />
<line x1="573.2" y1="393.1" x2="586.8" y2="393.1" stroke="#999" stroke-width="0.45" />
<line x1="573.2" y1="399.4" x2="586.8" y2="399.4" stroke="#999" stroke-width="0.45" />
<line x1="573.2" y1="405.7" x2="586.8" y2="405.7" stroke="#999" stroke-width="0.45" />
<line x1="573.2" y1="412" x2="586.8" y2="412" stroke="#999" stroke-width="0.45" />
<line x1="573.2" y1="418.3" x2="586.8" y2="418.3" stroke="#999" stroke-width="0.45" />
<line x1="573.2" y1="424.6" x2="586.8" y2="424.6" stroke="#999" stroke-width="0.45" />
<line x1="573.2" y1="430.9" x2="586.8" y2="430.9" stroke="#999" stroke-width="0.45" />
<line x1="573.2" y1="437.2" x2="586.8" y2="437.2" stroke="#999" stroke-width="0.45" />
<line x1="573.2" y1="443.5" x2="586.8" y2="443.5" stroke="#999" stroke-width="0.45" />
<line x1="573.2" y1="449.8" x2="586.8" y2="449.8" stroke="#999" stroke-width="0.45" />
<line x1="573.2" y1="456.1" x2="586.8" y2="456.1" stroke="#999" stroke-width="0.45" />
<line x1="573.2" y1="462.4" x2="586.8" y2="462.4" stroke="#999" stroke-width="0.45" />
<line x1="573.2" y1="468.7" x2="586.8" y2="468.7" stroke="#999" stroke-width="0.45" />
<rect x="491.6" y="354.7" width="11.9" height="115.1" fill="#fff" stroke="#777" stroke-width="0.5" />
<line x1="497.5" y1="354.7" x2="497.5" y2="469.8" stroke="#777" stroke-width="0.5" />
<line x1="491.6" y1="361" x2="497.5" y2="361" stroke="#aaa" stroke-width="0.45" />
<line x1="491.6" y1="367.3" x2="497.5" y2="367.3" stroke="#aaa" stroke-width="0.45" />
<line x1="491.6" y1="373.6" x2="497.5" y2="373.6" stroke="#aaa" stroke-width="0.45" />
<line x1="491.6" y1="379.9" x2="497.5" y2="379.9" stroke="#aaa" stroke-width="0.45" />
<line x1="491.6" y1="386.2" x2="497.5" y2="386.2" stroke="#aaa" stroke-width="0.45" />
<line x1="491.6" y1="392.5" x2="497.5" y2="392.5" stroke="#aaa" stroke-width="0.45" />
<line x1="491.6" y1="398.8" x2="497.5" y2="398.8" stroke="#aaa" stroke-width="0.45" />
<line x1="491.6" y1="405.1" x2="497.5" y2="405.1" stroke="#aaa" stroke-width="0.45" />
<line x1="491.6" y1="411.4" x2="497.5" y2="411.4" stroke="#aaa" stroke-width="0.45" />
<line x1="491.6" y1="417.7" x2="497.5" y2="417.7" stroke="#aaa" stroke-width="0.45" />
<line x1="491.6" y1="424" x2="497.5" y2="424" stroke="#aaa" stroke-width="0.45" />
<line x1="491.6" y1="430.3" x2="497.5" y2="430.3" stroke="#aaa" stroke-width="0.45" />
<line x1="491.6" y1="436.6" x2="497.5" y2="436.6" stroke="#aaa" stroke-width="0.45" />
<line x1="491.6" y1="442.9" x2="497.5" y2="442.9" stroke="#aaa" stroke-width="0.45" />
<line x1="491.6" y1="449.2" x2="497.5" y2="449.2" stroke="#aaa" stroke-width="0.45" />
<line x1="491.6" y1="455.5" x2="497.5" y2="455.5" stroke="#aaa" stroke-width="0.45" />
<line x1="491.6" y1="461.8" x2="497.5" y2="461.8" stroke="#aaa" stroke-width="0.45" />
<line x1="491.6" y1="468.1" x2="497.5" y2="468.1" stroke="#aaa" stroke-width="0.45" />
<rect x="611.5" y="416.4" width="11.5" height="53.4" fill="#fff" stroke="#777" stroke-width="0.5" />
<line x1="617.4" y1="416.4" x2="617.4" y2="469.8" stroke="#777" stroke-width="0.5" />
<line x1="617.4" y1="422.7" x2="623" y2="422.7" stroke="#aaa" stroke-width="0.45" />
<line x1="617.4" y1="429" x2="623" y2="429" stroke="#aaa" stroke-width="0.45" />
<line x1="617.4" y1="435.3" x2="623" y2="435.3" stroke="#aaa" stroke-width="0.45" />
<line x1="617.4" y1="441.6" x2="623" y2="441.6" stroke="#aaa" stroke-width="0.45" />
<line x1="617.4" y1="447.9" x2="623" y2="447.9" stroke="#aaa" stroke-width="0.45" />
<line x1="617.4" y1="454.2" x2="623" y2="454.2" stroke="#aaa" stroke-width="0.45" />
<line x1="617.4" y1="460.5" x2="623" y2="460.5" stroke="#aaa" stroke-width="0.45" />
<line x1="617.4" y1="466.8" x2="623" y2="466.8" stroke="#aaa" stroke-width="0.45" />
<line x1="644.2" y1="348.6" x2="644.2" y2="332" stroke="#222" stroke-width="0.6" />
<path d="M644.2,332 A16.6,16.6 0 0 1 660.8,348.6" fill="none" stroke="#222" stroke-width="0.6" />
<line x1="677.4" y1="348.6" x2="677.4" y2="332" stroke="#222" stroke-width="0.6" />
<path d="M677.4,332 A16.6,16.6 0 0 0 660.8,348.6" fill="none" stroke="#222" stroke-width="0.6" />
<line x1="627.2" y1="366.3" x2="643.8" y2="366.3" stroke="#222" stroke-width="0.6" />
<path d="M643.8,366.3 A16.6,16.6 0 0 1 627.2,382.9" fill="none" stroke="#222" stroke-width="0.6" />
<line x1="627.2" y1="399.6" x2="643.8" y2="399.6" stroke="#222" stroke-width="0.6" />
<path d="M643.8,399.6 A16.6,16.6 0 0 0 627.2,383" fill="none" stroke="#222" stroke-width="0.6" />
<line x1="644.2" y1="349.5" x2="677.4" y2="349.5" stroke="#777" stroke-width="0.7" stroke-dasharray="4.8 4.2"/>
<line x1="644.2" y1="353.8" x2="677.4" y2="353.8" stroke="#777" stroke-width="0.7" stroke-dasharray="4.8 4.2"/>
<path d="M676.83,408.18 Q677.51,413.06 674.54,414.85 Q671.35,413.46 671.52,407.21 Q669.31,412.16 666.03,412 Q664.26,409.24 666.79,404.86 Q662.07,407.57 659.4,405.46 Q659.58,402.06 663.36,400.12 Q658.72,399.53 657.7,396.14 Q659.88,393.35 665.36,396.16 Q659.57,392.92 660.14,389.32 Q663.4,387.69 668.02,391.35 Q665.3,385.54 667.93,382.81 Q671.68,383.36 673.34,390.64 Q674.31,383.8 677.9,383.04 Q680.59,385.52 678.25,391.46 Q682.38,386.88 685.76,388.17 Q686.65,391.67 681.15,393.67 Q687.03,390.88 689.77,393.49 Q689.23,397.24 683.35,400.28 Q689.08,402.1 689.36,405.89 Q686.43,408.31 680.98,405.91 Q683.56,409.67 681.74,412.65 Q678.26,412.89 676.83,408.18 Z" fill="#fff" stroke="#111" stroke-width="0.75" />
<ellipse cx="671.19" cy="406.54" rx="3.2" ry="1.6" transform="rotate(107.27 671.19 406.54)" fill="#fff" stroke="#222" stroke-width="0.5"/>
<ellipse cx="668.39" cy="399.35" rx="3.2" ry="1.6" transform="rotate(177.23 668.39 399.35)" fill="#fff" stroke="#222" stroke-width="0.5"/>
<ellipse cx="669.3" cy="395.55" rx="3.2" ry="1.6" transform="rotate(220.2 669.3 395.55)" fill="#fff" stroke="#222" stroke-width="0.5"/>
<ellipse cx="676.52" cy="393.69" rx="3.2" ry="1.6" transform="rotate(299.21 676.52 393.69)" fill="#fff" stroke="#222" stroke-width="0.5"/>
<ellipse cx="679.2" cy="398.24" rx="3.2" ry="1.6" transform="rotate(351.44 679.2 398.24)" fill="#fff" stroke="#222" stroke-width="0.5"/>
<ellipse cx="677.48" cy="403.63" rx="3.2" ry="1.6" transform="rotate(408.71 677.48 403.63)" fill="#fff" stroke="#222" stroke-width="0.5"/>
<path d="M651.41,446.98 Q647.31,443.12 648.68,439.38 Q652.52,438.34 656.97,444.71 Q654.51,436.96 657.74,434.51 Q661.62,435.73 661.4,442.33 Q662.93,435.78 666.97,435.19 Q669.78,438.15 667.49,445.24 Q671.4,442.4 674.43,444.19 Q674.73,447.69 670.16,448.42 Q675.79,447.07 678.02,450.16 Q676.78,453.76 670.37,453.48 Q675.72,454.99 676.11,458.56 Q673.43,460.94 666.84,459.75 Q670.64,466.08 668.15,469.16 Q664.2,468.91 662.52,462.88 Q662.18,467.42 658.86,468.63 Q655.95,466.62 658.18,463.27 Q656.32,466.35 652.89,466.14 Q651.07,463.21 652.55,460.13 Q649.02,461.85 646.17,459.67 Q646.29,456.09 649.77,452.67 Q645.74,451.57 645.06,448 Q647.58,445.38 651.41,446.98 Z" fill="#fff" stroke="#111" stroke-width="0.75" />
<ellipse cx="658.12" cy="445.84" rx="3.4" ry="1.7" transform="rotate(247.95 658.12 445.84)" fill="#fff" stroke="#222" stroke-width="0.5"/>
<ellipse cx="665.09" cy="445.53" rx="3.4" ry="1.7" transform="rotate(300.28 665.09 445.53)" fill="#fff" stroke="#222" stroke-width="0.5"/>
<ellipse cx="669.12" cy="454.36" rx="3.4" ry="1.7" transform="rotate(371.42 669.12 454.36)" fill="#fff" stroke="#222" stroke-width="0.5"/>
<ellipse cx="662.37" cy="458.64" rx="3.4" ry="1.7" transform="rotate(436.07 662.37 458.64)" fill="#fff" stroke="#222" stroke-width="0.5"/>
<ellipse cx="657.74" cy="457.4" rx="3.4" ry="1.7" transform="rotate(483.87 657.74 457.4)" fill="#fff" stroke="#222" stroke-width="0.5"/>
<ellipse cx="655.58" cy="452.8" rx="3.4" ry="1.7" transform="rotate(538.93 655.58 452.8)" fill="#fff" stroke="#222" stroke-width="0.5"/>
<rect x="358.6" y="520.8" width="13.6" height="122.6" fill="#fff" stroke="#444" stroke-width="0.6" />
<circle cx="364.7" cy="541.6" r="4.3" fill="#fff" stroke="#000" stroke-width="1.0" />
<line x1="364.7" y1="541.6" x2="358.2" y2="541.6" stroke="#000" stroke-width="0.8" />
<circle cx="364.7" cy="568.8" r="4.3" fill="#fff" stroke="#000" stroke-width="1.0" />
<line x1="364.7" y1="568.8" x2="358.2" y2="568.8" stroke="#000" stroke-width="0.8" />
<circle cx="364.7" cy="595.6" r="4.3" fill="#fff" stroke="#000" stroke-width="1.0" />
<line x1="364.7" y1="595.6" x2="358.2" y2="595.6" stroke="#000" stroke-width="0.8" />
<circle cx="364.7" cy="623.2" r="4.3" fill="#fff" stroke="#000" stroke-width="1.0" />
<line x1="364.7" y1="623.2" x2="358.2" y2="623.2" stroke="#000" stroke-width="0.8" />
<rect x="473.6" y="520.8" width="14.1" height="122.6" fill="#fff" stroke="#444" stroke-width="0.6" />
<circle cx="480.65" cy="541.6" r="4.3" fill="#fff" stroke="#000" stroke-width="1.0" />
<line x1="480.65" y1="541.6" x2="487.15" y2="541.6" stroke="#000" stroke-width="0.8" />
<circle cx="480.65" cy="568.8" r="4.3" fill="#fff" stroke="#000" stroke-width="1.0" />
<line x1="480.65" y1="568.8" x2="487.15" y2="568.8" stroke="#000" stroke-width="0.8" />
<circle cx="480.65" cy="596" r="4.3" fill="#fff" stroke="#000" stroke-width="1.0" />
<line x1="480.65" y1="596" x2="487.15" y2="596" stroke="#000" stroke-width="0.8" />
<circle cx="480.65" cy="623.2" r="4.3" fill="#fff" stroke="#000" stroke-width="1.0" />
<line x1="480.65" y1="623.2" x2="487.15" y2="623.2" stroke="#000" stroke-width="0.8" />
<rect x="409.6" y="520.8" width="28.9" height="122.6" fill="#fff" stroke="#444" stroke-width="0.6" rx="2.2" ry="2.2"/>
<line x1="423.7" y1="520.8" x2="423.7" y2="643.4" stroke="#444" stroke-width="0.55" />
<line x1="409.6" y1="551.6" x2="438.5" y2="551.6" stroke="#444" stroke-width="0.55" />
<line x1="409.6" y1="582" x2="438.5" y2="582" stroke="#444" stroke-width="0.55" />
<line x1="409.6" y1="612.7" x2="438.5" y2="612.7" stroke="#444" stroke-width="0.55" />
<rect x="358.6" y="674" width="129.1" height="14.4" fill="#fff" stroke="#444" stroke-width="0.6" />
<circle cx="382.9" cy="681.3" r="4.3" fill="#fff" stroke="#000" stroke-width="1.0" />
<line x1="382.9" y1="681.3" x2="382.9" y2="688" stroke="#000" stroke-width="0.8" />
<circle cx="410.1" cy="681.3" r="4.3" fill="#fff" stroke="#000" stroke-width="1.0" />
<line x1="410.1" y1="681.3" x2="410.1" y2="688" stroke="#000" stroke-width="0.8" />
<circle cx="437" cy="681.3" r="4.3" fill="#fff" stroke="#000" stroke-width="1.0" />
<line x1="437" y1="681.3" x2="437" y2="688" stroke="#000" stroke-width="0.8" />
<circle cx="464.6" cy="681.3" r="4.3" fill="#fff" stroke="#000" stroke-width="1.0" />
<line x1="464.6" y1="681.3" x2="464.6" y2="688" stroke="#000" stroke-width="0.8" />
<line x1="358.6" y1="686.3" x2="487.7" y2="686.3" stroke="#888" stroke-width="0.5" />
<rect x="351.1" y="551.4" width="7.1" height="7.7" fill="#000" stroke="none" stroke-width="0.6" />
<rect x="351.1" y="622" width="7.1" height="7.7" fill="#000" stroke="none" stroke-width="0.6" />
<rect x="351.1" y="687.6" width="7.5" height="7.3" fill="#000" stroke="none" stroke-width="0.6" />
<rect x="487.7" y="551.8" width="7.1" height="7.8" fill="#000" stroke="none" stroke-width="0.6" />
<rect x="487.7" y="622" width="7.1" height="7.7" fill="#000" stroke="none" stroke-width="0.6" />
<rect x="487.2" y="687.6" width="7.3" height="7.3" fill="#000" stroke="none" stroke-width="0.6" />
<rect x="329" y="559.8" width="18.6" height="18.6" fill="#fff" stroke="#333" stroke-width="0.7" rx="1.6" ry="1.6"/>
<circle cx="338.3" cy="569.1" r="3" fill="none" stroke="#333" stroke-width="0.7" />
<circle cx="333.52" cy="554.05" r="3" fill="none" stroke="#333" stroke-width="0.7" />
<circle cx="343.05" cy="553.97" r="3" fill="none" stroke="#333" stroke-width="0.7" />
<circle cx="333.74" cy="583.67" r="3" fill="none" stroke="#333" stroke-width="0.7" />
<circle cx="342.46" cy="583.81" r="3" fill="none" stroke="#333" stroke-width="0.7" />
<circle cx="323.54" cy="564.53" r="3" fill="none" stroke="#333" stroke-width="0.7" />
<circle cx="323.57" cy="573.29" r="3" fill="none" stroke="#333" stroke-width="0.7" />
<circle cx="352.52" cy="564.93" r="3" fill="none" stroke="#333" stroke-width="0.7" />
<circle cx="352.22" cy="573.42" r="3" fill="none" stroke="#333" stroke-width="0.7" />
<rect x="329" y="599.2" width="18.6" height="18.6" fill="#fff" stroke="#333" stroke-width="0.7" rx="1.6" ry="1.6"/>
<circle cx="338.3" cy="608.5" r="3" fill="none" stroke="#333" stroke-width="0.7" />
<circle cx="333.83" cy="594.25" r="3" fill="none" stroke="#333" stroke-width="0.7" />
<circle cx="342.98" cy="593.7" r="3" fill="none" stroke="#333" stroke-width="0.7" />
<circle cx="334.18" cy="622.75" r="3" fill="none" stroke="#333" stroke-width="0.7" />
<circle cx="343.26" cy="622.99" r="3" fill="none" stroke="#333" stroke-width="0.7" />
<circle cx="323.64" cy="603.62" r="3" fill="none" stroke="#333" stroke-width="0.7" />
<circle cx="323.81" cy="613.42" r="3" fill="none" stroke="#333" stroke-width="0.7" />
<circle cx="352.28" cy="604.08" r="3" fill="none" stroke="#333" stroke-width="0.7" />
<circle cx="352.74" cy="612.97" r="3" fill="none" stroke="#333" stroke-width="0.7" />
<rect x="513.9" y="526.5" width="18.6" height="18.6" fill="#fff" stroke="#333" stroke-width="0.7" rx="1.6" ry="1.6"/>
<circle cx="523.2" cy="535.8" r="3" fill="none" stroke="#333" stroke-width="0.7" />
<circle cx="518.65" cy="520.66" r="3" fill="none" stroke="#333" stroke-width="0.7" />
<circle cx="527.36" cy="520.81" r="3" fill="none" stroke="#333" stroke-width="0.7" />
<circle cx="518.78" cy="550.43" r="3" fill="none" stroke="#333" stroke-width="0.7" />
<circle cx="527.61" cy="550.59" r="3" fill="none" stroke="#333" stroke-width="0.7" />
<circle cx="508.85" cy="531.1" r="3" fill="none" stroke="#333" stroke-width="0.7" />
<circle cx="509.19" cy="540.6" r="3" fill="none" stroke="#333" stroke-width="0.7" />
<circle cx="537.24" cy="531.37" r="3" fill="none" stroke="#333" stroke-width="0.7" />
<circle cx="537.53" cy="540.78" r="3" fill="none" stroke="#333" stroke-width="0.7" />
<rect x="513.9" y="569" width="18.6" height="18.6" fill="#fff" stroke="#333" stroke-width="0.7" rx="1.6" ry="1.6"/>
<circle cx="523.2" cy="578.3" r="3" fill="none" stroke="#333" stroke-width="0.7" />
<circle cx="518.83" cy="563.39" r="3" fill="none" stroke="#333" stroke-width="0.7" />
<circle cx="528.28" cy="563.22" r="3" fill="none" stroke="#333" stroke-width="0.7" />
<circle cx="518.52" cy="593.26" r="3" fill="none" stroke="#333" stroke-width="0.7" />
<circle cx="527.45" cy="592.99" r="3" fill="none" stroke="#333" stroke-width="0.7" />
<circle cx="508.44" cy="573.97" r="3" fill="none" stroke="#333" stroke-width="0.7" />
<circle cx="509.16" cy="582.97" r="3" fill="none" stroke="#333" stroke-width="0.7" />
<circle cx="537.88" cy="573.61" r="3" fill="none" stroke="#333" stroke-width="0.7" />
<circle cx="537.7" cy="582.99" r="3" fill="none" stroke="#333" stroke-width="0.7" />
<rect x="513.9" y="615.3" width="18.6" height="18.6" fill="#fff" stroke="#333" stroke-width="0.7" rx="1.6" ry="1.6"/>
<circle cx="523.2" cy="624.6" r="3" fill="none" stroke="#333" stroke-width="0.7" />
<circle cx="518.68" cy="609.86" r="3" fill="none" stroke="#333" stroke-width="0.7" />
<circle cx="528.14" cy="610.34" r="3" fill="none" stroke="#333" stroke-width="0.7" />
<circle cx="518.57" cy="639.46" r="3" fill="none" stroke="#333" stroke-width="0.7" />
<circle cx="527.36" cy="639.5" r="3" fill="none" stroke="#333" stroke-width="0.7" />
<circle cx="509.05" cy="620.59" r="3" fill="none" stroke="#333" stroke-width="0.7" />
<circle cx="509.22" cy="628.98" r="3" fill="none" stroke="#333" stroke-width="0.7" />
<circle cx="537.39" cy="620.27" r="3" fill="none" stroke="#333" stroke-width="0.7" />
<circle cx="537.02" cy="629.16" r="3" fill="none" stroke="#333" stroke-width="0.7" />
<rect x="513.9" y="675.7" width="18.6" height="18.6" fill="#fff" stroke="#333" stroke-width="0.7" rx="1.6" ry="1.6"/>
<circle cx="523.2" cy="685" r="3" fill="none" stroke="#333" stroke-width="0.7" />
<circle cx="518.27" cy="669.92" r="3" fill="none" stroke="#333" stroke-width="0.7" />
<circle cx="527.36" cy="670.57" r="3" fill="none" stroke="#333" stroke-width="0.7" />
<circle cx="518.23" cy="699.45" r="3" fill="none" stroke="#333" stroke-width="0.7" />
<circle cx="527.69" cy="700.07" r="3" fill="none" stroke="#333" stroke-width="0.7" />
<circle cx="508.48" cy="680.45" r="3" fill="none" stroke="#333" stroke-width="0.7" />
<circle cx="508.95" cy="689.98" r="3" fill="none" stroke="#333" stroke-width="0.7" />
<circle cx="537.82" cy="680.86" r="3" fill="none" stroke="#333" stroke-width="0.7" />
<circle cx="537.28" cy="689.52" r="3" fill="none" stroke="#333" stroke-width="0.7" />
<rect x="350.7" y="708.5" width="18.6" height="18.6" fill="#fff" stroke="#333" stroke-width="0.7" rx="1.6" ry="1.6"/>
<circle cx="360" cy="717.8" r="3" fill="none" stroke="#333" stroke-width="0.7" />
<circle cx="355.26" cy="703.48" r="3" fill="none" stroke="#333" stroke-width="0.7" />
<circle cx="365.06" cy="702.75" r="3" fill="none" stroke="#333" stroke-width="0.7" />
<circle cx="355.08" cy="732.23" r="3" fill="none" stroke="#333" stroke-width="0.7" />
<circle cx="364.33" cy="732.48" r="3" fill="none" stroke="#333" stroke-width="0.7" />
<circle cx="345.79" cy="713.06" r="3" fill="none" stroke="#333" stroke-width="0.7" />
<circle cx="345.2" cy="722.32" r="3" fill="none" stroke="#333" stroke-width="0.7" />
<circle cx="374.17" cy="713.37" r="3" fill="none" stroke="#333" stroke-width="0.7" />
<circle cx="374.75" cy="722.59" r="3" fill="none" stroke="#333" stroke-width="0.7" />
<rect x="393.5" y="708.5" width="18.6" height="18.6" fill="#fff" stroke="#333" stroke-width="0.7" rx="1.6" ry="1.6"/>
<circle cx="402.8" cy="717.8" r="3" fill="none" stroke="#333" stroke-width="0.7" />
<circle cx="398.22" cy="703.22" r="3" fill="none" stroke="#333" stroke-width="0.7" />
<circle cx="407.58" cy="702.65" r="3" fill="none" stroke="#333" stroke-width="0.7" />
<circle cx="398.6" cy="732.78" r="3" fill="none" stroke="#333" stroke-width="0.7" />
<circle cx="407.77" cy="732.8" r="3" fill="none" stroke="#333" stroke-width="0.7" />
<circle cx="388.39" cy="713.2" r="3" fill="none" stroke="#333" stroke-width="0.7" />
<circle cx="388.1" cy="722.53" r="3" fill="none" stroke="#333" stroke-width="0.7" />
<circle cx="416.66" cy="712.87" r="3" fill="none" stroke="#333" stroke-width="0.7" />
<circle cx="416.81" cy="722.06" r="3" fill="none" stroke="#333" stroke-width="0.7" />
<rect x="436" y="708.5" width="18.6" height="18.6" fill="#fff" stroke="#333" stroke-width="0.7" rx="1.6" ry="1.6"/>
<circle cx="445.3" cy="717.8" r="3" fill="none" stroke="#333" stroke-width="0.7" />
<circle cx="440.54" cy="702.65" r="3" fill="none" stroke="#333" stroke-width="0.7" />
<circle cx="449.4" cy="702.75" r="3" fill="none" stroke="#333" stroke-width="0.7" />
<circle cx="440.3" cy="732.36" r="3" fill="none" stroke="#333" stroke-width="0.7" />
<circle cx="449.43" cy="732.87" r="3" fill="none" stroke="#333" stroke-width="0.7" />
<circle cx="431.11" cy="712.95" r="3" fill="none" stroke="#333" stroke-width="0.7" />
<circle cx="430.75" cy="722.25" r="3" fill="none" stroke="#333" stroke-width="0.7" />
<circle cx="459.46" cy="712.92" r="3" fill="none" stroke="#333" stroke-width="0.7" />
<circle cx="459.95" cy="722.89" r="3" fill="none" stroke="#333" stroke-width="0.7" />
<rect x="478.2" y="708.5" width="18.6" height="18.6" fill="#fff" stroke="#333" stroke-width="0.7" rx="1.6" ry="1.6"/>
<circle cx="487.5" cy="717.8" r="3" fill="none" stroke="#333" stroke-width="0.7" />
<circle cx="482.87" cy="703.08" r="3" fill="none" stroke="#333" stroke-width="0.7" />
<circle cx="491.69" cy="702.7" r="3" fill="none" stroke="#333" stroke-width="0.7" />
<circle cx="482.74" cy="732.26" r="3" fill="none" stroke="#333" stroke-width="0.7" />
<circle cx="492.43" cy="732.16" r="3" fill="none" stroke="#333" stroke-width="0.7" />
<circle cx="472.72" cy="713.75" r="3" fill="none" stroke="#333" stroke-width="0.7" />
<circle cx="473.23" cy="722.05" r="3" fill="none" stroke="#333" stroke-width="0.7" />
<circle cx="501.84" cy="712.83" r="3" fill="none" stroke="#333" stroke-width="0.7" />
<circle cx="501.83" cy="722.88" r="3" fill="none" stroke="#333" stroke-width="0.7" />
<rect x="587.6" y="508.1" width="34.8" height="9.3" fill="#fff" stroke="#444" stroke-width="0.55" />
<line x1="587.6" y1="508.1" x2="622.4" y2="517.4" stroke="#444" stroke-width="0.49500000000000005" />
<line x1="587.6" y1="517.4" x2="622.4" y2="508.1" stroke="#444" stroke-width="0.49500000000000005" />
<rect x="582.1" y="527.6" width="8.9" height="34.9" fill="#fff" stroke="#444" stroke-width="0.55" />
<line x1="582.1" y1="527.6" x2="591" y2="562.5" stroke="#444" stroke-width="0.49500000000000005" />
<line x1="582.1" y1="562.5" x2="591" y2="527.6" stroke="#444" stroke-width="0.49500000000000005" />
<rect x="570.2" y="598.7" width="9.4" height="33.5" fill="#fff" stroke="#444" stroke-width="0.55" />
<line x1="570.2" y1="598.7" x2="579.6" y2="632.2" stroke="#444" stroke-width="0.49500000000000005" />
<line x1="570.2" y1="632.2" x2="579.6" y2="598.7" stroke="#444" stroke-width="0.49500000000000005" />
<rect x="576.2" y="679.2" width="8.9" height="34" fill="#fff" stroke="#444" stroke-width="0.55" />
<line x1="576.2" y1="679.2" x2="585.1" y2="713.2" stroke="#444" stroke-width="0.49500000000000005" />
<line x1="576.2" y1="713.2" x2="585.1" y2="679.2" stroke="#444" stroke-width="0.49500000000000005" />
<rect x="570.4" y="632.5" width="34.2" height="8.8" fill="#fff" stroke="#444" stroke-width="0.6" />
<text transform="translate(587.5,639.3) scale(1.1,1)" font-size="4.2" text-anchor="middle" font-weight="bold" fill="#222" >CXXE</text>
<circle cx="613.1" cy="534.4" r="6" fill="#fff" stroke="#333" stroke-width="0.6" />
<circle cx="588.8" cy="598.5" r="6" fill="#fff" stroke="#333" stroke-width="0.6" />
<circle cx="604.6" cy="601.9" r="6.3" fill="#fff" stroke="#333" stroke-width="0.6" />
<circle cx="602" cy="619.1" r="6.8" fill="#fff" stroke="#333" stroke-width="0.6" />
<circle cx="599.9" cy="679.5" r="6" fill="#fff" stroke="#333" stroke-width="0.6" />
<circle cx="609.7" cy="693.1" r="6.5" fill="#fff" stroke="#333" stroke-width="0.6" />
<ellipse cx="602" cy="553.1" rx="6" ry="6.8" fill="none" stroke="#333" stroke-width="0.6" />
<circle cx="609.7" cy="520.8" r="1.3" fill="none" stroke="#333" stroke-width="0.5" />
<circle cx="614.8" cy="520.8" r="1.3" fill="none" stroke="#333" stroke-width="0.5" />
<circle cx="612.2" cy="523.9" r="1.3" fill="none" stroke="#333" stroke-width="0.5" />
<circle cx="593.2" cy="534.4" r="1.3" fill="none" stroke="#333" stroke-width="0.5" />
<circle cx="598.3" cy="533" r="1.3" fill="none" stroke="#333" stroke-width="0.5" />
<circle cx="595.2" cy="538.7" r="1.3" fill="none" stroke="#333" stroke-width="0.5" />
<circle cx="599.5" cy="536.1" r="1.3" fill="none" stroke="#333" stroke-width="0.5" />
<circle cx="593.2" cy="543.8" r="1.3" fill="none" stroke="#333" stroke-width="0.5" />
<circle cx="598.3" cy="545.5" r="1.3" fill="none" stroke="#333" stroke-width="0.5" />
<circle cx="595.77" cy="700.27" r="0.5" fill="#333" stroke="none" stroke-width="0.6" />
<circle cx="590.35" cy="697.3" r="0.5" fill="#333" stroke="none" stroke-width="0.6" />
<circle cx="589.5" cy="700.95" r="0.5" fill="#333" stroke="none" stroke-width="0.6" />
<circle cx="592.79" cy="701.01" r="0.5" fill="#333" stroke="none" stroke-width="0.6" />
<circle cx="590.97" cy="696.01" r="0.5" fill="#333" stroke="none" stroke-width="0.6" />
<circle cx="595.3" cy="702.86" r="0.5" fill="#333" stroke="none" stroke-width="0.6" />
<circle cx="595.67" cy="701.25" r="0.5" fill="#333" stroke="none" stroke-width="0.6" />
<circle cx="595.36" cy="700.66" r="0.5" fill="#333" stroke="none" stroke-width="0.6" />
<circle cx="590.04" cy="698.66" r="0.5" fill="#333" stroke="none" stroke-width="0.6" />
<circle cx="591.2" cy="694.26" r="0.5" fill="#333" stroke="none" stroke-width="0.6" />
<circle cx="588.25" cy="696.51" r="0.5" fill="#333" stroke="none" stroke-width="0.6" />
<circle cx="590.33" cy="700.23" r="0.5" fill="#333" stroke="none" stroke-width="0.6" />
<circle cx="596.61" cy="698.03" r="0.5" fill="#333" stroke="none" stroke-width="0.6" />
<circle cx="596.43" cy="702.89" r="0.5" fill="#333" stroke="none" stroke-width="0.6" />
<line x1="529.7" y1="756.1" x2="529.7" y2="737.9" stroke="#222" stroke-width="0.6" />
<path d="M529.7,737.9 A18.2,18.2 0 0 0 511.5,756.1" fill="none" stroke="#222" stroke-width="0.6" />
<line x1="289.9" y1="741.5" x2="308.4" y2="741.5" stroke="#222" stroke-width="0.6" />
<path d="M308.4,741.5 A18.5,18.5 0 0 0 289.9,723" fill="none" stroke="#222" stroke-width="0.6" />
<line x1="289.9" y1="774.9" x2="308.4" y2="774.9" stroke="#222" stroke-width="0.6" />
<path d="M308.4,774.9 A18.5,18.5 0 0 1 289.9,793.4" fill="none" stroke="#222" stroke-width="0.6" />
<circle cx="656.1" cy="536.3" r="11.6" fill="#fff" stroke="#333" stroke-width="0.6" />
<circle cx="674.3" cy="552.5" r="8.2" fill="#fff" stroke="#333" stroke-width="0.6" />
<circle cx="645.6" cy="560.1" r="8.2" fill="#fff" stroke="#333" stroke-width="0.6" />
<circle cx="665" cy="611.2" r="8.5" fill="#fff" stroke="#333" stroke-width="0.6" />
<circle cx="647.1" cy="636.2" r="11.6" fill="#fff" stroke="#333" stroke-width="0.6" />
<circle cx="658.5" cy="656.2" r="8.2" fill="#fff" stroke="#333" stroke-width="0.6" />
<circle cx="643.2" cy="701.6" r="8.2" fill="#fff" stroke="#333" stroke-width="0.6" />
<circle cx="664.5" cy="720.7" r="11.6" fill="#fff" stroke="#333" stroke-width="0.6" />
<path d="M634.71,507.17 Q630.1,509.18 627.99,506.88 Q628.52,503.81 633.95,503.1 Q629.23,502.14 628.85,499.22 Q630.94,497.14 634.45,498.65 Q631.95,495.65 633.38,493.05 Q636.31,492.59 638.02,497.31 Q637.12,492.98 639.52,491.55 Q642.13,492.56 642.97,497.39 Q645.83,492.97 648.73,493.74 Q649.89,496.51 646.94,499.69 Q651.52,498.27 653.4,500.79 Q652.56,503.81 646.76,503.46 Q650.89,504.45 651.17,507.16 Q649.19,509.03 645.73,507.16 Q648.18,510.03 646.88,512.37 Q644.24,512.77 642.99,509.76 Q643.36,513.01 641.04,514.29 Q638.6,513.24 638.31,509.97 Q635.98,514.13 632.95,513.61 Q631.51,510.89 634.71,507.17 Z" fill="#fff" stroke="#111" stroke-width="0.75" />
<ellipse cx="635.76" cy="502.46" rx="2.4" ry="1.2" transform="rotate(188.91 635.76 502.46)" fill="#fff" stroke="#222" stroke-width="0.5"/>
<ellipse cx="638.85" cy="498.8" rx="2.4" ry="1.2" transform="rotate(249.42 638.85 498.8)" fill="#fff" stroke="#222" stroke-width="0.5"/>
<ellipse cx="643.55" cy="498.04" rx="2.4" ry="1.2" transform="rotate(300.61 643.55 498.04)" fill="#fff" stroke="#222" stroke-width="0.5"/>
<ellipse cx="645.87" cy="504.85" rx="2.4" ry="1.2" transform="rotate(377.05 645.87 504.85)" fill="#fff" stroke="#222" stroke-width="0.5"/>
<ellipse cx="641.96" cy="507.31" rx="2.4" ry="1.2" transform="rotate(430.46 641.96 507.31)" fill="#fff" stroke="#222" stroke-width="0.5"/>
<ellipse cx="638.39" cy="506.94" rx="2.4" ry="1.2" transform="rotate(479.5 638.39 506.94)" fill="#fff" stroke="#222" stroke-width="0.5"/>
<path d="M660.85,502.77 Q656.99,503.79 655.7,501.82 Q656.47,499.58 660.2,500.41 Q656.93,499.62 656.69,497.39 Q658.31,495.83 661.74,496.27 Q660.07,493.26 661.63,491.47 Q664,491.6 664.75,495.52 Q664.88,491.54 667.14,490.87 Q669.06,492.24 668.19,495.07 Q669.7,493.45 671.76,494.11 Q672.49,496.13 669.71,497.83 Q673.67,496.1 675.28,497.92 Q674.82,500.31 670.87,501.68 Q673.75,502.94 673.62,505.16 Q671.79,506.43 668.76,504.42 Q670.25,507.13 668.86,508.7 Q666.77,508.57 665.81,505.65 Q665.35,509.44 663.1,509.91 Q661.35,508.41 662.69,504.85 Q659.64,508.11 657.4,507.05 Q656.87,504.63 660.85,502.77 Z" fill="#fff" stroke="#111" stroke-width="0.75" />
<ellipse cx="662.46" cy="499.96" rx="1.9" ry="0.95" transform="rotate(191.92 662.46 499.96)" fill="#fff" stroke="#222" stroke-width="0.5"/>
<ellipse cx="664.08" cy="496.83" rx="1.9" ry="0.95" transform="rotate(249.38 664.08 496.83)" fill="#fff" stroke="#222" stroke-width="0.5"/>
<ellipse cx="667.95" cy="497.22" rx="1.9" ry="0.95" transform="rotate(305.97 667.95 497.22)" fill="#fff" stroke="#222" stroke-width="0.5"/>
<ellipse cx="668.67" cy="500.79" rx="1.9" ry="0.95" transform="rotate(363.39 668.67 500.79)" fill="#fff" stroke="#222" stroke-width="0.5"/>
<ellipse cx="666.07" cy="504.17" rx="1.9" ry="0.95" transform="rotate(440.91 666.07 504.17)" fill="#fff" stroke="#222" stroke-width="0.5"/>
<ellipse cx="662.84" cy="503.57" rx="1.9" ry="0.95" transform="rotate(491.82 662.84 503.57)" fill="#fff" stroke="#222" stroke-width="0.5"/>
<path d="M682.48,503.54 Q682.46,506 680.52,506.68 Q678.75,505.63 679.99,502.74 Q678.61,504.97 676.77,504.51 Q675.94,502.81 677.82,500.95 Q674.75,502.03 673.54,500.35 Q674.06,498.34 677.21,497.91 Q675.03,496.79 675.31,494.92 Q676.93,493.94 678.52,495.31 Q677.3,492.69 678.85,491.25 Q680.95,491.52 681.05,494.85 Q681.48,492.21 683.37,491.93 Q684.8,493.2 684.84,495.74 Q687.2,494.51 688.73,495.94 Q688.6,498.04 686.19,498.7 Q688.57,499.24 688.83,501.3 Q687.42,502.83 685.12,501.8 Q686.24,503.38 685.22,504.99 Q683.33,505.25 682.48,503.54 Z" fill="#fff" stroke="#111" stroke-width="0.75" />
<ellipse cx="679.83" cy="501.95" rx="1.5" ry="0.75" transform="rotate(115.81 679.83 501.95)" fill="#fff" stroke="#222" stroke-width="0.5"/>
<ellipse cx="678.45" cy="498.42" rx="1.5" ry="0.75" transform="rotate(189.58 678.45 498.42)" fill="#fff" stroke="#222" stroke-width="0.5"/>
<ellipse cx="680.65" cy="496.08" rx="1.5" ry="0.75" transform="rotate(257 680.65 496.08)" fill="#fff" stroke="#222" stroke-width="0.5"/>
<ellipse cx="683.35" cy="497.61" rx="1.5" ry="0.75" transform="rotate(327.85 683.35 497.61)" fill="#fff" stroke="#222" stroke-width="0.5"/>
<ellipse cx="683.45" cy="501.6" rx="1.5" ry="0.75" transform="rotate(411.44 683.45 501.6)" fill="#fff" stroke="#222" stroke-width="0.5"/>
<path d="M652.86,584.88 Q656.76,587.89 655.88,591.44 Q652.48,592.77 649.58,588.31 Q651.4,592.25 649.19,594.83 Q645.8,594.52 643.45,590.35 Q642.45,594.81 639.08,595.48 Q636.59,593.13 639.26,588.02 Q634.92,593.6 631.37,592.45 Q630.25,588.89 635.57,585.17 Q629.17,587.67 626.63,584.82 Q627.48,581.11 633.67,580.09 Q627.83,578.72 627.27,575.02 Q629.97,572.42 635.23,575.07 Q631.53,571.32 632.91,568.01 Q636.42,567.22 639.98,572.61 Q638.34,566.09 641.36,564.03 Q644.78,565.29 645.17,571.9 Q647.13,567.25 650.43,567.29 Q652.3,570 651.84,574.19 Q655.69,572.6 658.28,574.95 Q657.86,578.42 653.47,578.45 Q658.43,578.55 659.81,581.9 Q657.88,584.97 652.86,584.88 Z" fill="#fff" stroke="#111" stroke-width="0.75" />
<ellipse cx="645.53" cy="585.2" rx="3.2" ry="1.6" transform="rotate(65.64 645.53 585.2)" fill="#fff" stroke="#222" stroke-width="0.5"/>
<ellipse cx="639.64" cy="586.2" rx="3.2" ry="1.6" transform="rotate(123.4 639.64 586.2)" fill="#fff" stroke="#222" stroke-width="0.5"/>
<ellipse cx="638.32" cy="581.03" rx="3.2" ry="1.6" transform="rotate(174.05 638.32 581.03)" fill="#fff" stroke="#222" stroke-width="0.5"/>
<ellipse cx="641.19" cy="574.45" rx="3.2" ry="1.6" transform="rotate(249.95 641.19 574.45)" fill="#fff" stroke="#222" stroke-width="0.5"/>
<ellipse cx="645.98" cy="574.81" rx="3.2" ry="1.6" transform="rotate(294.34 645.98 574.81)" fill="#fff" stroke="#222" stroke-width="0.5"/>
<ellipse cx="650.73" cy="579.85" rx="3.2" ry="1.6" transform="rotate(354.9 650.73 579.85)" fill="#fff" stroke="#222" stroke-width="0.5"/>
<path d="M675.27,628.85 Q679.86,626.49 682.01,628.6 Q681.66,631.6 677.65,634.4 Q679.87,635.69 679.69,638.34 Q677.49,639.81 675.82,638.28 Q677.99,641.66 676.19,644.16 Q673.11,644.27 672.18,639.93 Q672.31,643.4 669.74,644.56 Q667.26,643.25 667.8,639.01 Q665.62,642.5 662.91,641.91 Q661.71,639.41 663.27,636.1 Q659.02,637.11 657.29,634.55 Q658.26,631.61 663,632.61 Q658.17,631.54 657.81,628.45 Q660.04,626.27 664.6,628.56 Q661.89,625.38 663.31,622.88 Q666.16,622.46 667.93,626.31 Q667.38,621.86 670,620.54 Q672.64,621.81 673.11,626.12 Q675.88,622.28 678.88,623.14 Q680.03,626.05 675.27,628.85 Z" fill="#fff" stroke="#111" stroke-width="0.75" />
<ellipse cx="675.72" cy="633.59" rx="2.4" ry="1.2" transform="rotate(368.05 675.72 633.59)" fill="#fff" stroke="#222" stroke-width="0.5"/>
<ellipse cx="670.8" cy="637.53" rx="2.4" ry="1.2" transform="rotate(441.58 670.8 637.53)" fill="#fff" stroke="#222" stroke-width="0.5"/>
<ellipse cx="667.29" cy="635.12" rx="2.4" ry="1.2" transform="rotate(500.43 667.29 635.12)" fill="#fff" stroke="#222" stroke-width="0.5"/>
<ellipse cx="666.09" cy="632.66" rx="2.4" ry="1.2" transform="rotate(541.99 666.09 632.66)" fill="#fff" stroke="#222" stroke-width="0.5"/>
<ellipse cx="669.21" cy="627.62" rx="2.4" ry="1.2" transform="rotate(620.27 669.21 627.62)" fill="#fff" stroke="#222" stroke-width="0.5"/>
<ellipse cx="673.15" cy="629.78" rx="2.4" ry="1.2" transform="rotate(675.25 673.15 629.78)" fill="#fff" stroke="#222" stroke-width="0.5"/>
<path d="M653.14,688.95 Q650.36,692.97 647.26,692.28 Q646.03,689.36 649.88,685.8 Q644.59,688.27 642.22,685.96 Q642.73,682.69 648.35,681.05 Q644.25,680.1 643.74,677.2 Q645.81,675.11 648.63,676.73 Q646.01,674.2 646.98,671.34 Q649.87,670.47 652.05,672.83 Q650.76,668.25 653.4,666.12 Q656.66,667.03 657.13,672.04 Q658.52,666.92 661.94,666.5 Q664.27,669.05 662.21,674.95 Q665.45,672.7 667.97,674.24 Q668.17,677.19 664.21,679.07 Q669.23,678.64 670.61,681.43 Q669.14,684.16 665.41,683.24 Q668.83,684.97 668.72,688.05 Q666.15,689.75 662.63,687.58 Q665,691.42 663.16,694.02 Q659.98,694.02 656.88,688.82 Q656.22,694.17 653.2,694.91 Q650.85,692.88 653.14,688.95 Z" fill="#fff" stroke="#111" stroke-width="0.75" />
<ellipse cx="650" cy="683.08" rx="2.9" ry="1.45" transform="rotate(163.86 650 683.08)" fill="#fff" stroke="#222" stroke-width="0.5"/>
<ellipse cx="651.98" cy="677.46" rx="2.9" ry="1.45" transform="rotate(219.65 651.98 677.46)" fill="#fff" stroke="#222" stroke-width="0.5"/>
<ellipse cx="656.24" cy="676.41" rx="2.9" ry="1.45" transform="rotate(266.92 656.24 676.41)" fill="#fff" stroke="#222" stroke-width="0.5"/>
<ellipse cx="661.35" cy="678.23" rx="2.9" ry="1.45" transform="rotate(328.51 661.35 678.23)" fill="#fff" stroke="#222" stroke-width="0.5"/>
<ellipse cx="662.37" cy="683.7" rx="2.9" ry="1.45" transform="rotate(383.05 662.37 683.7)" fill="#fff" stroke="#222" stroke-width="0.5"/>
<ellipse cx="655.87" cy="685.54" rx="2.9" ry="1.45" transform="rotate(458.22 655.87 685.54)" fill="#fff" stroke="#222" stroke-width="0.5"/>
<path d="M638,747.7 Q633.96,747.47 633.38,744.95 Q634.94,742.89 638.3,744.12 Q636.03,741.85 637.13,739.63 Q639.54,739.05 640.61,742.42 Q640.06,739.93 641.91,738.75 Q643.99,739.41 644.92,742.05 Q646.53,739.83 648.72,740.46 Q649.64,742.55 647.83,743.66 Q650.71,742.6 652.34,744.55 Q651.88,747.05 647.73,747.54 Q651.92,748.81 651.86,751.41 Q649.82,753.03 645.99,750.84 Q647.84,754.49 645.98,756.23 Q643.45,755.91 642.93,752.88 Q642.17,755.41 639.76,755.6 Q638.08,753.87 639.78,751.81 Q637.72,753.56 635.61,752.4 Q635.15,750.04 638,747.7 Z" fill="#fff" stroke="#111" stroke-width="0.75" />
<ellipse cx="640.3" cy="745.18" rx="1.8" ry="0.9" transform="rotate(213.92 640.3 745.18)" fill="#fff" stroke="#222" stroke-width="0.5"/>
<ellipse cx="643.24" cy="742.62" rx="1.8" ry="0.9" transform="rotate(273.15 643.24 742.62)" fill="#fff" stroke="#222" stroke-width="0.5"/>
<ellipse cx="647.47" cy="746.54" rx="1.8" ry="0.9" transform="rotate(354.14 647.47 746.54)" fill="#fff" stroke="#222" stroke-width="0.5"/>
<ellipse cx="645.17" cy="750.55" rx="1.8" ry="0.9" transform="rotate(418.52 645.17 750.55)" fill="#fff" stroke="#222" stroke-width="0.5"/>
<ellipse cx="639.39" cy="749.44" rx="1.8" ry="0.9" transform="rotate(505.92 639.39 749.44)" fill="#fff" stroke="#222" stroke-width="0.5"/>
<path d="M663.52,749.33 Q665.22,752.29 663.57,754.1 Q661.13,753.99 660.48,751.06 Q659.99,754.32 657.51,754.75 Q655.58,753.13 657,749.84 Q654.6,752.01 652.5,750.82 Q652.07,748.44 654.29,746.73 Q651.52,746.56 650.79,744.23 Q652.12,742.18 654.59,742.48 Q652.22,740.22 653.32,737.77 Q655.9,737.04 657.18,740.3 Q656.65,737.78 658.66,736.45 Q660.96,737.14 661.64,739.89 Q663.03,737.71 665.37,738.17 Q666.52,740.27 664.54,742.91 Q668.5,741.6 670.03,743.8 Q669.31,746.37 666.23,745.77 Q667.98,746.54 668.09,748.84 Q666.39,750.4 663.52,749.33 Z" fill="#fff" stroke="#111" stroke-width="0.75" />
<ellipse cx="660.61" cy="749.69" rx="1.9" ry="0.95" transform="rotate(81.73 660.61 749.69)" fill="#fff" stroke="#222" stroke-width="0.5"/>
<ellipse cx="656.24" cy="746.79" rx="1.9" ry="0.95" transform="rotate(161.01 656.24 746.79)" fill="#fff" stroke="#222" stroke-width="0.5"/>
<ellipse cx="657.33" cy="741.98" rx="1.9" ry="0.95" transform="rotate(232.75 657.33 741.98)" fill="#fff" stroke="#222" stroke-width="0.5"/>
<ellipse cx="662.03" cy="742.74" rx="1.9" ry="0.95" transform="rotate(306.43 662.03 742.74)" fill="#fff" stroke="#222" stroke-width="0.5"/>
<ellipse cx="663.73" cy="745.98" rx="1.9" ry="0.95" transform="rotate(367.31 663.73 745.98)" fill="#fff" stroke="#222" stroke-width="0.5"/>
<polyline points="694.5,521.5 701.5,523.8 685.6,547.1 694.5,550.1" fill="none" stroke="#222" stroke-width="0.65" />
<polyline points="694.5,558.5 705.5,565.8 681,581.4 694.5,592.6 705.5,598.4 682.1,615.9 694.5,622.9 705.5,631 682.1,648.5 689.1,653.2" fill="none" stroke="#222" stroke-width="0.65" />
<line x1="679.8" y1="710.3" x2="707.8" y2="710.3" stroke="#222" stroke-width="0.65" />
<path d="M694.5,696.7 A13.3,13.6 0 0 1 707.8,710.3" fill="none" stroke="#222" stroke-width="0.65" />
<path d="M679.8,710.3 A14.7,14.9 0 0 0 694.5,725.2" fill="none" stroke="#222" stroke-width="0.65" />
<line x1="679.8" y1="740.6" x2="707.8" y2="740.6" stroke="#222" stroke-width="0.65" />
<path d="M694.5,727 A13.3,13.6 0 0 1 707.8,740.6" fill="none" stroke="#222" stroke-width="0.65" />
<path d="M679.8,740.6 A14.7,14.9 0 0 0 694.5,755.5" fill="none" stroke="#222" stroke-width="0.65" />
<rect x="154" y="558.6" width="33.65" height="8.1" fill="#fff" stroke="#222" stroke-width="0.55" />
<line x1="154" y1="558.6" x2="187.65" y2="566.7" stroke="#222" stroke-width="0.49500000000000005" />
<line x1="154" y1="566.7" x2="187.65" y2="558.6" stroke="#222" stroke-width="0.49500000000000005" />
<rect x="187.65" y="558.6" width="33.65" height="8.1" fill="#fff" stroke="#222" stroke-width="0.55" />
<line x1="187.65" y1="558.6" x2="221.3" y2="566.7" stroke="#222" stroke-width="0.49500000000000005" />
<line x1="187.65" y1="566.7" x2="221.3" y2="558.6" stroke="#222" stroke-width="0.49500000000000005" />
<polygon points="222.1,504.7 236.1,512.2 236.1,551.4 222.1,544.1" fill="#fff" stroke="#444" stroke-width="0.6" />
<line x1="222.1" y1="533.05" x2="236.1" y2="525.55" stroke="#999" stroke-width="0.5" />
<polygon points="154,575.6 167.2,583.1 167.2,623.2 154,615.9" fill="#fff" stroke="#444" stroke-width="0.6" />
<line x1="154" y1="604.4" x2="167.2" y2="596.9" stroke="#999" stroke-width="0.5" />
<g transform="translate(242,517.6) rotate(0)">
<rect x="-3.6" y="-3.6" width="7.2" height="7.2" fill="#fff" stroke="#444" stroke-width="0.9" rx="0.8" ry="0.8"/>
<rect x="-2.5" y="-2.5" width="5" height="5" fill="#fff" stroke="#888" stroke-width="0.4" rx="0.5" ry="0.5"/>
</g>
<g transform="translate(242,527.8) rotate(0)">
<rect x="-3.6" y="-3.6" width="7.2" height="7.2" fill="#fff" stroke="#444" stroke-width="0.9" rx="0.8" ry="0.8"/>
<rect x="-2.5" y="-2.5" width="5" height="5" fill="#fff" stroke="#888" stroke-width="0.4" rx="0.5" ry="0.5"/>
</g>
<g transform="translate(242,537.7) rotate(0)">
<rect x="-3.6" y="-3.6" width="7.2" height="7.2" fill="#fff" stroke="#444" stroke-width="0.9" rx="0.8" ry="0.8"/>
<rect x="-2.5" y="-2.5" width="5" height="5" fill="#fff" stroke="#888" stroke-width="0.4" rx="0.5" ry="0.5"/>
</g>
<g transform="translate(242,547.6) rotate(0)">
<rect x="-3.6" y="-3.6" width="7.2" height="7.2" fill="#fff" stroke="#444" stroke-width="0.9" rx="0.8" ry="0.8"/>
<rect x="-2.5" y="-2.5" width="5" height="5" fill="#fff" stroke="#888" stroke-width="0.4" rx="0.5" ry="0.5"/>
</g>
<g transform="translate(174.2,588.7) rotate(0)">
<rect x="-3.6" y="-3.6" width="7.2" height="7.2" fill="#fff" stroke="#444" stroke-width="0.9" rx="0.8" ry="0.8"/>
<rect x="-2.5" y="-2.5" width="5" height="5" fill="#fff" stroke="#888" stroke-width="0.4" rx="0.5" ry="0.5"/>
</g>
<g transform="translate(174.2,598.9) rotate(0)">
<rect x="-3.6" y="-3.6" width="7.2" height="7.2" fill="#fff" stroke="#444" stroke-width="0.9" rx="0.8" ry="0.8"/>
<rect x="-2.5" y="-2.5" width="5" height="5" fill="#fff" stroke="#888" stroke-width="0.4" rx="0.5" ry="0.5"/>
</g>
<g transform="translate(174.2,609.1) rotate(0)">
<rect x="-3.6" y="-3.6" width="7.2" height="7.2" fill="#fff" stroke="#444" stroke-width="0.9" rx="0.8" ry="0.8"/>
<rect x="-2.5" y="-2.5" width="5" height="5" fill="#fff" stroke="#888" stroke-width="0.4" rx="0.5" ry="0.5"/>
</g>
<g transform="translate(174.2,618.9) rotate(0)">
<rect x="-3.6" y="-3.6" width="7.2" height="7.2" fill="#fff" stroke="#444" stroke-width="0.9" rx="0.8" ry="0.8"/>
<rect x="-2.5" y="-2.5" width="5" height="5" fill="#fff" stroke="#888" stroke-width="0.4" rx="0.5" ry="0.5"/>
</g>
<polygon points="232.7,577.3 259,577.3 272.7,601.1 259,624.6 232.7,624.6 219.1,601.1" fill="#fff" stroke="#444" stroke-width="0.7" />
<polygon points="239.5,591.4 251.4,591.4 257.3,601.1 251.4,610.9 239.5,610.9 233.5,601.1" fill="#fff" stroke="#444" stroke-width="0.6" />
<line x1="232.7" y1="577.3" x2="239.5" y2="591.4" stroke="#444" stroke-width="0.6" />
<line x1="259" y1="577.3" x2="251.4" y2="591.4" stroke="#444" stroke-width="0.6" />
<line x1="272.7" y1="601.1" x2="257.3" y2="601.1" stroke="#444" stroke-width="0.6" />
<line x1="259" y1="624.6" x2="251.4" y2="610.9" stroke="#444" stroke-width="0.6" />
<line x1="232.7" y1="624.6" x2="239.5" y2="610.9" stroke="#444" stroke-width="0.6" />
<line x1="219.1" y1="601.1" x2="233.5" y2="601.1" stroke="#444" stroke-width="0.6" />
<line x1="219.1" y1="600.3" x2="233.5" y2="600.3" stroke="#444" stroke-width="0.5" />
<line x1="257.3" y1="600.3" x2="272.7" y2="600.3" stroke="#444" stroke-width="0.5" />
<g transform="translate(239.9,572.6) rotate(0.0)">
<rect x="-3.4" y="-3.4" width="6.8" height="6.8" fill="#fff" stroke="#444" stroke-width="0.9" rx="0.8" ry="0.8"/>
<rect x="-2.3" y="-2.3" width="4.6" height="4.6" fill="#fff" stroke="#888" stroke-width="0.4" rx="0.5" ry="0.5"/>
</g>
<g transform="translate(251.9,572.6) rotate(0.0)">
<rect x="-3.4" y="-3.4" width="6.8" height="6.8" fill="#fff" stroke="#444" stroke-width="0.9" rx="0.8" ry="0.8"/>
<rect x="-2.3" y="-2.3" width="4.6" height="4.6" fill="#fff" stroke="#888" stroke-width="0.4" rx="0.5" ry="0.5"/>
</g>
<g transform="translate(267.58,581.65) rotate(60.0)">
<rect x="-3.4" y="-3.4" width="6.8" height="6.8" fill="#fff" stroke="#444" stroke-width="0.9" rx="0.8" ry="0.8"/>
<rect x="-2.3" y="-2.3" width="4.6" height="4.6" fill="#fff" stroke="#888" stroke-width="0.4" rx="0.5" ry="0.5"/>
</g>
<g transform="translate(273.58,592.05) rotate(60.0)">
<rect x="-3.4" y="-3.4" width="6.8" height="6.8" fill="#fff" stroke="#444" stroke-width="0.9" rx="0.8" ry="0.8"/>
<rect x="-2.3" y="-2.3" width="4.6" height="4.6" fill="#fff" stroke="#888" stroke-width="0.4" rx="0.5" ry="0.5"/>
</g>
<g transform="translate(273.58,610.15) rotate(120.0)">
<rect x="-3.4" y="-3.4" width="6.8" height="6.8" fill="#fff" stroke="#444" stroke-width="0.9" rx="0.8" ry="0.8"/>
<rect x="-2.3" y="-2.3" width="4.6" height="4.6" fill="#fff" stroke="#888" stroke-width="0.4" rx="0.5" ry="0.5"/>
</g>
<g transform="translate(267.58,620.55) rotate(120.0)">
<rect x="-3.4" y="-3.4" width="6.8" height="6.8" fill="#fff" stroke="#444" stroke-width="0.9" rx="0.8" ry="0.8"/>
<rect x="-2.3" y="-2.3" width="4.6" height="4.6" fill="#fff" stroke="#888" stroke-width="0.4" rx="0.5" ry="0.5"/>
</g>
<g transform="translate(251.9,629.6) rotate(180.0)">
<rect x="-3.4" y="-3.4" width="6.8" height="6.8" fill="#fff" stroke="#444" stroke-width="0.9" rx="0.8" ry="0.8"/>
<rect x="-2.3" y="-2.3" width="4.6" height="4.6" fill="#fff" stroke="#888" stroke-width="0.4" rx="0.5" ry="0.5"/>
</g>
<g transform="translate(239.9,629.6) rotate(180.0)">
<rect x="-3.4" y="-3.4" width="6.8" height="6.8" fill="#fff" stroke="#444" stroke-width="0.9" rx="0.8" ry="0.8"/>
<rect x="-2.3" y="-2.3" width="4.6" height="4.6" fill="#fff" stroke="#888" stroke-width="0.4" rx="0.5" ry="0.5"/>
</g>
<g transform="translate(224.22,620.55) rotate(240.0)">
<rect x="-3.4" y="-3.4" width="6.8" height="6.8" fill="#fff" stroke="#444" stroke-width="0.9" rx="0.8" ry="0.8"/>
<rect x="-2.3" y="-2.3" width="4.6" height="4.6" fill="#fff" stroke="#888" stroke-width="0.4" rx="0.5" ry="0.5"/>
</g>
<g transform="translate(218.22,610.15) rotate(240.0)">
<rect x="-3.4" y="-3.4" width="6.8" height="6.8" fill="#fff" stroke="#444" stroke-width="0.9" rx="0.8" ry="0.8"/>
<rect x="-2.3" y="-2.3" width="4.6" height="4.6" fill="#fff" stroke="#888" stroke-width="0.4" rx="0.5" ry="0.5"/>
</g>
<g transform="translate(218.22,592.05) rotate(300.0)">
<rect x="-3.4" y="-3.4" width="6.8" height="6.8" fill="#fff" stroke="#444" stroke-width="0.9" rx="0.8" ry="0.8"/>
<rect x="-2.3" y="-2.3" width="4.6" height="4.6" fill="#fff" stroke="#888" stroke-width="0.4" rx="0.5" ry="0.5"/>
</g>
<g transform="translate(224.22,581.65) rotate(300.0)">
<rect x="-3.4" y="-3.4" width="6.8" height="6.8" fill="#fff" stroke="#444" stroke-width="0.9" rx="0.8" ry="0.8"/>
<rect x="-2.3" y="-2.3" width="4.6" height="4.6" fill="#fff" stroke="#888" stroke-width="0.4" rx="0.5" ry="0.5"/>
</g>
<polygon points="174.9,651.5 225,651.5 233.2,665.1 167.2,665.1" fill="#fff" stroke="#444" stroke-width="0.6" />
<line x1="187.3" y1="651.5" x2="194.4" y2="665.1" stroke="#444" stroke-width="0.55" />
<line x1="214" y1="651.5" x2="206.7" y2="665.1" stroke="#444" stroke-width="0.55" />
<g transform="translate(178.7,645.2) rotate(0)">
<rect x="-3.6" y="-3.6" width="7.2" height="7.2" fill="#fff" stroke="#444" stroke-width="0.9" rx="0.8" ry="0.8"/>
<rect x="-2.5" y="-2.5" width="5" height="5" fill="#fff" stroke="#888" stroke-width="0.4" rx="0.5" ry="0.5"/>
</g>
<g transform="translate(189.4,645.2) rotate(0)">
<rect x="-3.6" y="-3.6" width="7.2" height="7.2" fill="#fff" stroke="#444" stroke-width="0.9" rx="0.8" ry="0.8"/>
<rect x="-2.5" y="-2.5" width="5" height="5" fill="#fff" stroke="#888" stroke-width="0.4" rx="0.5" ry="0.5"/>
</g>
<g transform="translate(200.3,645.2) rotate(0)">
<rect x="-3.6" y="-3.6" width="7.2" height="7.2" fill="#fff" stroke="#444" stroke-width="0.9" rx="0.8" ry="0.8"/>
<rect x="-2.5" y="-2.5" width="5" height="5" fill="#fff" stroke="#888" stroke-width="0.4" rx="0.5" ry="0.5"/>
</g>
<g transform="translate(211,645.2) rotate(0)">
<rect x="-3.6" y="-3.6" width="7.2" height="7.2" fill="#fff" stroke="#444" stroke-width="0.9" rx="0.8" ry="0.8"/>
<rect x="-2.5" y="-2.5" width="5" height="5" fill="#fff" stroke="#888" stroke-width="0.4" rx="0.5" ry="0.5"/>
</g>
<g transform="translate(221.5,645.2) rotate(0)">
<rect x="-3.6" y="-3.6" width="7.2" height="7.2" fill="#fff" stroke="#444" stroke-width="0.9" rx="0.8" ry="0.8"/>
<rect x="-2.5" y="-2.5" width="5" height="5" fill="#fff" stroke="#888" stroke-width="0.4" rx="0.5" ry="0.5"/>
</g>
<g transform="translate(166.4,656.1) rotate(-32)">
<rect x="-3.5" y="-3.5" width="7" height="7" fill="#fff" stroke="#444" stroke-width="0.9" rx="0.8" ry="0.8"/>
<rect x="-2.4" y="-2.4" width="4.8" height="4.8" fill="#fff" stroke="#888" stroke-width="0.4" rx="0.5" ry="0.5"/>
</g>
<g transform="translate(234,656.1) rotate(32)">
<rect x="-3.5" y="-3.5" width="7" height="7" fill="#fff" stroke="#444" stroke-width="0.9" rx="0.8" ry="0.8"/>
<rect x="-2.4" y="-2.4" width="4.8" height="4.8" fill="#fff" stroke="#888" stroke-width="0.4" rx="0.5" ry="0.5"/>
</g>
<rect x="154.5" y="680.9" width="47.15" height="8" fill="#fff" stroke="#222" stroke-width="0.55" />
<line x1="154.5" y1="680.9" x2="201.65" y2="688.9" stroke="#222" stroke-width="0.49500000000000005" />
<line x1="154.5" y1="688.9" x2="201.65" y2="680.9" stroke="#222" stroke-width="0.49500000000000005" />
<rect x="201.65" y="680.9" width="47.15" height="8" fill="#fff" stroke="#222" stroke-width="0.55" />
<line x1="201.65" y1="680.9" x2="248.8" y2="688.9" stroke="#222" stroke-width="0.49500000000000005" />
<line x1="201.65" y1="688.9" x2="248.8" y2="680.9" stroke="#222" stroke-width="0.49500000000000005" />
<line x1="252.6" y1="689" x2="252.6" y2="670.6" stroke="#222" stroke-width="0.6" />
<path d="M252.6,670.6 A18.4,18.4 0 0 1 271,689" fill="none" stroke="#222" stroke-width="0.6" />
<rect x="252.6" y="689" width="18.4" height="3.8" fill="#fff" stroke="#999" stroke-width="0.4" />
<path d="M155.6,699 L163,699 Q167.8,699 167.8,703.7 Q167.8,708.4 163,708.4 L155.6,708.4 Z" fill="#fff" stroke="#666" stroke-width="0.9" />
<line x1="158.2" y1="699" x2="158.2" y2="708.4" stroke="#888" stroke-width="0.5" />
<rect x="181.7" y="693.8" width="18.7" height="1" fill="#333" stroke="none" stroke-width="0.6" />
<path d="M200.4,694.3 A18.7,18.7 0 0 1 181.7,713" fill="none" stroke="#222" stroke-width="0.6" />
<rect x="154.5" y="714" width="27.2" height="1.4" fill="#333" stroke="none" stroke-width="0.6" />
<path d="M155.6,720.6 L163,720.6 Q167.8,720.6 167.8,725.3 Q167.8,730 163,730 L155.6,730 Z" fill="#fff" stroke="#666" stroke-width="0.9" />
<line x1="158.2" y1="720.6" x2="158.2" y2="730" stroke="#888" stroke-width="0.5" />
<rect x="181.7" y="715.7" width="18.7" height="1" fill="#333" stroke="none" stroke-width="0.6" />
<path d="M200.4,716.2 A18.7,18.7 0 0 1 181.7,734.9" fill="none" stroke="#222" stroke-width="0.6" />
<rect x="154.5" y="735.6" width="27.2" height="1.4" fill="#333" stroke="none" stroke-width="0.6" />
<path d="M155.6,742.2 L163,742.2 Q167.8,742.2 167.8,746.9 Q167.8,751.6 163,751.6 L155.6,751.6 Z" fill="#fff" stroke="#666" stroke-width="0.9" />
<line x1="158.2" y1="742.2" x2="158.2" y2="751.6" stroke="#888" stroke-width="0.5" />
<rect x="181.7" y="737.3" width="18.7" height="1" fill="#333" stroke="none" stroke-width="0.6" />
<path d="M200.4,737.8 A18.7,18.7 0 0 1 181.7,756.5" fill="none" stroke="#222" stroke-width="0.6" />
<rect x="154.5" y="757.2" width="27.2" height="1.4" fill="#333" stroke="none" stroke-width="0.6" />
<path d="M155.6,763.8 L163,763.8 Q167.8,763.8 167.8,768.5 Q167.8,773.2 163,773.2 L155.6,773.2 Z" fill="#fff" stroke="#666" stroke-width="0.9" />
<line x1="158.2" y1="763.8" x2="158.2" y2="773.2" stroke="#888" stroke-width="0.5" />
<rect x="181.7" y="758.9" width="18.7" height="1" fill="#333" stroke="none" stroke-width="0.6" />
<path d="M200.4,759.4 A18.7,18.7 0 0 1 181.7,778.1" fill="none" stroke="#222" stroke-width="0.6" />
<rect x="154.5" y="778.8" width="27.2" height="1.4" fill="#333" stroke="none" stroke-width="0.6" />
<path d="M155.6,785.4 L163,785.4 Q167.8,785.4 167.8,790.1 Q167.8,794.8 163,794.8 L155.6,794.8 Z" fill="#fff" stroke="#666" stroke-width="0.9" />
<line x1="158.2" y1="785.4" x2="158.2" y2="794.8" stroke="#888" stroke-width="0.5" />
<rect x="181.7" y="780.5" width="18.7" height="1" fill="#333" stroke="none" stroke-width="0.6" />
<path d="M200.4,781 A18.7,18.7 0 0 1 181.7,799.7" fill="none" stroke="#222" stroke-width="0.6" />
<rect x="154.5" y="800.4" width="27.2" height="1.4" fill="#333" stroke="none" stroke-width="0.6" />
<path d="M155.6,807 L163,807 Q167.8,807 167.8,811.7 Q167.8,816.4 163,816.4 L155.6,816.4 Z" fill="#fff" stroke="#666" stroke-width="0.9" />
<line x1="158.2" y1="807" x2="158.2" y2="816.4" stroke="#888" stroke-width="0.5" />
<rect x="181.7" y="802.1" width="18.7" height="1" fill="#333" stroke="none" stroke-width="0.6" />
<path d="M200.4,802.6 A18.7,18.7 0 0 1 181.7,821.3" fill="none" stroke="#222" stroke-width="0.6" />
<ellipse cx="236.1" cy="724.9" rx="6.5" ry="6" fill="#fff" stroke="#222" stroke-width="0.7" />
<ellipse cx="236.1" cy="737.3" rx="6.5" ry="6" fill="#fff" stroke="#222" stroke-width="0.7" />
<line x1="236.1" y1="723.9" x2="236.1" y2="738.3" stroke="#777" stroke-width="0.8" />
<ellipse cx="254.3" cy="724.9" rx="6.5" ry="6" fill="#fff" stroke="#222" stroke-width="0.7" />
<ellipse cx="254.3" cy="737.3" rx="6.5" ry="6" fill="#fff" stroke="#222" stroke-width="0.7" />
<line x1="254.3" y1="723.9" x2="254.3" y2="738.3" stroke="#777" stroke-width="0.8" />
<rect x="227.2" y="729.2" width="36.1" height="3.8" fill="#000" stroke="none" stroke-width="0.6" />
<ellipse cx="236.1" cy="767.1" rx="6.5" ry="6" fill="#fff" stroke="#222" stroke-width="0.7" />
<ellipse cx="236.1" cy="779.9" rx="6.5" ry="6" fill="#fff" stroke="#222" stroke-width="0.7" />
<line x1="236.1" y1="766.1" x2="236.1" y2="780.9" stroke="#777" stroke-width="0.8" />
<ellipse cx="254.3" cy="767.1" rx="6.5" ry="6" fill="#fff" stroke="#222" stroke-width="0.7" />
<ellipse cx="254.3" cy="779.9" rx="6.5" ry="6" fill="#fff" stroke="#222" stroke-width="0.7" />
<line x1="254.3" y1="766.1" x2="254.3" y2="780.9" stroke="#777" stroke-width="0.8" />
<rect x="227.2" y="771.9" width="36.1" height="3.8" fill="#000" stroke="none" stroke-width="0.6" />
<rect x="243.4" y="803.8" width="20.4" height="19.9" fill="#fff" stroke="#555" stroke-width="0.9" />
<rect x="244.7" y="805.1" width="17.8" height="17.3" fill="#fff" stroke="#999" stroke-width="0.5" />
<circle cx="259.8" cy="820" r="0.6" fill="#333" stroke="none" stroke-width="0.6" />
<rect x="265.9" y="803.8" width="20.4" height="19.9" fill="#fff" stroke="#555" stroke-width="0.9" />
<rect x="267.2" y="805.1" width="17.8" height="17.3" fill="#fff" stroke="#999" stroke-width="0.5" />
<circle cx="282.3" cy="820" r="0.6" fill="#333" stroke="none" stroke-width="0.6" />
<rect x="198.7" y="821.3" width="43" height="2.4" fill="#fff" stroke="#555" stroke-width="0.6" />
<line x1="286.3" y1="841.7" x2="268.4" y2="841.7" stroke="#222" stroke-width="0.6" />
<path d="M268.4,841.7 A17.9,17.9 0 0 0 286.3,859.6" fill="none" stroke="#222" stroke-width="0.6" />
<line x1="286.3" y1="873.5" x2="268.4" y2="873.5" stroke="#222" stroke-width="0.6" />
<path d="M268.4,873.5 A17.9,17.9 0 0 1 286.3,855.6" fill="none" stroke="#222" stroke-width="0.6" />
<line x1="287.2" y1="841" x2="287.2" y2="874" stroke="#999" stroke-width="0.5" />
<rect x="291.9" y="801.2" width="28.9" height="15.3" fill="#fff" stroke="#555" stroke-width="1.0" />
<path d="M302.3,802.2 L302.3,812 L305.5,812 L305.5,815.3" fill="none" stroke="#444" stroke-width="0.6" />
<rect x="293.4" y="802.8" width="7.7" height="12.1" fill="none" stroke="#999" stroke-width="0.5" />
<rect x="291.9" y="819.1" width="29.8" height="16.1" fill="#fff" stroke="#555" stroke-width="1.0" />
<path d="M302.63,820.1 L302.63,830.7 L305.83,830.7 L305.83,834" fill="none" stroke="#444" stroke-width="0.6" />
<rect x="293.4" y="820.7" width="8.03" height="12.9" fill="none" stroke="#999" stroke-width="0.5" />
<rect x="388.8" y="860.4" width="16.2" height="29.3" fill="#fff" stroke="#555" stroke-width="1.0" />
<path d="M389.8,879.15 L400.5,879.15 L400.5,875.95 L403.8,875.95" fill="none" stroke="#444" stroke-width="0.6" />
<rect x="390.4" y="880.35" width="13" height="7.85" fill="none" stroke="#999" stroke-width="0.5" />
<path d="M400.5,875.95 L402.5,878.15 L400.5,879.15" fill="none" stroke="#444" stroke-width="0.5" />
<rect x="415.2" y="860.4" width="16.4" height="29.3" fill="#fff" stroke="#555" stroke-width="1.0" />
<path d="M416.2,879.15 L427.1,879.15 L427.1,875.95 L430.4,875.95" fill="none" stroke="#444" stroke-width="0.6" />
<rect x="416.8" y="880.35" width="13.2" height="7.85" fill="none" stroke="#999" stroke-width="0.5" />
<path d="M427.1,875.95 L429.1,878.15 L427.1,879.15" fill="none" stroke="#444" stroke-width="0.5" />
<rect x="434.5" y="860.4" width="16.5" height="29.3" fill="#fff" stroke="#555" stroke-width="1.0" />
<path d="M435.5,879.15 L446.5,879.15 L446.5,875.95 L449.8,875.95" fill="none" stroke="#444" stroke-width="0.6" />
<rect x="436.1" y="880.35" width="13.3" height="7.85" fill="none" stroke="#999" stroke-width="0.5" />
<path d="M446.5,875.95 L448.5,878.15 L446.5,879.15" fill="none" stroke="#444" stroke-width="0.5" />
<rect x="453.5" y="860.4" width="16.7" height="29.3" fill="#fff" stroke="#555" stroke-width="1.0" />
<path d="M454.5,879.15 L465.7,879.15 L465.7,875.95 L469,875.95" fill="none" stroke="#444" stroke-width="0.6" />
<rect x="455.1" y="880.35" width="13.5" height="7.85" fill="none" stroke="#999" stroke-width="0.5" />
<path d="M465.7,875.95 L467.7,878.15 L465.7,879.15" fill="none" stroke="#444" stroke-width="0.5" />
<polyline points="291.9,797 300.4,795.3 308,798.7 316.6,795.3 325,797.5" fill="none" stroke="#222" stroke-width="1.0" stroke-linejoin="round"/>
<polyline points="291.9,840.3 300.4,842 308,838.6 316.6,842 325,839.6" fill="none" stroke="#222" stroke-width="1.0" stroke-linejoin="round"/>
<polyline points="291,886.3 298.7,888 305.5,884.6 314,888 321.7,885.4 331,888 338.7,884.6 346.3,887.1 354.8,885.4" fill="none" stroke="#222" stroke-width="1.0" stroke-linejoin="round"/>
<polyline points="378.6,857.3 376.9,864 380.3,871 376.9,878 379.5,889.7" fill="none" stroke="#222" stroke-width="1.0" stroke-linejoin="round"/>
<g transform="translate(363.8,785.1) rotate(25)" fill="#fff" stroke="#222" stroke-width="0.7" stroke-linejoin="round">
<path d="M-9.05,-5.2 Q-1,-11.9 9.05,-5.2 L9.05,4.68 Q1,11.08 -9.05,4.68 L-9.05,-5.2 Q-9.05,-5.2 -9.05,-5.2 Z"/>
<path d="M-9.05,-5.2 Q0,-2.6 1.04,0.52 L9.05,-5.2 M1.04,0.52 L0,9.88" fill="none"/>
</g>
<g transform="translate(404.5,785.1) rotate(-20)" fill="#fff" stroke="#222" stroke-width="0.7" stroke-linejoin="round">
<path d="M-9.05,-5.2 Q-1,-11.9 9.05,-5.2 L9.05,4.68 Q1,11.08 -9.05,4.68 L-9.05,-5.2 Q-9.05,-5.2 -9.05,-5.2 Z"/>
<path d="M-9.05,-5.2 Q0,-2.6 1.04,0.52 L9.05,-5.2 M1.04,0.52 L0,9.88" fill="none"/>
</g>
<g transform="translate(343.8,814.8) rotate(-15)" fill="#fff" stroke="#222" stroke-width="0.7" stroke-linejoin="round">
<path d="M-9.05,-5.2 Q-1,-11.9 9.05,-5.2 L9.05,4.68 Q1,11.08 -9.05,4.68 L-9.05,-5.2 Q-9.05,-5.2 -9.05,-5.2 Z"/>
<path d="M-9.05,-5.2 Q0,-2.6 1.04,0.52 L9.05,-5.2 M1.04,0.52 L0,9.88" fill="none"/>
</g>
<g transform="translate(393.4,812.8) rotate(30)" fill="#fff" stroke="#222" stroke-width="0.7" stroke-linejoin="round">
<path d="M-9.05,-5.2 Q-1,-11.9 9.05,-5.2 L9.05,4.68 Q1,11.08 -9.05,4.68 L-9.05,-5.2 Q-9.05,-5.2 -9.05,-5.2 Z"/>
<path d="M-9.05,-5.2 Q0,-2.6 1.04,0.52 L9.05,-5.2 M1.04,0.52 L0,9.88" fill="none"/>
</g>
<g transform="translate(346.8,845.4) rotate(-25)" fill="#fff" stroke="#222" stroke-width="0.7" stroke-linejoin="round">
<path d="M-9.05,-5.2 Q-1,-11.9 9.05,-5.2 L9.05,4.68 Q1,11.08 -9.05,4.68 L-9.05,-5.2 Q-9.05,-5.2 -9.05,-5.2 Z"/>
<path d="M-9.05,-5.2 Q0,-2.6 1.04,0.52 L9.05,-5.2 M1.04,0.52 L0,9.88" fill="none"/>
</g>
<g transform="translate(406.7,848) rotate(10)" fill="#fff" stroke="#222" stroke-width="0.7" stroke-linejoin="round">
<path d="M-9.05,-5.2 Q-1,-11.9 9.05,-5.2 L9.05,4.68 Q1,11.08 -9.05,4.68 L-9.05,-5.2 Q-9.05,-5.2 -9.05,-5.2 Z"/>
<path d="M-9.05,-5.2 Q0,-2.6 1.04,0.52 L9.05,-5.2 M1.04,0.52 L0,9.88" fill="none"/>
</g>
<g transform="translate(432.2,844.6) rotate(-10)" fill="#fff" stroke="#222" stroke-width="0.7" stroke-linejoin="round">
<path d="M-9.05,-5.2 Q-1,-11.9 9.05,-5.2 L9.05,4.68 Q1,11.08 -9.05,4.68 L-9.05,-5.2 Q-9.05,-5.2 -9.05,-5.2 Z"/>
<path d="M-9.05,-5.2 Q0,-2.6 1.04,0.52 L9.05,-5.2 M1.04,0.52 L0,9.88" fill="none"/>
</g>
<g transform="translate(465.9,785) rotate(20)" fill="none" stroke="#222" stroke-width="0.6" stroke-linecap="round">
<ellipse cx="0" cy="0" rx="4.2" ry="3.2" fill="#fff"/><circle cx="-5.8" cy="-1" r="2.4" fill="#fff"/><path d="M3,-2.5 Q7,-6 10,-9 M3.5,2 Q6,5 5,8 M-1,3 Q-2,6 -5,6 M0,-3 Q0,-6 -3,-6.5"/><path d="M-7.5,-2.5 Q-9,-1 -7.8,0.8" />
</g>
<g transform="translate(471,808.9) rotate(-35)" fill="none" stroke="#222" stroke-width="0.6" stroke-linecap="round">
<ellipse cx="0" cy="0" rx="4.2" ry="3.2" fill="#fff"/><circle cx="-5.8" cy="-1" r="2.4" fill="#fff"/><path d="M3,-2.5 Q7,-6 10,-9 M3.5,2 Q6,5 5,8 M-1,3 Q-2,6 -5,6 M0,-3 Q0,-6 -3,-6.5"/><path d="M-7.5,-2.5 Q-9,-1 -7.8,0.8" />
</g>
<path d="M455.7,772 Q462,773 466,771 Q470,771 472,777" fill="none" stroke="#222" stroke-width="0.6" />
<path d="M478,794 Q483,803 480,808" fill="none" stroke="#222" stroke-width="0.6" />
<g transform="translate(300.5,897) rotate(-8)">
<path d="M-6.75,-4.75 Q0,-3.42 6.75,-4.75 Q5.52,0 6.75,4.75 Q0,3.42 -6.75,4.75 Q-5.52,0 -6.75,-4.75 Z" fill="#fff" stroke="#333" stroke-width="0.6" />
</g>
<g transform="translate(305.5,911.5) rotate(8)">
<path d="M-10,-6.25 Q0,-4.5 10,-6.25 Q8.18,0 10,6.25 Q0,4.5 -10,6.25 Q-8.18,0 -10,-6.25 Z" fill="#fff" stroke="#333" stroke-width="0.6" />
</g>
<g transform="translate(302.5,939.5) rotate(-40)">
<path d="M-5.5,-4.5 Q0,-3.24 5.5,-4.5 Q4.5,0 5.5,4.5 Q0,3.24 -5.5,4.5 Q-4.5,0 -5.5,-4.5 Z" fill="#fff" stroke="#333" stroke-width="0.6" />
</g>
<g transform="translate(296.5,949) rotate(-25)">
<path d="M-4.75,-5 Q0,-3.6 4.75,-5 Q3.89,0 4.75,5 Q0,3.6 -4.75,5 Q-3.89,0 -4.75,-5 Z" fill="#fff" stroke="#333" stroke-width="0.6" />
</g>
<g transform="translate(309,951.5) rotate(0)">
<path d="M-5.5,-4.5 Q0,-3.24 5.5,-4.5 Q4.5,0 5.5,4.5 Q0,3.24 -5.5,4.5 Q-4.5,0 -5.5,-4.5 Z" fill="#fff" stroke="#333" stroke-width="0.6" />
</g>
<g transform="translate(323.7,948.3) rotate(8)">
<path d="M-9,-5.25 Q0,-3.78 9,-5.25 Q7.36,0 9,5.25 Q0,3.78 -9,5.25 Q-7.36,0 -9,-5.25 Z" fill="#fff" stroke="#333" stroke-width="0.6" />
</g>
<g transform="translate(340.5,933.8) rotate(10)">
<path d="M-7.25,-5 Q0,-3.6 7.25,-5 Q5.93,0 7.25,5 Q0,3.6 -7.25,5 Q-5.93,0 -7.25,-5 Z" fill="#fff" stroke="#333" stroke-width="0.6" />
</g>
<g transform="translate(343,947.3) rotate(8)">
<path d="M-6.25,-4.5 Q0,-3.24 6.25,-4.5 Q5.11,0 6.25,4.5 Q0,3.24 -6.25,4.5 Q-5.11,0 -6.25,-4.5 Z" fill="#fff" stroke="#333" stroke-width="0.6" />
</g>
<g transform="translate(355.3,952.5) rotate(2)">
<path d="M-6,-4.25 Q0,-3.06 6,-4.25 Q4.91,0 6,4.25 Q0,3.06 -6,4.25 Q-4.91,0 -6,-4.25 Z" fill="#fff" stroke="#333" stroke-width="0.6" />
</g>
<g transform="translate(364,939) rotate(-45)">
<path d="M-5,-5.5 Q0,-3.96 5,-5.5 Q4.09,0 5,5.5 Q0,3.96 -5,5.5 Q-4.09,0 -5,-5.5 Z" fill="#fff" stroke="#333" stroke-width="0.6" />
</g>
<g transform="translate(376.3,947.3) rotate(-35)">
<path d="M-9,-6 Q0,-4.32 9,-6 Q7.36,0 9,6 Q0,4.32 -9,6 Q-7.36,0 -9,-6 Z" fill="#fff" stroke="#333" stroke-width="0.6" />
</g>
<g transform="translate(389.5,954) rotate(-5)">
<path d="M-5.5,-4.25 Q0,-3.06 5.5,-4.25 Q4.5,0 5.5,4.25 Q0,3.06 -5.5,4.25 Q-4.5,0 -5.5,-4.25 Z" fill="#fff" stroke="#333" stroke-width="0.6" />
</g>
<g transform="translate(400.8,951.5) rotate(-40)">
<path d="M-6.5,-5 Q0,-3.6 6.5,-5 Q5.32,0 6.5,5 Q0,3.6 -6.5,5 Q-5.32,0 -6.5,-5 Z" fill="#fff" stroke="#333" stroke-width="0.6" />
</g>
<g transform="translate(410,944.3) rotate(-40)">
<path d="M-6,-5 Q0,-3.6 6,-5 Q4.91,0 6,5 Q0,3.6 -6,5 Q-4.91,0 -6,-5 Z" fill="#fff" stroke="#333" stroke-width="0.6" />
</g>
<g transform="translate(409.6,927.5) rotate(-35)">
<path d="M-7.5,-6.5 Q0,-4.68 7.5,-6.5 Q6.13,0 7.5,6.5 Q0,4.68 -7.5,6.5 Q-6.13,0 -7.5,-6.5 Z" fill="#fff" stroke="#333" stroke-width="0.6" />
</g>
<g transform="translate(407.4,913.7) rotate(-5)">
<path d="M-7.5,-4.75 Q0,-3.42 7.5,-4.75 Q6.13,0 7.5,4.75 Q0,3.42 -7.5,4.75 Q-6.13,0 -7.5,-4.75 Z" fill="#fff" stroke="#333" stroke-width="0.6" />
</g>
<g transform="translate(393.5,898.3) rotate(10)">
<path d="M-7.25,-4.75 Q0,-3.42 7.25,-4.75 Q5.93,0 7.25,4.75 Q0,3.42 -7.25,4.75 Q-5.93,0 -7.25,-4.75 Z" fill="#fff" stroke="#333" stroke-width="0.6" />
</g>
<g transform="translate(411.3,897.7) rotate(0)">
<path d="M-5.5,-4.25 Q0,-3.06 5.5,-4.25 Q4.5,0 5.5,4.25 Q0,3.06 -5.5,4.25 Q-4.5,0 -5.5,-4.25 Z" fill="#fff" stroke="#333" stroke-width="0.6" />
</g>
<line x1="488.9" y1="825.5" x2="472.7" y2="825.5" stroke="#222" stroke-width="0.6" />
<path d="M472.7,825.5 A16.2,16.2 0 0 0 488.9,841.7" fill="none" stroke="#222" stroke-width="0.6" />
<line x1="488.9" y1="857.9" x2="472.7" y2="857.9" stroke="#222" stroke-width="0.6" />
<path d="M472.7,857.9 A16.2,16.2 0 0 1 488.9,841.7" fill="none" stroke="#222" stroke-width="0.6" />
<line x1="489.6" y1="825" x2="489.6" y2="858.2" stroke="#888" stroke-width="0.5" />
<rect x="511.5" y="792.4" width="15.3" height="12.6" fill="#fff" stroke="#666" stroke-width="0.9" rx="0.8" ry="0.8"/>
<rect x="513.4" y="794.6" width="11.5" height="9" fill="#fff" stroke="#888" stroke-width="0.5" rx="1.5" ry="1.5"/>
<circle cx="519.1" cy="802.5" r="0.6" fill="#222" stroke="none" stroke-width="0.6" />
<line x1="535.6" y1="765.5" x2="555.2" y2="765.5" stroke="#333" stroke-width="0.8" />
<line x1="535.6" y1="779.4" x2="555.2" y2="779.4" stroke="#333" stroke-width="0.8" />
<rect x="539.9" y="768.6" width="12.1" height="8" fill="#fff" stroke="#666" stroke-width="0.9" rx="1.8" ry="1.8"/>
<rect x="551" y="768" width="4.2" height="9.2" fill="#fff" stroke="#777" stroke-width="0.5" />
<line x1="552.5" y1="768" x2="552.5" y2="777.2" stroke="#888" stroke-width="0.6" />
<line x1="553.8" y1="768" x2="553.8" y2="777.2" stroke="#888" stroke-width="0.6" />
<rect x="492.8" y="809.4" width="62.4" height="10.5" fill="#fff" stroke="#222" stroke-width="0.55" />
<line x1="492.8" y1="809.4" x2="555.2" y2="819.9" stroke="#222" stroke-width="0.49500000000000005" />
<line x1="492.8" y1="819.9" x2="555.2" y2="809.4" stroke="#222" stroke-width="0.49500000000000005" />
<rect x="526.8" y="845.4" width="28.4" height="13.6" fill="#fff" stroke="#555" stroke-width="0.9" />
<path d="M545.5,846.4 L545.5,858" fill="none" stroke="#888" stroke-width="0.5" />
<path d="M541.8,846.2 L544.3,849 L546,849" fill="none" stroke="#333" stroke-width="0.6" />
<rect x="526.8" y="861" width="28.4" height="14.2" fill="#fff" stroke="#555" stroke-width="0.9" />
<path d="M545.5,862 L545.5,874.2" fill="none" stroke="#888" stroke-width="0.5" />
<path d="M541.8,861.8 L544.3,864.6 L546,864.6" fill="none" stroke="#333" stroke-width="0.6" />
<rect x="526.8" y="876.9" width="28.4" height="14.4" fill="#fff" stroke="#555" stroke-width="0.9" />
<path d="M545.5,877.9 L545.5,890.3" fill="none" stroke="#888" stroke-width="0.5" />
<path d="M541.8,877.7 L544.3,880.5 L546,880.5" fill="none" stroke="#333" stroke-width="0.6" />
<rect x="492.8" y="863.8" width="12.2" height="28.1" fill="#fff" stroke="#222" stroke-width="0.55" />
<line x1="492.8" y1="863.8" x2="505" y2="891.9" stroke="#222" stroke-width="0.49500000000000005" />
<line x1="492.8" y1="891.9" x2="505" y2="863.8" stroke="#222" stroke-width="0.49500000000000005" />
<line x1="572.7" y1="762.5" x2="572.7" y2="779.1" stroke="#222" stroke-width="0.6" />
<path d="M572.7,779.1 A16.6,16.6 0 0 0 589.3,762.5" fill="none" stroke="#222" stroke-width="0.6" />
<line x1="606" y1="762.5" x2="606" y2="779.1" stroke="#222" stroke-width="0.6" />
<path d="M606,779.1 A16.6,16.6 0 0 1 589.4,762.5" fill="none" stroke="#222" stroke-width="0.6" />
<g transform="translate(657.3,778.9) rotate(58)" fill="#fff" stroke="#111" stroke-width="0.75" stroke-linejoin="round">
<path d="M-11,-3.5 L-9,-2.2 L-10.5,-0.8 L-9,0.3 L-10.5,1.8 L-9,2.6 L-10.5,4.3 Q-6,6.6 -1,5.8 Q3,5.6 5,4.5 L7.5,6 L8,4 Q12.5,3 13.5,0.3 Q12.8,-2.6 8,-3.6 L7.6,-5.8 L5,-4.3 Q1,-5.8 -3,-5.8 Q-8,-6.2 -11,-3.5 Z"/>
<path d="M5,-4.3 Q3,-2.5 2.4,0.2 Q3,3 5,4.5 M3,-1.5 L6.5,-2.3 M3,1.6 L6.5,2.4" fill="none" stroke-width="0.5"/>
</g>
<g transform="translate(686.3,778.9) rotate(112)" fill="#fff" stroke="#111" stroke-width="0.75" stroke-linejoin="round">
<path d="M-11,-3.5 L-9,-2.2 L-10.5,-0.8 L-9,0.3 L-10.5,1.8 L-9,2.6 L-10.5,4.3 Q-6,6.6 -1,5.8 Q3,5.6 5,4.5 L7.5,6 L8,4 Q12.5,3 13.5,0.3 Q12.8,-2.6 8,-3.6 L7.6,-5.8 L5,-4.3 Q1,-5.8 -3,-5.8 Q-8,-6.2 -11,-3.5 Z"/>
<path d="M5,-4.3 Q3,-2.5 2.4,0.2 Q3,3 5,4.5 M3,-1.5 L6.5,-2.3 M3,1.6 L6.5,2.4" fill="none" stroke-width="0.5"/>
</g>
<g transform="translate(629.3,795.9) rotate(180)" fill="#fff" stroke="#111" stroke-width="0.75" stroke-linejoin="round">
<path d="M-11,-3.5 L-9,-2.2 L-10.5,-0.8 L-9,0.3 L-10.5,1.8 L-9,2.6 L-10.5,4.3 Q-6,6.6 -1,5.8 Q3,5.6 5,4.5 L7.5,6 L8,4 Q12.5,3 13.5,0.3 Q12.8,-2.6 8,-3.6 L7.6,-5.8 L5,-4.3 Q1,-5.8 -3,-5.8 Q-8,-6.2 -11,-3.5 Z"/>
<path d="M5,-4.3 Q3,-2.5 2.4,0.2 Q3,3 5,4.5 M3,-1.5 L6.5,-2.3 M3,1.6 L6.5,2.4" fill="none" stroke-width="0.5"/>
</g>
<g transform="translate(595.3,841.3) rotate(0)" fill="#fff" stroke="#111" stroke-width="0.75" stroke-linejoin="round">
<path d="M-11,-3.5 L-9,-2.2 L-10.5,-0.8 L-9,0.3 L-10.5,1.8 L-9,2.6 L-10.5,4.3 Q-6,6.6 -1,5.8 Q3,5.6 5,4.5 L7.5,6 L8,4 Q12.5,3 13.5,0.3 Q12.8,-2.6 8,-3.6 L7.6,-5.8 L5,-4.3 Q1,-5.8 -3,-5.8 Q-8,-6.2 -11,-3.5 Z"/>
<path d="M5,-4.3 Q3,-2.5 2.4,0.2 Q3,3 5,4.5 M3,-1.5 L6.5,-2.3 M3,1.6 L6.5,2.4" fill="none" stroke-width="0.5"/>
</g>
<g transform="translate(593.6,864) rotate(-28)" fill="#fff" stroke="#111" stroke-width="0.75" stroke-linejoin="round">
<path d="M-11,-3.5 L-9,-2.2 L-10.5,-0.8 L-9,0.3 L-10.5,1.8 L-9,2.6 L-10.5,4.3 Q-6,6.6 -1,5.8 Q3,5.6 5,4.5 L7.5,6 L8,4 Q12.5,3 13.5,0.3 Q12.8,-2.6 8,-3.6 L7.6,-5.8 L5,-4.3 Q1,-5.8 -3,-5.8 Q-8,-6.2 -11,-3.5 Z"/>
<path d="M5,-4.3 Q3,-2.5 2.4,0.2 Q3,3 5,4.5 M3,-1.5 L6.5,-2.3 M3,1.6 L6.5,2.4" fill="none" stroke-width="0.5"/>
</g>
<circle cx="592.5" cy="44" r="26.5" fill="none" stroke="#333" stroke-width="0.7" />
<line x1="588" y1="44" x2="597" y2="44" stroke="#999" stroke-width="0.6" />
<line x1="592.5" y1="39.5" x2="592.5" y2="48.5" stroke="#999" stroke-width="0.6" />
<circle cx="592.5" cy="110.5" r="26.5" fill="none" stroke="#333" stroke-width="0.7" />
<line x1="588" y1="110.5" x2="597" y2="110.5" stroke="#999" stroke-width="0.6" />
<line x1="592.5" y1="106" x2="592.5" y2="115" stroke="#999" stroke-width="0.6" />
<circle cx="592.5" cy="178.5" r="26.5" fill="none" stroke="#333" stroke-width="0.7" />
<line x1="588" y1="178.5" x2="597" y2="178.5" stroke="#999" stroke-width="0.6" />
<line x1="592.5" y1="174" x2="592.5" y2="183" stroke="#999" stroke-width="0.6" />
<circle cx="592.5" cy="246" r="26.5" fill="none" stroke="#333" stroke-width="0.7" />
<line x1="588" y1="246" x2="597" y2="246" stroke="#999" stroke-width="0.6" />
<line x1="592.5" y1="241.5" x2="592.5" y2="250.5" stroke="#999" stroke-width="0.6" />
<rect x="697.2" y="1114.7" width="17.3" height="16.15" fill="#fff" stroke="#222" stroke-width="0.55" />
<line x1="697.2" y1="1114.7" x2="714.5" y2="1130.85" stroke="#222" stroke-width="0.49500000000000005" />
<line x1="697.2" y1="1130.85" x2="714.5" y2="1114.7" stroke="#222" stroke-width="0.49500000000000005" />
<rect x="697.2" y="1130.85" width="17.3" height="16.15" fill="#fff" stroke="#222" stroke-width="0.55" />
<line x1="697.2" y1="1130.85" x2="714.5" y2="1147" stroke="#222" stroke-width="0.49500000000000005" />
<line x1="697.2" y1="1147" x2="714.5" y2="1130.85" stroke="#222" stroke-width="0.49500000000000005" />
<rect x="697.2" y="1147" width="17.3" height="16.15" fill="#fff" stroke="#222" stroke-width="0.55" />
<line x1="697.2" y1="1147" x2="714.5" y2="1163.15" stroke="#222" stroke-width="0.49500000000000005" />
<line x1="697.2" y1="1163.15" x2="714.5" y2="1147" stroke="#222" stroke-width="0.49500000000000005" />
<rect x="697.2" y="1163.15" width="17.3" height="16.15" fill="#fff" stroke="#222" stroke-width="0.55" />
<line x1="697.2" y1="1163.15" x2="714.5" y2="1179.3" stroke="#222" stroke-width="0.49500000000000005" />
<line x1="697.2" y1="1179.3" x2="714.5" y2="1163.15" stroke="#222" stroke-width="0.49500000000000005" />
<rect x="744.1" y="1114.7" width="17.4" height="16.15" fill="#fff" stroke="#222" stroke-width="0.55" />
<line x1="744.1" y1="1114.7" x2="761.5" y2="1130.85" stroke="#222" stroke-width="0.49500000000000005" />
<line x1="744.1" y1="1130.85" x2="761.5" y2="1114.7" stroke="#222" stroke-width="0.49500000000000005" />
<rect x="744.1" y="1130.85" width="17.4" height="16.15" fill="#fff" stroke="#222" stroke-width="0.55" />
<line x1="744.1" y1="1130.85" x2="761.5" y2="1147" stroke="#222" stroke-width="0.49500000000000005" />
<line x1="744.1" y1="1147" x2="761.5" y2="1130.85" stroke="#222" stroke-width="0.49500000000000005" />
<rect x="744.1" y="1147" width="17.4" height="16.15" fill="#fff" stroke="#222" stroke-width="0.55" />
<line x1="744.1" y1="1147" x2="761.5" y2="1163.15" stroke="#222" stroke-width="0.49500000000000005" />
<line x1="744.1" y1="1163.15" x2="761.5" y2="1147" stroke="#222" stroke-width="0.49500000000000005" />
<rect x="744.1" y="1163.15" width="17.4" height="16.15" fill="#fff" stroke="#222" stroke-width="0.55" />
<line x1="744.1" y1="1163.15" x2="761.5" y2="1179.3" stroke="#222" stroke-width="0.49500000000000005" />
<line x1="744.1" y1="1179.3" x2="761.5" y2="1163.15" stroke="#222" stroke-width="0.49500000000000005" />
<line x1="714.5" y1="1114.7" x2="714.5" y2="1179.3" stroke="#222" stroke-width="0.7" />
<line x1="744.1" y1="1114.7" x2="744.1" y2="1179.3" stroke="#222" stroke-width="0.7" />
<rect x="720.3" y="1110.9" width="17.7" height="3.9" fill="#fff" stroke="#555" stroke-width="0.4" />
<line x1="719.9" y1="1111.5" x2="719.9" y2="1093.4" stroke="#222" stroke-width="0.6" />
<path d="M719.9,1093.4 A18.1,18.1 0 0 1 738,1111.5" fill="none" stroke="#222" stroke-width="0.6" />
<line x1="359" y1="349.1" x2="487" y2="349.1" stroke="#666" stroke-width="0.6" stroke-dasharray="22 12" stroke-dashoffset="-4"/>
<line x1="359" y1="353.5" x2="487" y2="353.5" stroke="#666" stroke-width="0.6" stroke-dasharray="22 12" stroke-dashoffset="2"/>
<line x1="222" y1="553.4" x2="626" y2="553.4" stroke="#666" stroke-width="0.6" stroke-dasharray="22 12" stroke-dashoffset="5"/>
<line x1="222" y1="557.8" x2="626" y2="557.8" stroke="#666" stroke-width="0.6" stroke-dasharray="22 12" stroke-dashoffset="11"/>
<line x1="290" y1="688.8" x2="626" y2="688.8" stroke="#666" stroke-width="0.6" stroke-dasharray="22 12" stroke-dashoffset="0"/>
<line x1="290" y1="693.2" x2="626" y2="693.2" stroke="#666" stroke-width="0.6" stroke-dasharray="22 12" stroke-dashoffset="6"/>
<line x1="322" y1="825" x2="489" y2="825" stroke="#666" stroke-width="0.6" stroke-dasharray="22 12" stroke-dashoffset="0"/>
<line x1="322" y1="829.4" x2="489" y2="829.4" stroke="#666" stroke-width="0.6" stroke-dasharray="22 12" stroke-dashoffset="6"/>
<line x1="497" y1="825" x2="555" y2="825" stroke="#666" stroke-width="0.6" stroke-dasharray="22 12" stroke-dashoffset="3"/>
<line x1="497" y1="829.4" x2="555" y2="829.4" stroke="#666" stroke-width="0.6" stroke-dasharray="22 12" stroke-dashoffset="9"/>
<line x1="222" y1="484.3" x2="432" y2="484.3" stroke="#888" stroke-width="0.6" stroke-dasharray="22 12" stroke-dashoffset="10"/>
<line x1="222" y1="488.7" x2="432" y2="488.7" stroke="#888" stroke-width="0.6" stroke-dasharray="22 12" stroke-dashoffset="16"/>
<line x1="358.4" y1="491" x2="358.4" y2="521" stroke="#333" stroke-width="0.6" stroke-dasharray="14 4"/>
<line x1="358.4" y1="643" x2="358.4" y2="688" stroke="#333" stroke-width="0.6" stroke-dasharray="14 4"/>
<line x1="487.6" y1="494" x2="487.6" y2="521" stroke="#333" stroke-width="0.6" stroke-dasharray="14 4"/>
<line x1="487.6" y1="643" x2="487.6" y2="688" stroke="#333" stroke-width="0.6" stroke-dasharray="14 4"/>
<line x1="631" y1="553.4" x2="691" y2="553.4" stroke="#666" stroke-width="0.6" stroke-dasharray="22 12" stroke-dashoffset="2"/>
<line x1="631" y1="557.8" x2="691" y2="557.8" stroke="#666" stroke-width="0.6" stroke-dasharray="22 12" stroke-dashoffset="8"/>
<line x1="631" y1="688.8" x2="691" y2="688.8" stroke="#666" stroke-width="0.6" stroke-dasharray="22 12" stroke-dashoffset="8"/>
<line x1="631" y1="693.2" x2="691" y2="693.2" stroke="#666" stroke-width="0.6" stroke-dasharray="22 12" stroke-dashoffset="14"/>
<rect x="145.9" y="32.3" width="12" height="12" fill="#fff" stroke="#aaa" stroke-width="0.6" />
<text transform="translate(151.9,41.6) scale(0.75,1)" font-size="9.4" text-anchor="middle" font-weight="normal" fill="#2a2a2a" >A</text>
<line x1="151.9" y1="1036" x2="151.9" y2="1077" stroke="#aaa" stroke-width="0.5" />
<rect x="145.4" y="1077.5" width="12" height="12" fill="#fff" stroke="#aaa" stroke-width="0.6" />
<text transform="translate(151.4,1086.8) scale(0.75,1)" font-size="9.4" text-anchor="middle" font-weight="normal" fill="#2a2a2a" >A</text>
<rect x="212.8" y="32.3" width="12" height="12" fill="#fff" stroke="#aaa" stroke-width="0.6" />
<text transform="translate(218.8,41.6) scale(0.75,1)" font-size="9.4" text-anchor="middle" font-weight="normal" fill="#2a2a2a" >B</text>
<line x1="218.8" y1="1036" x2="218.8" y2="1077" stroke="#aaa" stroke-width="0.5" />
<rect x="212.3" y="1077.5" width="12" height="12" fill="#fff" stroke="#aaa" stroke-width="0.6" />
<text transform="translate(218.3,1086.8) scale(0.75,1)" font-size="9.4" text-anchor="middle" font-weight="normal" fill="#2a2a2a" >B</text>
<line x1="286.4" y1="44.3" x2="286.4" y2="77" stroke="#aaa" stroke-width="0.5" />
<rect x="280.4" y="32.3" width="12" height="12" fill="#fff" stroke="#aaa" stroke-width="0.6" />
<text transform="translate(286.4,41.6) scale(0.75,1)" font-size="9.4" text-anchor="middle" font-weight="normal" fill="#2a2a2a" >C</text>
<line x1="286.4" y1="1036" x2="286.4" y2="1077" stroke="#aaa" stroke-width="0.5" />
<rect x="279.9" y="1077.5" width="12" height="12" fill="#fff" stroke="#aaa" stroke-width="0.6" />
<text transform="translate(285.9,1086.8) scale(0.75,1)" font-size="9.4" text-anchor="middle" font-weight="normal" fill="#2a2a2a" >C</text>
<line x1="354.8" y1="44.3" x2="354.8" y2="77" stroke="#aaa" stroke-width="0.5" />
<rect x="348.8" y="32.3" width="12" height="12" fill="#fff" stroke="#aaa" stroke-width="0.6" />
<text transform="translate(354.8,41.6) scale(0.75,1)" font-size="9.4" text-anchor="middle" font-weight="normal" fill="#2a2a2a" >D</text>
<line x1="354.8" y1="1036" x2="354.8" y2="1077" stroke="#aaa" stroke-width="0.5" />
<rect x="348.3" y="1077.5" width="12" height="12" fill="#fff" stroke="#aaa" stroke-width="0.6" />
<text transform="translate(354.3,1086.8) scale(0.75,1)" font-size="9.4" text-anchor="middle" font-weight="normal" fill="#2a2a2a" >D</text>
<line x1="490.5" y1="44.3" x2="490.5" y2="77" stroke="#aaa" stroke-width="0.5" />
<rect x="484.5" y="32.3" width="12" height="12" fill="#fff" stroke="#aaa" stroke-width="0.6" />
<text transform="translate(490.5,41.6) scale(0.75,1)" font-size="9.4" text-anchor="middle" font-weight="normal" fill="#2a2a2a" >E</text>
<line x1="490.5" y1="1036" x2="490.5" y2="1077" stroke="#aaa" stroke-width="0.5" />
<rect x="484" y="1077.5" width="12" height="12" fill="#fff" stroke="#aaa" stroke-width="0.6" />
<text transform="translate(490,1086.8) scale(0.75,1)" font-size="9.4" text-anchor="middle" font-weight="normal" fill="#2a2a2a" >E</text>
<line x1="626.3" y1="44.3" x2="626.3" y2="77" stroke="#aaa" stroke-width="0.5" />
<rect x="620.3" y="32.3" width="12" height="12" fill="#fff" stroke="#aaa" stroke-width="0.6" />
<text transform="translate(626.3,41.6) scale(0.75,1)" font-size="9.4" text-anchor="middle" font-weight="normal" fill="#2a2a2a" >F</text>
<line x1="626.3" y1="1036" x2="626.3" y2="1077" stroke="#aaa" stroke-width="0.5" />
<rect x="619.8" y="1077.5" width="12" height="12" fill="#fff" stroke="#aaa" stroke-width="0.6" />
<text transform="translate(625.8,1086.8) scale(0.75,1)" font-size="9.4" text-anchor="middle" font-weight="normal" fill="#2a2a2a" >F</text>
<rect x="687.8" y="32.3" width="12" height="12" fill="#fff" stroke="#aaa" stroke-width="0.6" />
<text transform="translate(693.8,41.6) scale(0.75,1)" font-size="9.4" text-anchor="middle" font-weight="normal" fill="#2a2a2a" >G</text>
<rect x="687.3" y="1077.5" width="12" height="12" fill="#fff" stroke="#aaa" stroke-width="0.6" />
<text transform="translate(693.3,1086.8) scale(0.75,1)" font-size="9.4" text-anchor="middle" font-weight="normal" fill="#2a2a2a" >G</text>
<circle cx="151.9" cy="49.8" r="3.6" fill="#fff" stroke="#333" stroke-width="0.6" />
<line x1="155.67" y1="52.44" x2="158.45" y2="54.39" stroke="#333" stroke-width="0.6" />
<line x1="148.13" y1="52.44" x2="145.35" y2="54.39" stroke="#333" stroke-width="0.6" />
<line x1="148.13" y1="47.16" x2="145.35" y2="45.21" stroke="#333" stroke-width="0.6" />
<line x1="155.67" y1="47.16" x2="158.45" y2="45.21" stroke="#333" stroke-width="0.6" />
<circle cx="218.3" cy="49.8" r="3.6" fill="#fff" stroke="#333" stroke-width="0.6" />
<line x1="222.07" y1="52.44" x2="224.85" y2="54.39" stroke="#333" stroke-width="0.6" />
<line x1="214.53" y1="52.44" x2="211.75" y2="54.39" stroke="#333" stroke-width="0.6" />
<line x1="214.53" y1="47.16" x2="211.75" y2="45.21" stroke="#333" stroke-width="0.6" />
<line x1="222.07" y1="47.16" x2="224.85" y2="45.21" stroke="#333" stroke-width="0.6" />
<rect x="36" y="141" width="12" height="12" fill="#fff" stroke="#aaa" stroke-width="0.6" />
<text transform="translate(42,150.3) scale(0.75,1)" font-size="9.4" text-anchor="middle" font-weight="normal" fill="#2a2a2a" >1</text>
<line x1="48" y1="147" x2="92" y2="147" stroke="#bbb" stroke-width="0.5" />
<rect x="36" y="277.3" width="12" height="12" fill="#fff" stroke="#aaa" stroke-width="0.6" />
<text transform="translate(42,286.6) scale(0.75,1)" font-size="9.4" text-anchor="middle" font-weight="normal" fill="#2a2a2a" >2</text>
<line x1="48" y1="283.3" x2="92" y2="283.3" stroke="#bbb" stroke-width="0.5" />
<rect x="36" y="345.4" width="12" height="12" fill="#fff" stroke="#aaa" stroke-width="0.6" />
<text transform="translate(42,354.7) scale(0.75,1)" font-size="9.4" text-anchor="middle" font-weight="normal" fill="#2a2a2a" >3</text>
<line x1="48" y1="351.4" x2="92" y2="351.4" stroke="#bbb" stroke-width="0.5" />
<rect x="36" y="481.4" width="12" height="12" fill="#fff" stroke="#aaa" stroke-width="0.6" />
<text transform="translate(42,490.7) scale(0.75,1)" font-size="9.4" text-anchor="middle" font-weight="normal" fill="#2a2a2a" >4</text>
<line x1="48" y1="487.4" x2="92" y2="487.4" stroke="#bbb" stroke-width="0.5" />
<rect x="36" y="549" width="12" height="12" fill="#fff" stroke="#aaa" stroke-width="0.6" />
<text transform="translate(42,558.3) scale(0.75,1)" font-size="9.4" text-anchor="middle" font-weight="normal" fill="#2a2a2a" >5</text>
<line x1="48" y1="555" x2="92" y2="555" stroke="#bbb" stroke-width="0.5" />
<rect x="36" y="685" width="12" height="12" fill="#fff" stroke="#aaa" stroke-width="0.6" />
<text transform="translate(42,694.3) scale(0.75,1)" font-size="9.4" text-anchor="middle" font-weight="normal" fill="#2a2a2a" >6</text>
<line x1="48" y1="691" x2="92" y2="691" stroke="#bbb" stroke-width="0.5" />
<rect x="36" y="821" width="12" height="12" fill="#fff" stroke="#aaa" stroke-width="0.6" />
<text transform="translate(42,830.3) scale(0.75,1)" font-size="9.4" text-anchor="middle" font-weight="normal" fill="#2a2a2a" >7</text>
<line x1="48" y1="827" x2="92" y2="827" stroke="#bbb" stroke-width="0.5" />
<rect x="36" y="956.4" width="12" height="12" fill="#fff" stroke="#aaa" stroke-width="0.6" />
<text transform="translate(42,965.7) scale(0.75,1)" font-size="9.4" text-anchor="middle" font-weight="normal" fill="#2a2a2a" >8</text>
<line x1="48" y1="962.4" x2="92" y2="962.4" stroke="#bbb" stroke-width="0.5" />
<rect x="807" y="141" width="12" height="12" fill="#fff" stroke="#aaa" stroke-width="0.6" />
<text transform="translate(813,150.3) scale(0.75,1)" font-size="9.4" text-anchor="middle" font-weight="normal" fill="#2a2a2a" >1</text>
<line x1="768" y1="147" x2="807" y2="147" stroke="#bbb" stroke-width="0.5" />
<rect x="807" y="277.3" width="12" height="12" fill="#fff" stroke="#aaa" stroke-width="0.6" />
<text transform="translate(813,286.6) scale(0.75,1)" font-size="9.4" text-anchor="middle" font-weight="normal" fill="#2a2a2a" >2</text>
<line x1="768" y1="283.3" x2="807" y2="283.3" stroke="#bbb" stroke-width="0.5" />
<rect x="807" y="345.4" width="12" height="12" fill="#fff" stroke="#aaa" stroke-width="0.6" />
<text transform="translate(813,354.7) scale(0.75,1)" font-size="9.4" text-anchor="middle" font-weight="normal" fill="#2a2a2a" >3</text>
<line x1="768" y1="351.4" x2="807" y2="351.4" stroke="#bbb" stroke-width="0.5" />
<rect x="807" y="481.4" width="12" height="12" fill="#fff" stroke="#aaa" stroke-width="0.6" />
<text transform="translate(813,490.7) scale(0.75,1)" font-size="9.4" text-anchor="middle" font-weight="normal" fill="#2a2a2a" >4</text>
<line x1="768" y1="487.4" x2="807" y2="487.4" stroke="#bbb" stroke-width="0.5" />
<rect x="807" y="549" width="12" height="12" fill="#fff" stroke="#aaa" stroke-width="0.6" />
<text transform="translate(813,558.3) scale(0.75,1)" font-size="9.4" text-anchor="middle" font-weight="normal" fill="#2a2a2a" >5</text>
<line x1="768" y1="555" x2="807" y2="555" stroke="#bbb" stroke-width="0.5" />
<rect x="807" y="685" width="12" height="12" fill="#fff" stroke="#aaa" stroke-width="0.6" />
<text transform="translate(813,694.3) scale(0.75,1)" font-size="9.4" text-anchor="middle" font-weight="normal" fill="#2a2a2a" >6</text>
<line x1="768" y1="691" x2="807" y2="691" stroke="#bbb" stroke-width="0.5" />
<rect x="807" y="821" width="12" height="12" fill="#fff" stroke="#aaa" stroke-width="0.6" />
<text transform="translate(813,830.3) scale(0.75,1)" font-size="9.4" text-anchor="middle" font-weight="normal" fill="#2a2a2a" >7</text>
<line x1="768" y1="827" x2="807" y2="827" stroke="#bbb" stroke-width="0.5" />
<rect x="807" y="956.4" width="12" height="12" fill="#fff" stroke="#aaa" stroke-width="0.6" />
<text transform="translate(813,965.7) scale(0.75,1)" font-size="9.4" text-anchor="middle" font-weight="normal" fill="#2a2a2a" >8</text>
<line x1="768" y1="962.4" x2="807" y2="962.4" stroke="#bbb" stroke-width="0.5" />
<line x1="148" y1="53" x2="700" y2="53" stroke="#d6d6d6" stroke-width="0.5" />
<line x1="148" y1="63.5" x2="700" y2="63.5" stroke="#d6d6d6" stroke-width="0.5" />
<line x1="148" y1="74" x2="700" y2="74" stroke="#d6d6d6" stroke-width="0.5" />
<line x1="151" y1="1045.5" x2="700" y2="1045.5" stroke="#d6d6d6" stroke-width="0.5" />
<line x1="80" y1="1055.5" x2="700" y2="1055.5" stroke="#d6d6d6" stroke-width="0.5" />
<line x1="151" y1="1065.5" x2="700" y2="1065.5" stroke="#d6d6d6" stroke-width="0.5" />
<line x1="58" y1="140" x2="58" y2="965" stroke="#d6d6d6" stroke-width="0.5" />
<line x1="68" y1="140" x2="68" y2="1000" stroke="#d6d6d6" stroke-width="0.5" />
<line x1="79" y1="140" x2="79" y2="965" stroke="#d6d6d6" stroke-width="0.5" />
<line x1="778" y1="50" x2="778" y2="1000" stroke="#d6d6d6" stroke-width="0.5" />
<line x1="788" y1="50" x2="788" y2="1000" stroke="#d6d6d6" stroke-width="0.5" />
<line x1="798" y1="50" x2="798" y2="1000" stroke="#d6d6d6" stroke-width="0.5" />
<line x1="40" y1="63.5" x2="148" y2="63.5" stroke="#d6d6d6" stroke-width="0.5" />
<line x1="68" y1="50" x2="68" y2="140" stroke="#d6d6d6" stroke-width="0.5" />
<text transform="translate(184.6,53) scale(0.75,1)" font-size="9.6" text-anchor="middle" font-weight="normal" fill="#333" stroke="#fff" stroke-width="1.8" paint-order="stroke" stroke-linejoin="round">300</text>
<text transform="translate(181.7,64) scale(0.75,1)" font-size="9.6" text-anchor="middle" font-weight="normal" fill="#333" stroke="#fff" stroke-width="1.8" paint-order="stroke" stroke-linejoin="round">300</text>
<text transform="translate(181.7,74.4) scale(0.75,1)" font-size="9.6" text-anchor="middle" font-weight="normal" fill="#333" stroke="#fff" stroke-width="1.8" paint-order="stroke" stroke-linejoin="round">300</text>
<text transform="translate(253,53) scale(0.75,1)" font-size="9.6" text-anchor="middle" font-weight="normal" fill="#333" stroke="#fff" stroke-width="1.8" paint-order="stroke" stroke-linejoin="round">300</text>
<text transform="translate(320.6,53) scale(0.75,1)" font-size="9.6" text-anchor="middle" font-weight="normal" fill="#333" stroke="#fff" stroke-width="1.8" paint-order="stroke" stroke-linejoin="round">300</text>
<text transform="translate(354.8,64) scale(0.75,1)" font-size="9.6" text-anchor="middle" font-weight="normal" fill="#333" stroke="#fff" stroke-width="1.8" paint-order="stroke" stroke-linejoin="round">1 224</text>
<text transform="translate(231.6,74.4) scale(0.75,1)" font-size="9.6" text-anchor="middle" font-weight="normal" fill="#333" stroke="#fff" stroke-width="1.8" paint-order="stroke" stroke-linejoin="round">40</text>
<text transform="translate(258.1,74.4) scale(0.75,1)" font-size="9.6" text-anchor="middle" font-weight="normal" fill="#333" stroke="#fff" stroke-width="1.8" paint-order="stroke" stroke-linejoin="round">250</text>
<text transform="translate(320,74.4) scale(0.75,1)" font-size="9.6" text-anchor="middle" font-weight="normal" fill="#333" stroke="#fff" stroke-width="1.8" paint-order="stroke" stroke-linejoin="round">340</text>
<text transform="translate(387,74.4) scale(0.75,1)" font-size="9.6" text-anchor="middle" font-weight="normal" fill="#333" stroke="#fff" stroke-width="1.8" paint-order="stroke" stroke-linejoin="round">250</text>
<text transform="translate(421,53) scale(0.75,1)" font-size="9.6" text-anchor="middle" font-weight="normal" fill="#333" stroke="#fff" stroke-width="1.8" paint-order="stroke" stroke-linejoin="round">600</text>
<text transform="translate(454,74.4) scale(0.75,1)" font-size="9.6" text-anchor="middle" font-weight="normal" fill="#333" stroke="#fff" stroke-width="1.8" paint-order="stroke" stroke-linejoin="round">344</text>
<text transform="translate(503.5,74.4) scale(0.75,1)" font-size="9.6" text-anchor="middle" font-weight="normal" fill="#333" stroke="#fff" stroke-width="1.8" paint-order="stroke" stroke-linejoin="round">20</text>
<text transform="translate(530,74.4) scale(0.75,1)" font-size="9.6" text-anchor="middle" font-weight="normal" fill="#333" stroke="#fff" stroke-width="1.8" paint-order="stroke" stroke-linejoin="round">250</text>
<text transform="translate(557,53) scale(0.75,1)" font-size="9.6" text-anchor="middle" font-weight="normal" fill="#333" stroke="#fff" stroke-width="1.8" paint-order="stroke" stroke-linejoin="round">600</text>
<text transform="translate(592.5,64) scale(0.75,1)" font-size="9.6" text-anchor="middle" font-weight="normal" fill="#333" stroke="#fff" stroke-width="1.8" paint-order="stroke" stroke-linejoin="round">900</text>
<text transform="translate(570.5,74.4) scale(0.75,1)" font-size="9.6" text-anchor="middle" font-weight="normal" fill="#333" stroke="#fff" stroke-width="1.8" paint-order="stroke" stroke-linejoin="round">45</text>
<text transform="translate(596.5,74.4) scale(0.75,1)" font-size="9.6" text-anchor="middle" font-weight="normal" fill="#333" stroke="#fff" stroke-width="1.8" paint-order="stroke" stroke-linejoin="round">250</text>
<text transform="translate(631.5,74.4) scale(0.75,1)" font-size="9.6" text-anchor="middle" font-weight="normal" fill="#333" stroke="#fff" stroke-width="1.8" paint-order="stroke" stroke-linejoin="round">100</text>
<text transform="translate(660,74.4) scale(0.75,1)" font-size="9.6" text-anchor="middle" font-weight="normal" fill="#333" stroke="#fff" stroke-width="1.8" paint-order="stroke" stroke-linejoin="round">150</text>
<text transform="translate(686.5,74.4) scale(0.75,1)" font-size="9.6" text-anchor="middle" font-weight="normal" fill="#333" stroke="#fff" stroke-width="1.8" paint-order="stroke" stroke-linejoin="round">85</text>
<text transform="translate(660,53) scale(0.75,1)" font-size="9.6" text-anchor="middle" font-weight="normal" fill="#333" stroke="#fff" stroke-width="1.8" paint-order="stroke" stroke-linejoin="round">300</text>
<text transform="translate(114,64) scale(0.75,1)" font-size="9.6" text-anchor="middle" font-weight="normal" fill="#333" stroke="#fff" stroke-width="1.8" paint-order="stroke" stroke-linejoin="round">298</text>
<text transform="translate(729,64) scale(0.75,1)" font-size="9.6" text-anchor="middle" font-weight="normal" fill="#333" stroke="#fff" stroke-width="1.8" paint-order="stroke" stroke-linejoin="round">298</text>
<text transform="translate(58.3,215.7) rotate(-90) scale(0.75,1)" font-size="9.6" text-anchor="middle" font-weight="normal" fill="#333" stroke="#fff" stroke-width="1.8" paint-order="stroke" stroke-linejoin="round">600</text>
<text transform="translate(78.3,198.5) rotate(-90) scale(0.75,1)" font-size="9.6" text-anchor="middle" font-weight="normal" fill="#333" stroke="#fff" stroke-width="1.8" paint-order="stroke" stroke-linejoin="round">471</text>
<text transform="translate(78.3,261.7) rotate(-90) scale(0.75,1)" font-size="9.6" text-anchor="middle" font-weight="normal" fill="#333" stroke="#fff" stroke-width="1.8" paint-order="stroke" stroke-linejoin="round">90</text>
<text transform="translate(58.3,317.5) rotate(-90) scale(0.75,1)" font-size="9.6" text-anchor="middle" font-weight="normal" fill="#333" stroke="#fff" stroke-width="1.8" paint-order="stroke" stroke-linejoin="round">300</text>
<text transform="translate(68.2,349) rotate(-90) scale(0.75,1)" font-size="9.6" text-anchor="middle" font-weight="normal" fill="#333" stroke="#fff" stroke-width="1.8" paint-order="stroke" stroke-linejoin="round">1 800</text>
<text transform="translate(78.3,366.8) rotate(-90) scale(0.75,1)" font-size="9.6" text-anchor="middle" font-weight="normal" fill="#333" stroke="#fff" stroke-width="1.8" paint-order="stroke" stroke-linejoin="round">840</text>
<text transform="translate(58.3,419.9) rotate(-90) scale(0.75,1)" font-size="9.6" text-anchor="middle" font-weight="normal" fill="#333" stroke="#fff" stroke-width="1.8" paint-order="stroke" stroke-linejoin="round">600</text>
<text transform="translate(78.3,472.3) rotate(-90) scale(0.75,1)" font-size="9.6" text-anchor="middle" font-weight="normal" fill="#333" stroke="#fff" stroke-width="1.8" paint-order="stroke" stroke-linejoin="round">90</text>
<text transform="translate(57.6,521.2) rotate(-90) scale(0.75,1)" font-size="9.6" text-anchor="middle" font-weight="normal" fill="#333" stroke="#fff" stroke-width="1.8" paint-order="stroke" stroke-linejoin="round">300</text>
<text transform="translate(78.4,498.6) rotate(-90) scale(0.75,1)" font-size="9.6" text-anchor="middle" font-weight="normal" fill="#333" stroke="#fff" stroke-width="1.8" paint-order="stroke" stroke-linejoin="round">40</text>
<text transform="translate(78.4,520.3) rotate(-90) scale(0.75,1)" font-size="9.6" text-anchor="middle" font-weight="normal" fill="#333" stroke="#fff" stroke-width="1.8" paint-order="stroke" stroke-linejoin="round">250</text>
<text transform="translate(78.4,542) rotate(-90) scale(0.75,1)" font-size="9.6" text-anchor="middle" font-weight="normal" fill="#333" stroke="#fff" stroke-width="1.8" paint-order="stroke" stroke-linejoin="round">20</text>
<text transform="translate(78.4,566.7) rotate(-90) scale(0.75,1)" font-size="9.6" text-anchor="middle" font-weight="normal" fill="#333" stroke="#fff" stroke-width="1.8" paint-order="stroke" stroke-linejoin="round">32</text>
<text transform="translate(78.4,593.5) rotate(-90) scale(0.75,1)" font-size="9.6" text-anchor="middle" font-weight="normal" fill="#333" stroke="#fff" stroke-width="1.8" paint-order="stroke" stroke-linejoin="round">250</text>
<text transform="translate(57.6,623) rotate(-90) scale(0.75,1)" font-size="9.6" text-anchor="middle" font-weight="normal" fill="#333" stroke="#fff" stroke-width="1.8" paint-order="stroke" stroke-linejoin="round">600</text>
<text transform="translate(78.4,630.8) rotate(-90) scale(0.75,1)" font-size="9.6" text-anchor="middle" font-weight="normal" fill="#333" stroke="#fff" stroke-width="1.8" paint-order="stroke" stroke-linejoin="round">32</text>
<text transform="translate(78.4,656.8) rotate(-90) scale(0.75,1)" font-size="9.6" text-anchor="middle" font-weight="normal" fill="#333" stroke="#fff" stroke-width="1.8" paint-order="stroke" stroke-linejoin="round">250</text>
<text transform="translate(68.4,691) rotate(-90) scale(0.75,1)" font-size="9.6" text-anchor="middle" font-weight="normal" fill="#333" stroke="#fff" stroke-width="1.8" paint-order="stroke" stroke-linejoin="round">1 224</text>
<text transform="translate(57.6,757.3) rotate(-90) scale(0.75,1)" font-size="9.6" text-anchor="middle" font-weight="normal" fill="#333" stroke="#fff" stroke-width="1.8" paint-order="stroke" stroke-linejoin="round">604</text>
<text transform="translate(78.4,755.1) rotate(-90) scale(0.75,1)" font-size="9.6" text-anchor="middle" font-weight="normal" fill="#333" stroke="#fff" stroke-width="1.8" paint-order="stroke" stroke-linejoin="round">660</text>
<text transform="translate(78.4,848.3) rotate(-90) scale(0.75,1)" font-size="9.6" text-anchor="middle" font-weight="normal" fill="#333" stroke="#fff" stroke-width="1.8" paint-order="stroke" stroke-linejoin="round">48</text>
<text transform="translate(78.4,862.2) rotate(-90) scale(0.75,1)" font-size="9.6" text-anchor="middle" font-weight="normal" fill="#333" stroke="#fff" stroke-width="1.8" paint-order="stroke" stroke-linejoin="round">150</text>
<text transform="translate(57.6,895.1) rotate(-90) scale(0.75,1)" font-size="9.6" text-anchor="middle" font-weight="normal" fill="#333" stroke="#fff" stroke-width="1.8" paint-order="stroke" stroke-linejoin="round">596</text>
<text transform="translate(68.4,898.1) rotate(-90) scale(0.75,1)" font-size="9.6" text-anchor="middle" font-weight="normal" fill="#333" stroke="#fff" stroke-width="1.8" paint-order="stroke" stroke-linejoin="round">600</text>
<text transform="translate(78.4,919.8) rotate(-90) scale(0.75,1)" font-size="9.6" text-anchor="middle" font-weight="normal" fill="#333" stroke="#fff" stroke-width="1.8" paint-order="stroke" stroke-linejoin="round">400</text>
<text transform="translate(68.4,995.6) rotate(-90) scale(0.75,1)" font-size="9.6" text-anchor="middle" font-weight="normal" fill="#333" stroke="#fff" stroke-width="1.8" paint-order="stroke" stroke-linejoin="round">298</text>
<text transform="translate(68.4,108) rotate(-90) scale(0.75,1)" font-size="9.6" text-anchor="middle" font-weight="normal" fill="#333" stroke="#fff" stroke-width="1.8" paint-order="stroke" stroke-linejoin="round">298</text>
<text transform="translate(774.9,112) rotate(-90) scale(0.75,1)" font-size="9.6" text-anchor="middle" font-weight="normal" fill="#333" stroke="#fff" stroke-width="1.8" paint-order="stroke" stroke-linejoin="round">298</text>
<text transform="translate(777.4,247) rotate(-90) scale(0.75,1)" font-size="9.6" text-anchor="middle" font-weight="normal" fill="#333" stroke="#fff" stroke-width="1.8" paint-order="stroke" stroke-linejoin="round">900</text>
<text transform="translate(786.4,215) rotate(-90) scale(0.75,1)" font-size="9.6" text-anchor="middle" font-weight="normal" fill="#333" stroke="#fff" stroke-width="1.8" paint-order="stroke" stroke-linejoin="round">630</text>
<text transform="translate(796.4,215) rotate(-90) scale(0.75,1)" font-size="9.6" text-anchor="middle" font-weight="normal" fill="#333" stroke="#fff" stroke-width="1.8" paint-order="stroke" stroke-linejoin="round">600</text>
<text transform="translate(786.4,313) rotate(-90) scale(0.75,1)" font-size="9.6" text-anchor="middle" font-weight="normal" fill="#333" stroke="#fff" stroke-width="1.8" paint-order="stroke" stroke-linejoin="round">250</text>
<text transform="translate(796.4,317) rotate(-90) scale(0.75,1)" font-size="9.6" text-anchor="middle" font-weight="normal" fill="#333" stroke="#fff" stroke-width="1.8" paint-order="stroke" stroke-linejoin="round">300</text>
<text transform="translate(786.4,338) rotate(-90) scale(0.75,1)" font-size="9.6" text-anchor="middle" font-weight="normal" fill="#333" stroke="#fff" stroke-width="1.8" paint-order="stroke" stroke-linejoin="round">20</text>
<text transform="translate(786.4,364) rotate(-90) scale(0.75,1)" font-size="9.6" text-anchor="middle" font-weight="normal" fill="#333" stroke="#fff" stroke-width="1.8" paint-order="stroke" stroke-linejoin="round">37</text>
<text transform="translate(774.9,386) rotate(-90) scale(0.75,1)" font-size="9.6" text-anchor="middle" font-weight="normal" fill="#333" stroke="#fff" stroke-width="1.8" paint-order="stroke" stroke-linejoin="round">324</text>
<text transform="translate(786.4,386) rotate(-90) scale(0.75,1)" font-size="9.6" text-anchor="middle" font-weight="normal" fill="#333" stroke="#fff" stroke-width="1.8" paint-order="stroke" stroke-linejoin="round">250</text>
<text transform="translate(786.4,407) rotate(-90) scale(0.75,1)" font-size="9.6" text-anchor="middle" font-weight="normal" fill="#333" stroke="#fff" stroke-width="1.8" paint-order="stroke" stroke-linejoin="round">37</text>
<text transform="translate(796.4,420) rotate(-90) scale(0.75,1)" font-size="9.6" text-anchor="middle" font-weight="normal" fill="#333" stroke="#fff" stroke-width="1.8" paint-order="stroke" stroke-linejoin="round">600</text>
<text transform="translate(774.9,453) rotate(-90) scale(0.75,1)" font-size="9.6" text-anchor="middle" font-weight="normal" fill="#333" stroke="#fff" stroke-width="1.8" paint-order="stroke" stroke-linejoin="round">276</text>
<text transform="translate(786.4,453) rotate(-90) scale(0.75,1)" font-size="9.6" text-anchor="middle" font-weight="normal" fill="#333" stroke="#fff" stroke-width="1.8" paint-order="stroke" stroke-linejoin="round">276</text>
<text transform="translate(786.4,478) rotate(-90) scale(0.75,1)" font-size="9.6" text-anchor="middle" font-weight="normal" fill="#333" stroke="#fff" stroke-width="1.8" paint-order="stroke" stroke-linejoin="round">27</text>
<text transform="translate(786.4,516) rotate(-90) scale(0.75,1)" font-size="9.6" text-anchor="middle" font-weight="normal" fill="#333" stroke="#fff" stroke-width="1.8" paint-order="stroke" stroke-linejoin="round">266</text>
<text transform="translate(796.4,521) rotate(-90) scale(0.75,1)" font-size="9.6" text-anchor="middle" font-weight="normal" fill="#333" stroke="#fff" stroke-width="1.8" paint-order="stroke" stroke-linejoin="round">300</text>
<text transform="translate(786.4,544) rotate(-90) scale(0.75,1)" font-size="9.6" text-anchor="middle" font-weight="normal" fill="#333" stroke="#fff" stroke-width="1.8" paint-order="stroke" stroke-linejoin="round">30</text>
<text transform="translate(774.9,626) rotate(-90) scale(0.75,1)" font-size="9.6" text-anchor="middle" font-weight="normal" fill="#333" stroke="#fff" stroke-width="1.8" paint-order="stroke" stroke-linejoin="round">1 224</text>
<text transform="translate(786.4,622) rotate(-90) scale(0.75,1)" font-size="9.6" text-anchor="middle" font-weight="normal" fill="#333" stroke="#fff" stroke-width="1.8" paint-order="stroke" stroke-linejoin="round">575</text>
<text transform="translate(796.4,623) rotate(-90) scale(0.75,1)" font-size="9.6" text-anchor="middle" font-weight="normal" fill="#333" stroke="#fff" stroke-width="1.8" paint-order="stroke" stroke-linejoin="round">600</text>
<text transform="translate(786.4,681) rotate(-90) scale(0.75,1)" font-size="9.6" text-anchor="middle" font-weight="normal" fill="#333" stroke="#fff" stroke-width="1.8" paint-order="stroke" stroke-linejoin="round">30</text>
<text transform="translate(786.4,723) rotate(-90) scale(0.75,1)" font-size="9.6" text-anchor="middle" font-weight="normal" fill="#333" stroke="#fff" stroke-width="1.8" paint-order="stroke" stroke-linejoin="round">271</text>
<text transform="translate(786.4,750) rotate(-90) scale(0.75,1)" font-size="9.6" text-anchor="middle" font-weight="normal" fill="#333" stroke="#fff" stroke-width="1.8" paint-order="stroke" stroke-linejoin="round">25</text>
<text transform="translate(796.4,759) rotate(-90) scale(0.75,1)" font-size="9.6" text-anchor="middle" font-weight="normal" fill="#333" stroke="#fff" stroke-width="1.8" paint-order="stroke" stroke-linejoin="round">604</text>
<text transform="translate(774.9,829) rotate(-90) scale(0.75,1)" font-size="9.6" text-anchor="middle" font-weight="normal" fill="#333" stroke="#fff" stroke-width="1.8" paint-order="stroke" stroke-linejoin="round">600</text>
<text transform="translate(786.4,829) rotate(-90) scale(0.75,1)" font-size="9.6" text-anchor="middle" font-weight="normal" fill="#333" stroke="#fff" stroke-width="1.8" paint-order="stroke" stroke-linejoin="round">600</text>
<text transform="translate(796.4,895) rotate(-90) scale(0.75,1)" font-size="9.6" text-anchor="middle" font-weight="normal" fill="#333" stroke="#fff" stroke-width="1.8" paint-order="stroke" stroke-linejoin="round">596</text>
<text transform="translate(774.9,931) rotate(-90) scale(0.75,1)" font-size="9.6" text-anchor="middle" font-weight="normal" fill="#333" stroke="#fff" stroke-width="1.8" paint-order="stroke" stroke-linejoin="round">298</text>
<text transform="translate(786.4,931) rotate(-90) scale(0.75,1)" font-size="9.6" text-anchor="middle" font-weight="normal" fill="#333" stroke="#fff" stroke-width="1.8" paint-order="stroke" stroke-linejoin="round">298</text>
<text transform="translate(776.1,998.7) rotate(-90) scale(0.75,1)" font-size="9.6" text-anchor="middle" font-weight="normal" fill="#333" stroke="#fff" stroke-width="1.8" paint-order="stroke" stroke-linejoin="round">300</text>
<text transform="translate(775.6,1146.7) rotate(-90) scale(0.75,1)" font-size="9.6" text-anchor="middle" font-weight="normal" fill="#333" stroke="#fff" stroke-width="1.8" paint-order="stroke" stroke-linejoin="round">310</text>
<text transform="translate(215.7,1045.6) scale(0.75,1)" font-size="9.6" text-anchor="middle" font-weight="normal" fill="#333" stroke="#fff" stroke-width="1.8" paint-order="stroke" stroke-linejoin="round">600</text>
<text transform="translate(218.8,1055.9) scale(0.75,1)" font-size="9.6" text-anchor="middle" font-weight="normal" fill="#333" stroke="#fff" stroke-width="1.8" paint-order="stroke" stroke-linejoin="round">600</text>
<text transform="translate(116.2,1055.9) scale(0.75,1)" font-size="9.6" text-anchor="middle" font-weight="normal" fill="#333" stroke="#fff" stroke-width="1.8" paint-order="stroke" stroke-linejoin="round">310</text>
<text transform="translate(184.3,1065.5) scale(0.75,1)" font-size="9.6" text-anchor="middle" font-weight="normal" fill="#333" stroke="#fff" stroke-width="1.8" paint-order="stroke" stroke-linejoin="round">300</text>
<text transform="translate(252.4,1065.5) scale(0.75,1)" font-size="9.6" text-anchor="middle" font-weight="normal" fill="#333" stroke="#fff" stroke-width="1.8" paint-order="stroke" stroke-linejoin="round">300</text>
<text transform="translate(320.1,1065.5) scale(0.75,1)" font-size="9.6" text-anchor="middle" font-weight="normal" fill="#333" stroke="#fff" stroke-width="1.8" paint-order="stroke" stroke-linejoin="round">300</text>
<text transform="translate(322,1045.6) scale(0.75,1)" font-size="9.6" text-anchor="middle" font-weight="normal" fill="#333" stroke="#fff" stroke-width="1.8" paint-order="stroke" stroke-linejoin="round">334</text>
<text transform="translate(383.3,1045.6) scale(0.75,1)" font-size="9.6" text-anchor="middle" font-weight="normal" fill="#333" stroke="#fff" stroke-width="1.8" paint-order="stroke" stroke-linejoin="round">250</text>
<text transform="translate(408.6,1045.6) scale(0.75,1)" font-size="9.6" text-anchor="middle" font-weight="normal" fill="#333" stroke="#fff" stroke-width="1.8" paint-order="stroke" stroke-linejoin="round">40</text>
<text transform="translate(355.3,1055.9) scale(0.75,1)" font-size="9.6" text-anchor="middle" font-weight="normal" fill="#333" stroke="#fff" stroke-width="1.8" paint-order="stroke" stroke-linejoin="round">610</text>
<text transform="translate(436.3,1045.6) scale(0.75,1)" font-size="9.6" text-anchor="middle" font-weight="normal" fill="#333" stroke="#fff" stroke-width="1.8" paint-order="stroke" stroke-linejoin="round">20</text>
<text transform="translate(462.4,1045.6) scale(0.75,1)" font-size="9.6" text-anchor="middle" font-weight="normal" fill="#333" stroke="#fff" stroke-width="1.8" paint-order="stroke" stroke-linejoin="round">250</text>
<text transform="translate(519.4,1045.6) scale(0.75,1)" font-size="9.6" text-anchor="middle" font-weight="normal" fill="#333" stroke="#fff" stroke-width="1.8" paint-order="stroke" stroke-linejoin="round">330</text>
<text transform="translate(553.8,1045.6) scale(0.75,1)" font-size="9.6" text-anchor="middle" font-weight="normal" fill="#333" stroke="#fff" stroke-width="1.8" paint-order="stroke" stroke-linejoin="round">50</text>
<text transform="translate(589.4,1045.6) scale(0.75,1)" font-size="9.6" text-anchor="middle" font-weight="normal" fill="#333" stroke="#fff" stroke-width="1.8" paint-order="stroke" stroke-linejoin="round">150</text>
<text transform="translate(618.8,1045.6) scale(0.75,1)" font-size="9.6" text-anchor="middle" font-weight="normal" fill="#333" stroke="#fff" stroke-width="1.8" paint-order="stroke" stroke-linejoin="round">110</text>
<text transform="translate(654.4,1045.6) scale(0.75,1)" font-size="9.6" text-anchor="middle" font-weight="normal" fill="#333" stroke="#fff" stroke-width="1.8" paint-order="stroke" stroke-linejoin="round">250</text>
<text transform="translate(680.4,1045.6) scale(0.75,1)" font-size="9.6" text-anchor="middle" font-weight="normal" fill="#333" stroke="#fff" stroke-width="1.8" paint-order="stroke" stroke-linejoin="round">40</text>
<text transform="translate(492.6,1055.9) scale(0.75,1)" font-size="9.6" text-anchor="middle" font-weight="normal" fill="#333" stroke="#fff" stroke-width="1.8" paint-order="stroke" stroke-linejoin="round">602</text>
<text transform="translate(627.6,1055.9) scale(0.75,1)" font-size="9.6" text-anchor="middle" font-weight="normal" fill="#333" stroke="#fff" stroke-width="1.8" paint-order="stroke" stroke-linejoin="round">588</text>
<text transform="translate(422.2,1065.5) scale(0.75,1)" font-size="9.6" text-anchor="middle" font-weight="normal" fill="#333" stroke="#fff" stroke-width="1.8" paint-order="stroke" stroke-linejoin="round">600</text>
<text transform="translate(558,1065.5) scale(0.75,1)" font-size="9.6" text-anchor="middle" font-weight="normal" fill="#333" stroke="#fff" stroke-width="1.8" paint-order="stroke" stroke-linejoin="round">600</text>
<text transform="translate(660.1,1065.5) scale(0.75,1)" font-size="9.6" text-anchor="middle" font-weight="normal" fill="#333" stroke="#fff" stroke-width="1.8" paint-order="stroke" stroke-linejoin="round">300</text>
<text transform="translate(728.7,1055.4) scale(0.75,1)" font-size="9.6" text-anchor="middle" font-weight="normal" fill="#333" stroke="#fff" stroke-width="1.8" paint-order="stroke" stroke-linejoin="round">310</text>
<text transform="translate(728.7,1193.4) scale(0.75,1)" font-size="9.6" text-anchor="middle" font-weight="normal" fill="#333" stroke="#fff" stroke-width="1.8" paint-order="stroke" stroke-linejoin="round">310</text>
<text transform="translate(243.2,198.2) scale(0.78,1)" font-size="9.2" text-anchor="middle" font-weight="normal" fill="#111" >16</text>
<text transform="translate(313.5,176.2) scale(0.78,1)" font-size="9.2" text-anchor="middle" font-weight="normal" fill="#111" >17</text>
<text transform="translate(313.5,218.7) scale(0.78,1)" font-size="9.2" text-anchor="middle" font-weight="normal" fill="#111" >18</text>
<text transform="translate(372,197.7) scale(0.78,1)" font-size="9.2" text-anchor="middle" font-weight="normal" fill="#111" >19</text>
<text transform="translate(437,189.2) scale(0.78,1)" font-size="9.2" text-anchor="middle" font-weight="normal" fill="#111" >21</text>
<text transform="translate(472,187.7) scale(0.78,1)" font-size="9.2" text-anchor="middle" font-weight="normal" fill="#111" >22</text>
<text transform="translate(452,244.7) scale(0.78,1)" font-size="9.2" text-anchor="middle" font-weight="normal" fill="#111" >20</text>
<text transform="translate(238.5,265.7) scale(0.78,1)" font-size="9.2" text-anchor="middle" font-weight="normal" fill="#111" >15</text>
<text transform="translate(334.5,265.7) scale(0.78,1)" font-size="9.2" text-anchor="middle" font-weight="normal" fill="#111" >14</text>
<text transform="translate(297,323.2) scale(0.78,1)" font-size="9.2" text-anchor="middle" font-weight="normal" fill="#111" >13</text>
<text transform="translate(297,390.2) scale(0.78,1)" font-size="9.2" text-anchor="middle" font-weight="normal" fill="#111" >12</text>
<text transform="translate(251.5,456.2) scale(0.78,1)" font-size="9.2" text-anchor="middle" font-weight="normal" fill="#111" >11</text>
<text transform="translate(315.5,456.2) scale(0.78,1)" font-size="9.2" text-anchor="middle" font-weight="normal" fill="#111" >10</text>
<text transform="translate(398.5,366.2) scale(0.78,1)" font-size="9.2" text-anchor="middle" font-weight="normal" fill="#111" >08</text>
<text transform="translate(401,456.2) scale(0.78,1)" font-size="9.2" text-anchor="middle" font-weight="normal" fill="#111" >09</text>
<text transform="translate(558,426.2) scale(0.78,1)" font-size="9.2" text-anchor="middle" font-weight="normal" fill="#111" >23</text>
<text transform="translate(661.5,382.2) scale(0.78,1)" font-size="9.2" text-anchor="middle" font-weight="normal" fill="#111" >24</text>
<text transform="translate(458,603.7) scale(0.78,1)" font-size="9.2" text-anchor="middle" font-weight="normal" fill="#111" >01</text>
<text transform="translate(664.5,597.2) scale(0.78,1)" font-size="9.2" text-anchor="middle" font-weight="normal" fill="#111" >02</text>
<text transform="translate(245.8,604.5) scale(0.78,1)" font-size="9.2" text-anchor="middle" font-weight="normal" fill="#111" >07</text>
<text transform="translate(222,754.2) scale(0.78,1)" font-size="9.2" text-anchor="middle" font-weight="normal" fill="#111" >06</text>
<text transform="translate(391.5,840.2) scale(0.78,1)" font-size="9.2" text-anchor="middle" font-weight="normal" fill="#111" >03</text>
<text transform="translate(522,779.7) scale(0.78,1)" font-size="9.2" text-anchor="middle" font-weight="normal" fill="#111" >04</text>
<text transform="translate(522.5,840.2) scale(0.78,1)" font-size="9.2" text-anchor="middle" font-weight="normal" fill="#111" >05</text>
<line x1="381.6" y1="14.5" x2="381.6" y2="54.6" stroke="#111" stroke-width="0.9" />
<polygon points="381.6,14.5 399.5,22.8 381.6,31.4" fill="#fff" stroke="#111" stroke-width="0.8" />
<text transform="translate(388.6,43) scale(0.72,1)" font-size="12.5" text-anchor="middle" font-weight="bold" fill="#111" >C</text>
<line x1="381" y1="74" x2="381" y2="84.4" stroke="#111" stroke-width="0.9" />
<line x1="380.6" y1="1067.8" x2="380.6" y2="1110" stroke="#111" stroke-width="0.9" />
<polygon points="380.6,1090.8 399.7,1099.6 380.6,1108.8" fill="#fff" stroke="#111" stroke-width="0.8" />
<text transform="translate(387.3,1084.7) scale(0.72,1)" font-size="12.5" text-anchor="middle" font-weight="bold" fill="#111" >C</text>
<line x1="380.6" y1="1047.5" x2="380.6" y2="1056.3" stroke="#111" stroke-width="0.9" />
<polygon points="17.3,666.3 26.9,649 35.5,666.3" fill="#fff" stroke="#111" stroke-width="0.8" />
<line x1="17.3" y1="666.3" x2="58.5" y2="666.3" stroke="#111" stroke-width="0.9" />
<line x1="69.3" y1="666.3" x2="88.8" y2="666.3" stroke="#111" stroke-width="0.9" />
<text transform="translate(42.7,663) scale(0.72,1)" font-size="12.5" text-anchor="middle" font-weight="bold" fill="#111" >B</text>
<line x1="765.5" y1="666.8" x2="784.7" y2="666.8" stroke="#111" stroke-width="0.9" />
<line x1="798" y1="666.8" x2="838" y2="666.8" stroke="#111" stroke-width="0.9" />
<polygon points="820.7,666.8 829.5,649.2 838,666.8" fill="#fff" stroke="#111" stroke-width="0.8" />
<text transform="translate(811,661.3) scale(0.72,1)" font-size="12.5" text-anchor="middle" font-weight="bold" fill="#111" >B</text>
<line x1="162.3" y1="21.3" x2="178.7" y2="51.7" stroke="#222" stroke-width="0.6" />
<line x1="212.3" y1="21.3" x2="190" y2="77" stroke="#222" stroke-width="0.6" />
<rect x="787" y="968" width="154" height="232" fill="#fff" stroke="none" stroke-width="0.6" fill-opacity="0.86"/>
<text transform="translate(804.2,981) scale(0.98,1)" font-size="5.6" text-anchor="start" font-weight="normal" fill="#222" >ZESTAWIENIE POWIERZCHNI</text>
<text transform="translate(793.3,993.6) scale(0.86,1)" font-size="5.6" text-anchor="start" font-weight="normal" fill="#222" >01</text>
<text transform="translate(804.2,993.6) scale(0.94,1)" font-size="5.6" text-anchor="start" font-weight="bold" fill="#222" >KUCHNIA DLA DZIECI Z JADALNIĄ</text>
<text transform="translate(926.8,993.6) scale(0.86,1)" font-size="5.6" text-anchor="end" font-weight="normal" fill="#222" >175,7</text>
<text transform="translate(931,993.6) scale(0.86,1)" font-size="5.6" text-anchor="start" font-weight="normal" fill="#222" >M</text>
<text transform="translate(935.2,991.4) scale(0.86,1)" font-size="3.2" text-anchor="start" font-weight="normal" fill="#222" >2</text>
<text transform="translate(793.3,1001.29) scale(0.86,1)" font-size="5.6" text-anchor="start" font-weight="normal" fill="#222" >02</text>
<text transform="translate(804.2,1001.29) scale(0.94,1)" font-size="5.6" text-anchor="start" font-weight="bold" fill="#222" >OGRÓD ZIMOWY</text>
<text transform="translate(926.8,1001.29) scale(0.86,1)" font-size="5.6" text-anchor="end" font-weight="normal" fill="#222" >35,3</text>
<text transform="translate(931,1001.29) scale(0.86,1)" font-size="5.6" text-anchor="start" font-weight="normal" fill="#222" >M</text>
<text transform="translate(935.2,999.09) scale(0.86,1)" font-size="3.2" text-anchor="start" font-weight="normal" fill="#222" >2</text>
<text transform="translate(793.3,1008.98) scale(0.86,1)" font-size="5.6" text-anchor="start" font-weight="normal" fill="#222" >03</text>
<text transform="translate(804.2,1008.98) scale(0.94,1)" font-size="5.6" text-anchor="start" font-weight="bold" fill="#222" >SALA ODPOCZYNKU</text>
<text transform="translate(926.8,1008.98) scale(0.86,1)" font-size="5.6" text-anchor="end" font-weight="normal" fill="#222" >71,6</text>
<text transform="translate(931,1008.98) scale(0.86,1)" font-size="5.6" text-anchor="start" font-weight="normal" fill="#222" >M</text>
<text transform="translate(935.2,1006.78) scale(0.86,1)" font-size="3.2" text-anchor="start" font-weight="normal" fill="#222" >2</text>
<text transform="translate(793.3,1016.67) scale(0.86,1)" font-size="5.6" text-anchor="start" font-weight="normal" fill="#222" >04</text>
<text transform="translate(804.2,1016.67) scale(0.94,1)" font-size="5.6" text-anchor="start" font-weight="bold" fill="#222" >TOALETA DLA NIEPEŁNOSPRAWNYCH</text>
<text transform="translate(926.8,1016.67) scale(0.86,1)" font-size="5.6" text-anchor="end" font-weight="normal" fill="#222" >5,3</text>
<text transform="translate(931,1016.67) scale(0.86,1)" font-size="5.6" text-anchor="start" font-weight="normal" fill="#222" >M</text>
<text transform="translate(935.2,1014.47) scale(0.86,1)" font-size="3.2" text-anchor="start" font-weight="normal" fill="#222" >2</text>
<text transform="translate(793.3,1024.36) scale(0.86,1)" font-size="5.6" text-anchor="start" font-weight="normal" fill="#222" >05</text>
<text transform="translate(804.2,1024.36) scale(0.94,1)" font-size="5.6" text-anchor="start" font-weight="bold" fill="#222" >MAGAZYN</text>
<text transform="translate(926.8,1024.36) scale(0.86,1)" font-size="5.6" text-anchor="end" font-weight="normal" fill="#222" >10,4</text>
<text transform="translate(931,1024.36) scale(0.86,1)" font-size="5.6" text-anchor="start" font-weight="normal" fill="#222" >M</text>
<text transform="translate(935.2,1022.16) scale(0.86,1)" font-size="3.2" text-anchor="start" font-weight="normal" fill="#222" >2</text>
<text transform="translate(793.3,1032.05) scale(0.86,1)" font-size="5.6" text-anchor="start" font-weight="normal" fill="#222" >06</text>
<text transform="translate(804.2,1032.05) scale(0.94,1)" font-size="5.6" text-anchor="start" font-weight="bold" fill="#222" >TOALETA DLA DZIECI</text>
<text transform="translate(926.8,1032.05) scale(0.86,1)" font-size="5.6" text-anchor="end" font-weight="normal" fill="#222" >33,8</text>
<text transform="translate(931,1032.05) scale(0.86,1)" font-size="5.6" text-anchor="start" font-weight="normal" fill="#222" >M</text>
<text transform="translate(935.2,1029.85) scale(0.86,1)" font-size="3.2" text-anchor="start" font-weight="normal" fill="#222" >2</text>
<text transform="translate(793.3,1039.74) scale(0.86,1)" font-size="5.6" text-anchor="start" font-weight="normal" fill="#222" >07</text>
<text transform="translate(804.2,1039.74) scale(0.94,1)" font-size="5.6" text-anchor="start" font-weight="bold" fill="#222" >SALA WARSZTATOWA</text>
<text transform="translate(926.8,1039.74) scale(0.86,1)" font-size="5.6" text-anchor="end" font-weight="normal" fill="#222" >44,5</text>
<text transform="translate(931,1039.74) scale(0.86,1)" font-size="5.6" text-anchor="start" font-weight="normal" fill="#222" >M</text>
<text transform="translate(935.2,1037.54) scale(0.86,1)" font-size="3.2" text-anchor="start" font-weight="normal" fill="#222" >2</text>
<text transform="translate(793.3,1047.43) scale(0.86,1)" font-size="5.6" text-anchor="start" font-weight="normal" fill="#222" >08</text>
<text transform="translate(804.2,1047.43) scale(0.94,1)" font-size="5.6" text-anchor="start" font-weight="bold" fill="#222" >KUCHNIA</text>
<text transform="translate(926.8,1047.43) scale(0.86,1)" font-size="5.6" text-anchor="end" font-weight="normal" fill="#222" >40,1</text>
<text transform="translate(931,1047.43) scale(0.86,1)" font-size="5.6" text-anchor="start" font-weight="normal" fill="#222" >M</text>
<text transform="translate(935.2,1045.23) scale(0.86,1)" font-size="3.2" text-anchor="start" font-weight="normal" fill="#222" >2</text>
<text transform="translate(793.3,1055.12) scale(0.86,1)" font-size="5.6" text-anchor="start" font-weight="normal" fill="#222" >09</text>
<text transform="translate(804.2,1055.12) scale(0.94,1)" font-size="5.6" text-anchor="start" font-weight="bold" fill="#222" >WYDAWALNIA</text>
<text transform="translate(926.8,1055.12) scale(0.86,1)" font-size="5.6" text-anchor="end" font-weight="normal" fill="#222" >13,9</text>
<text transform="translate(931,1055.12) scale(0.86,1)" font-size="5.6" text-anchor="start" font-weight="normal" fill="#222" >M</text>
<text transform="translate(935.2,1052.92) scale(0.86,1)" font-size="3.2" text-anchor="start" font-weight="normal" fill="#222" >2</text>
<text transform="translate(793.3,1062.81) scale(0.86,1)" font-size="5.6" text-anchor="start" font-weight="normal" fill="#222" >10</text>
<text transform="translate(804.2,1062.81) scale(0.94,1)" font-size="5.6" text-anchor="start" font-weight="bold" fill="#222" >ZMYWALNIA</text>
<text transform="translate(926.8,1062.81) scale(0.86,1)" font-size="5.6" text-anchor="end" font-weight="normal" fill="#222" >10,6</text>
<text transform="translate(931,1062.81) scale(0.86,1)" font-size="5.6" text-anchor="start" font-weight="normal" fill="#222" >M</text>
<text transform="translate(935.2,1060.61) scale(0.86,1)" font-size="3.2" text-anchor="start" font-weight="normal" fill="#222" >2</text>
<text transform="translate(793.3,1070.5) scale(0.86,1)" font-size="5.6" text-anchor="start" font-weight="normal" fill="#222" >11</text>
<text transform="translate(804.2,1070.5) scale(0.94,1)" font-size="5.6" text-anchor="start" font-weight="bold" fill="#222" >MAGAZYN ODPADÓW</text>
<text transform="translate(926.8,1070.5) scale(0.86,1)" font-size="5.6" text-anchor="end" font-weight="normal" fill="#222" >6,1</text>
<text transform="translate(931,1070.5) scale(0.86,1)" font-size="5.6" text-anchor="start" font-weight="normal" fill="#222" >M</text>
<text transform="translate(935.2,1068.3) scale(0.86,1)" font-size="3.2" text-anchor="start" font-weight="normal" fill="#222" >2</text>
<text transform="translate(793.3,1078.19) scale(0.86,1)" font-size="5.6" text-anchor="start" font-weight="normal" fill="#222" >12</text>
<text transform="translate(804.2,1078.19) scale(0.94,1)" font-size="5.6" text-anchor="start" font-weight="bold" fill="#222" >POMIESZCZENIE WSTĘPNEJ OBRÓBKI</text>
<text transform="translate(926.8,1078.19) scale(0.86,1)" font-size="5.6" text-anchor="end" font-weight="normal" fill="#222" >16,7</text>
<text transform="translate(931,1078.19) scale(0.86,1)" font-size="5.6" text-anchor="start" font-weight="normal" fill="#222" >M</text>
<text transform="translate(935.2,1075.99) scale(0.86,1)" font-size="3.2" text-anchor="start" font-weight="normal" fill="#222" >2</text>
<text transform="translate(793.3,1085.88) scale(0.86,1)" font-size="5.6" text-anchor="start" font-weight="normal" fill="#222" >13</text>
<text transform="translate(804.2,1085.88) scale(0.94,1)" font-size="5.6" text-anchor="start" font-weight="bold" fill="#222" >MAGAZYN SPOŻYWCZY</text>
<text transform="translate(926.8,1085.88) scale(0.86,1)" font-size="5.6" text-anchor="end" font-weight="normal" fill="#222" >16,5</text>
<text transform="translate(931,1085.88) scale(0.86,1)" font-size="5.6" text-anchor="start" font-weight="normal" fill="#222" >M</text>
<text transform="translate(935.2,1083.68) scale(0.86,1)" font-size="3.2" text-anchor="start" font-weight="normal" fill="#222" >2</text>
<text transform="translate(793.3,1093.57) scale(0.86,1)" font-size="5.6" text-anchor="start" font-weight="normal" fill="#222" >14</text>
<text transform="translate(804.2,1093.57) scale(0.94,1)" font-size="5.6" text-anchor="start" font-weight="bold" fill="#222" >KOMUNIKACJA POZIOMA</text>
<text transform="translate(926.8,1093.57) scale(0.86,1)" font-size="5.6" text-anchor="end" font-weight="normal" fill="#222" >12,3</text>
<text transform="translate(931,1093.57) scale(0.86,1)" font-size="5.6" text-anchor="start" font-weight="normal" fill="#222" >M</text>
<text transform="translate(935.2,1091.37) scale(0.86,1)" font-size="3.2" text-anchor="start" font-weight="normal" fill="#222" >2</text>
<text transform="translate(793.3,1101.26) scale(0.86,1)" font-size="5.6" text-anchor="start" font-weight="normal" fill="#222" >15</text>
<text transform="translate(804.2,1101.26) scale(0.94,1)" font-size="5.6" text-anchor="start" font-weight="bold" fill="#222" >WIATROŁAP</text>
<text transform="translate(926.8,1101.26) scale(0.86,1)" font-size="5.6" text-anchor="end" font-weight="normal" fill="#222" >2,4</text>
<text transform="translate(931,1101.26) scale(0.86,1)" font-size="5.6" text-anchor="start" font-weight="normal" fill="#222" >M</text>
<text transform="translate(935.2,1099.06) scale(0.86,1)" font-size="3.2" text-anchor="start" font-weight="normal" fill="#222" >2</text>
<text transform="translate(793.3,1108.95) scale(0.86,1)" font-size="5.6" text-anchor="start" font-weight="normal" fill="#222" >16</text>
<text transform="translate(804.2,1108.95) scale(0.94,1)" font-size="5.6" text-anchor="start" font-weight="bold" fill="#222" >POKÓJ INTENDENTA</text>
<text transform="translate(926.8,1108.95) scale(0.86,1)" font-size="5.6" text-anchor="end" font-weight="normal" fill="#222" >11,3</text>
<text transform="translate(931,1108.95) scale(0.86,1)" font-size="5.6" text-anchor="start" font-weight="normal" fill="#222" >M</text>
<text transform="translate(935.2,1106.75) scale(0.86,1)" font-size="3.2" text-anchor="start" font-weight="normal" fill="#222" >2</text>
<text transform="translate(793.3,1116.64) scale(0.86,1)" font-size="5.6" text-anchor="start" font-weight="normal" fill="#222" >17</text>
<text transform="translate(804.2,1116.64) scale(0.94,1)" font-size="5.6" text-anchor="start" font-weight="bold" fill="#222" >KOTŁOWNIA</text>
<text transform="translate(926.8,1116.64) scale(0.86,1)" font-size="5.6" text-anchor="end" font-weight="normal" fill="#222" >3,4</text>
<text transform="translate(931,1116.64) scale(0.86,1)" font-size="5.6" text-anchor="start" font-weight="normal" fill="#222" >M</text>
<text transform="translate(935.2,1114.44) scale(0.86,1)" font-size="3.2" text-anchor="start" font-weight="normal" fill="#222" >2</text>
<text transform="translate(793.3,1124.33) scale(0.86,1)" font-size="5.6" text-anchor="start" font-weight="normal" fill="#222" >18</text>
<text transform="translate(804.2,1124.33) scale(0.94,1)" font-size="5.6" text-anchor="start" font-weight="bold" fill="#222" >POMIESZCZENIE PORZĄDKOWE</text>
<text transform="translate(926.8,1124.33) scale(0.86,1)" font-size="5.6" text-anchor="end" font-weight="normal" fill="#222" >4,2</text>
<text transform="translate(931,1124.33) scale(0.86,1)" font-size="5.6" text-anchor="start" font-weight="normal" fill="#222" >M</text>
<text transform="translate(935.2,1122.13) scale(0.86,1)" font-size="3.2" text-anchor="start" font-weight="normal" fill="#222" >2</text>
<text transform="translate(793.3,1132.02) scale(0.86,1)" font-size="5.6" text-anchor="start" font-weight="normal" fill="#222" >19</text>
<text transform="translate(804.2,1132.02) scale(0.94,1)" font-size="5.6" text-anchor="start" font-weight="bold" fill="#222" >POKÓJ SOCJALNY</text>
<text transform="translate(926.8,1132.02) scale(0.86,1)" font-size="5.6" text-anchor="end" font-weight="normal" fill="#222" >15,2</text>
<text transform="translate(931,1132.02) scale(0.86,1)" font-size="5.6" text-anchor="start" font-weight="normal" fill="#222" >M</text>
<text transform="translate(935.2,1129.82) scale(0.86,1)" font-size="3.2" text-anchor="start" font-weight="normal" fill="#222" >2</text>
<text transform="translate(793.3,1139.71) scale(0.86,1)" font-size="5.6" text-anchor="start" font-weight="normal" fill="#222" >20</text>
<text transform="translate(804.2,1139.71) scale(0.94,1)" font-size="5.6" text-anchor="start" font-weight="bold" fill="#222" >SZATNIA</text>
<text transform="translate(926.8,1139.71) scale(0.86,1)" font-size="5.6" text-anchor="end" font-weight="normal" fill="#222" >3,9</text>
<text transform="translate(931,1139.71) scale(0.86,1)" font-size="5.6" text-anchor="start" font-weight="normal" fill="#222" >M</text>
<text transform="translate(935.2,1137.51) scale(0.86,1)" font-size="3.2" text-anchor="start" font-weight="normal" fill="#222" >2</text>
<text transform="translate(793.3,1147.4) scale(0.86,1)" font-size="5.6" text-anchor="start" font-weight="normal" fill="#222" >21</text>
<text transform="translate(804.2,1147.4) scale(0.94,1)" font-size="5.6" text-anchor="start" font-weight="bold" fill="#222" >TOALETA</text>
<text transform="translate(926.8,1147.4) scale(0.86,1)" font-size="5.6" text-anchor="end" font-weight="normal" fill="#222" >3,2</text>
<text transform="translate(931,1147.4) scale(0.86,1)" font-size="5.6" text-anchor="start" font-weight="normal" fill="#222" >M</text>
<text transform="translate(935.2,1145.2) scale(0.86,1)" font-size="3.2" text-anchor="start" font-weight="normal" fill="#222" >2</text>
<text transform="translate(793.3,1155.09) scale(0.86,1)" font-size="5.6" text-anchor="start" font-weight="normal" fill="#222" >22</text>
<text transform="translate(804.2,1155.09) scale(0.94,1)" font-size="5.6" text-anchor="start" font-weight="bold" fill="#222" >PRYSZNIC</text>
<text transform="translate(926.8,1155.09) scale(0.86,1)" font-size="5.6" text-anchor="end" font-weight="normal" fill="#222" >3,1</text>
<text transform="translate(931,1155.09) scale(0.86,1)" font-size="5.6" text-anchor="start" font-weight="normal" fill="#222" >M</text>
<text transform="translate(935.2,1152.89) scale(0.86,1)" font-size="3.2" text-anchor="start" font-weight="normal" fill="#222" >2</text>
<text transform="translate(793.3,1162.78) scale(0.86,1)" font-size="5.6" text-anchor="start" font-weight="normal" fill="#222" >23</text>
<text transform="translate(804.2,1162.78) scale(0.94,1)" font-size="5.6" text-anchor="start" font-weight="bold" fill="#222" >SZATNIA DLA DZIECI</text>
<text transform="translate(926.8,1162.78) scale(0.86,1)" font-size="5.6" text-anchor="end" font-weight="normal" fill="#222" >36,4</text>
<text transform="translate(931,1162.78) scale(0.86,1)" font-size="5.6" text-anchor="start" font-weight="normal" fill="#222" >M</text>
<text transform="translate(935.2,1160.58) scale(0.86,1)" font-size="3.2" text-anchor="start" font-weight="normal" fill="#222" >2</text>
<text transform="translate(793.3,1170.47) scale(0.86,1)" font-size="5.6" text-anchor="start" font-weight="normal" fill="#222" >24</text>
<text transform="translate(804.2,1170.47) scale(0.94,1)" font-size="5.6" text-anchor="start" font-weight="bold" fill="#222" >WIATROŁAP</text>
<text transform="translate(926.8,1170.47) scale(0.86,1)" font-size="5.6" text-anchor="end" font-weight="normal" fill="#222" >8,1</text>
<text transform="translate(931,1170.47) scale(0.86,1)" font-size="5.6" text-anchor="start" font-weight="normal" fill="#222" >M</text>
<text transform="translate(935.2,1168.27) scale(0.86,1)" font-size="3.2" text-anchor="start" font-weight="normal" fill="#222" >2</text>
<text transform="translate(804.2,1178.16) scale(0.94,1)" font-size="5.6" text-anchor="start" font-weight="bold" fill="#222" >SUMA</text>
<text transform="translate(926.8,1178.16) scale(0.86,1)" font-size="5.6" text-anchor="end" font-weight="normal" fill="#222" >584,0</text>
<text transform="translate(931,1178.16) scale(0.86,1)" font-size="5.6" text-anchor="start" font-weight="normal" fill="#222" >M</text>
<text transform="translate(935.2,1175.96) scale(0.86,1)" font-size="3.2" text-anchor="start" font-weight="normal" fill="#222" >2</text>
<text transform="translate(899.3,1198.6) scale(0.625,1)" font-size="22.5" text-anchor="start" font-weight="normal" fill="#111" >RZUT</text>
</svg></body></html>
